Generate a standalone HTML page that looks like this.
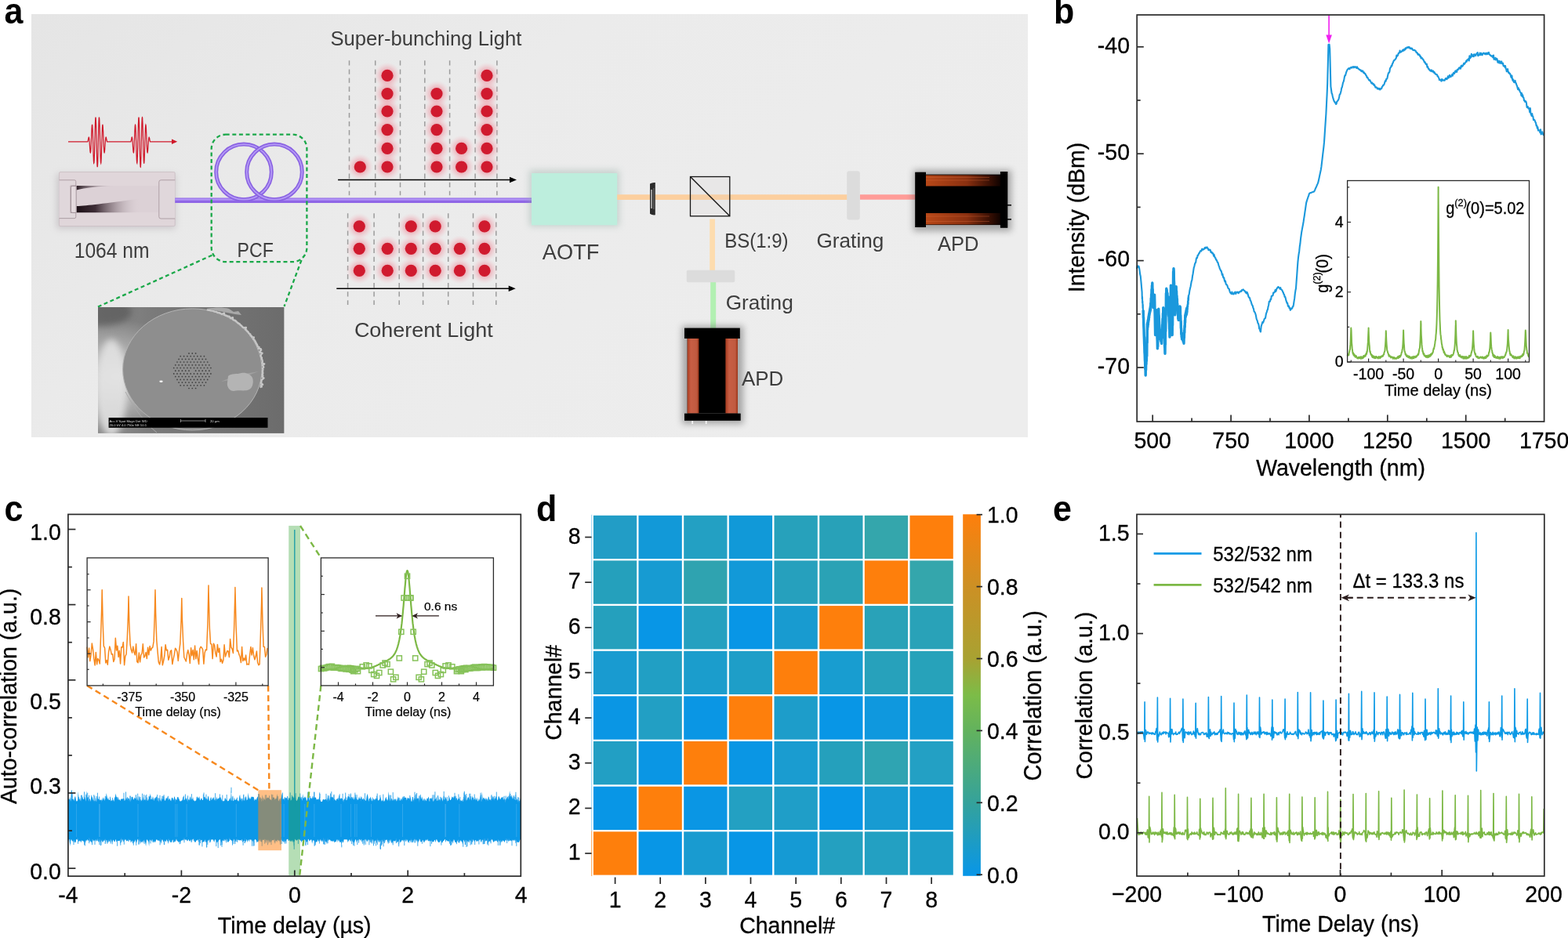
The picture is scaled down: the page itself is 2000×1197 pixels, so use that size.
<!DOCTYPE html>
<html><head><meta charset="utf-8"><title>Figure</title>
<style>
html,body{margin:0;padding:0;background:#fff;}
body{width:2000px;height:1197px;overflow:hidden;}
svg{display:block;font-family:'Liberation Sans', Arial, sans-serif;}
</style></head><body>
<svg width="2000" height="1197" viewBox="0 0 2000 1197">
<rect width="2000" height="1197" fill="#fff"/>
<defs>
<linearGradient id="abg" x1="0" y1="0" x2="1" y2="0.5"><stop offset="0" stop-color="#e5e5e5"/><stop offset="0.45" stop-color="#ebebeb"/><stop offset="1" stop-color="#ededed"/></linearGradient>
<radialGradient id="glow"><stop offset="0.4" stop-color="#ec7a8a" stop-opacity="0.55"/><stop offset="0.7" stop-color="#f0a0ac" stop-opacity="0.3"/><stop offset="1" stop-color="#f4c0c8" stop-opacity="0"/></radialGradient>
<filter id="sh" x="-30%" y="-30%" width="160%" height="160%"><feGaussianBlur stdDeviation="4"/></filter>
<filter id="sh2" x="-30%" y="-30%" width="160%" height="160%"><feGaussianBlur stdDeviation="1.2"/></filter>
<linearGradient id="cav" x1="0" y1="0" x2="1" y2="0"><stop offset="0" stop-color="#1c0f16"/><stop offset="0.3" stop-color="#3e2d36"/><stop offset="0.6" stop-color="#8c7c84" stop-opacity="0.7"/><stop offset="1" stop-color="#d6cbd0" stop-opacity="0"/></linearGradient><linearGradient id="cav2" x1="0" y1="0" x2="1" y2="0"><stop offset="0" stop-color="#2c1e26"/><stop offset="0.4" stop-color="#6a5a62" stop-opacity="0.6"/><stop offset="1" stop-color="#d6cbd0" stop-opacity="0"/></linearGradient>
<linearGradient id="cuH" x1="0" y1="0" x2="1" y2="0"><stop offset="0" stop-color="#b84818"/><stop offset="0.55" stop-color="#8a3010"/><stop offset="0.85" stop-color="#3a1004"/><stop offset="1" stop-color="#100300"/></linearGradient>
<linearGradient id="cuV" x1="0" y1="0" x2="1" y2="0"><stop offset="0" stop-color="#a83c20"/><stop offset="0.3" stop-color="#c85e44"/><stop offset="0.8" stop-color="#c05a40"/><stop offset="1" stop-color="#9a3418"/></linearGradient>
<radialGradient id="semglow" cx="0.1" cy="0.55" r="0.45"><stop offset="0" stop-color="#d8d8d8"/><stop offset="1" stop-color="#d8d8d8" stop-opacity="0"/></radialGradient>
<linearGradient id="sembg" x1="0" y1="0" x2="1" y2="0"><stop offset="0" stop-color="#8a8a8a"/><stop offset="0.3" stop-color="#7a7a7a"/><stop offset="1" stop-color="#6c6c6c"/></linearGradient>
</defs>
<rect x="40" y="18" width="1271" height="540" fill="url(#abg)" />
<text x="421.4" y="57.7" font-size="25.7" fill="#3d3d3d" textLength="244" lengthAdjust="spacingAndGlyphs">Super-bunching Light</text>
<text x="451.9" y="430" font-size="25.2" fill="#3d3d3d" textLength="176.8" lengthAdjust="spacingAndGlyphs">Coherent Light</text>
<text x="94.7" y="328.9" font-size="27" fill="#3d3d3d" textLength="95.9" lengthAdjust="spacingAndGlyphs">1064 nm</text>
<text x="302.6" y="327.8" font-size="26.4" fill="#3d3d3d" textLength="46.2" lengthAdjust="spacingAndGlyphs">PCF</text>
<text x="691.8" y="331.2" font-size="27.2" fill="#3d3d3d" textLength="72.5" lengthAdjust="spacingAndGlyphs">AOTF</text>
<text x="924.2" y="315.5" font-size="26.2" fill="#3d3d3d" textLength="81.4" lengthAdjust="spacingAndGlyphs">BS(1:9)</text>
<text x="1041.5" y="316.1" font-size="25.8" fill="#3d3d3d" textLength="85.8" lengthAdjust="spacingAndGlyphs">Grating</text>
<text x="1195.9" y="319.8" font-size="26.4" fill="#3d3d3d" textLength="52.5" lengthAdjust="spacingAndGlyphs">APD</text>
<text x="925.7" y="394.7" font-size="25.8" fill="#3d3d3d" textLength="86.1" lengthAdjust="spacingAndGlyphs">Grating</text>
<text x="946" y="491.8" font-size="26.4" fill="#3d3d3d" textLength="53.3" lengthAdjust="spacingAndGlyphs">APD</text>
<rect x="72" y="222" width="152" height="70" fill="#9a9098" opacity="0.35" filter="url(#sh)"/>
<rect x="75.5" y="219.5" width="147.7" height="69.1" rx="1.5" fill="#e0d6da" stroke="#c9bcc2" stroke-width="0.8"/>
<path d="M75.5,229.8 H95 Q96.8,229.8 96.8,231.6 V237 H90 V271.5 H96.8 V276.8 Q96.8,278.6 95,278.6 H75.5" fill="#e0d7db" stroke="#a8989f" stroke-width="0.9"/>
<rect x="97.6" y="237" width="105" height="34" fill="#dcd1d6"/>
<path d="M97.6,271.2 V263 C112,262.5 135,259.5 178,253.5 V271.2 Z" fill="url(#cav)"/>
<path d="M97.6,237 H150 C125,237.8 108,239.5 97.6,242.5 Z" fill="url(#cav2)"/>
<path d="M97.2,237.4 H92.5 Q90.5,237.4 90.5,239.4 V269.4 Q90.5,271.4 92.5,271.4 H97.2 Z" fill="#e4dade" stroke="#9c8c94" stroke-width="0.9"/>
<path d="M223.2,229.8 H205.2 Q202.8,229.8 202.8,232.2 V276.6 Q202.8,279 205.2,279 H223.2" fill="#e0d7db" stroke="#a8989f" stroke-width="0.9"/>
<polyline points="87,180.8 87.2,180.8 87.3,180.8 87.5,180.8 87.6,180.8 87.8,180.8 87.9,180.8 88.1,180.8 88.2,180.8 88.4,180.8 88.5,180.8 88.7,180.8 88.8,180.8 89,180.8 89.1,180.8 89.3,180.8 89.4,180.8 89.6,180.8 89.7,180.8 89.9,180.8 90,180.8 90.2,180.8 90.3,180.8 90.5,180.8 90.6,180.8 90.8,180.8 90.9,180.8 91.1,180.8 91.2,180.8 91.4,180.8 91.5,180.8 91.7,180.8 91.8,180.8 92,180.8 92.1,180.8 92.3,180.8 92.4,180.8 92.6,180.8 92.7,180.8 92.9,180.8 93,180.8 93.2,180.8 93.3,180.8 93.5,180.8 93.6,180.8 93.8,180.8 93.9,180.8 94.1,180.8 94.2,180.8 94.4,180.8 94.5,180.8 94.7,180.8 94.8,180.8 95,180.8 95.1,180.8 95.3,180.8 95.4,180.8 95.6,180.8 95.7,180.8 95.9,180.8 96,180.8 96.2,180.8 96.3,180.8 96.5,180.8 96.6,180.8 96.8,180.8 96.9,180.8 97.1,180.8 97.2,180.8 97.4,180.8 97.5,180.8 97.7,180.8 97.8,180.8 98,180.8 98.1,180.8 98.3,180.8 98.4,180.8 98.6,180.8 98.7,180.8 98.9,180.8 99,180.8 99.2,180.8 99.3,180.8 99.5,180.8 99.6,180.8 99.8,180.8 99.9,180.8 100.1,180.8 100.2,180.8 100.4,180.8 100.5,180.8 100.7,180.8 100.8,180.8 101,180.8 101.1,180.8 101.3,180.8 101.4,180.8 101.6,180.8 101.7,180.8 101.9,180.8 102,180.8 102.2,180.8 102.3,180.8 102.5,180.8 102.6,180.8 102.8,180.8 102.9,180.8 103.1,180.8 103.2,180.8 103.4,180.8 103.5,180.8 103.7,180.8 103.8,180.8 104,180.8 104.1,180.8 104.3,180.8 104.4,180.8 104.6,180.8 104.7,180.8 104.9,180.8 105,180.8 105.2,180.8 105.3,180.8 105.5,180.8 105.6,180.8 105.8,180.8 105.9,180.8 106.1,180.8 106.2,180.8 106.4,180.8 106.5,180.8 106.7,180.8 106.8,180.8 107,180.8 107.1,180.8 107.3,180.8 107.4,180.8 107.6,180.8 107.7,180.8 107.9,180.8 108,180.8 108.2,180.8 108.3,180.8 108.5,180.8 108.6,180.8 108.8,180.8 108.9,180.8 109.1,180.8 109.2,180.8 109.4,180.8 109.5,180.8 109.7,180.8 109.8,180.8 110,180.8 110.1,180.8 110.3,180.8 110.4,180.8 110.6,180.8 110.7,180.8 110.9,180.8 111,180.8 111.2,180.8 111.3,180.8 111.5,180.8 111.6,180.8 111.8,180.8 111.9,180.7 112.1,180.4 112.2,179.8 112.4,179 112.5,178.2 112.7,177.3 112.8,176.4 113,175.7 113.1,175.3 113.3,175.1 113.4,175.2 113.6,175.8 113.7,176.8 113.9,178.1 114,179.8 114.2,181.8 114.3,184 114.5,186.3 114.6,188.5 114.8,190.6 114.9,192.4 115.1,193.8 115.2,194.6 115.4,194.8 115.5,194.4 115.7,193.3 115.8,191.5 116,189 116.1,186.1 116.3,182.6 116.4,178.9 116.6,175.1 116.7,171.3 116.9,167.7 117,164.6 117.2,162.1 117.3,160.3 117.5,159.4 117.6,159.4 117.8,160.4 117.9,162.4 118.1,165.3 118.2,169 118.4,173.4 118.5,178.2 118.7,183.4 118.8,188.6 119,193.6 119.1,198.2 119.3,202.1 119.4,205.2 119.6,207.2 119.7,208.2 119.9,207.9 120,206.4 120.2,203.7 120.3,199.9 120.5,195.2 120.6,189.8 120.8,183.9 120.9,177.7 121.1,171.6 121.2,165.7 121.4,160.5 121.5,156.1 121.7,152.7 121.8,150.5 122,149.7 122.1,150.2 122.3,152.1 122.4,155.3 122.6,159.6 122.7,164.9 122.9,170.9 123,177.5 123.2,184.2 123.3,190.7 123.5,196.9 123.6,202.4 123.8,207 123.9,210.4 124.1,212.5 124.2,213.2 124.4,212.5 124.5,210.4 124.7,207 124.8,202.4 125,196.9 125.1,190.7 125.3,184.2 125.4,177.5 125.6,170.9 125.7,164.9 125.9,159.6 126,155.3 126.2,152.1 126.3,150.2 126.5,149.7 126.6,150.5 126.8,152.7 126.9,156.1 127.1,160.5 127.2,165.7 127.4,171.6 127.5,177.7 127.7,183.9 127.8,189.8 128,195.2 128.1,199.9 128.3,203.7 128.4,206.4 128.6,207.9 128.7,208.2 128.9,207.2 129,205.2 129.2,202.1 129.3,198.2 129.5,193.6 129.6,188.6 129.8,183.4 129.9,178.2 130.1,173.4 130.2,169 130.4,165.3 130.5,162.4 130.7,160.4 130.8,159.4 131,159.4 131.1,160.3 131.3,162.1 131.4,164.6 131.6,167.7 131.7,171.3 131.9,175.1 132,178.9 132.2,182.6 132.3,186.1 132.5,189 132.6,191.5 132.8,193.3 132.9,194.4 133.1,194.8 133.2,194.6 133.4,193.8 133.5,192.4 133.7,190.6 133.8,188.5 134,186.3 134.1,184 134.3,181.8 134.4,179.8 134.6,178.1 134.7,176.8 134.9,175.8 135,175.2 135.2,175.1 135.3,175.3 135.5,175.7 135.6,176.4 135.8,177.3 135.9,178.2 136.1,179 136.2,179.8 136.4,180.4 136.5,180.7 136.7,180.8 136.8,180.8 137,180.8 137.1,180.8 137.3,180.8 137.4,180.8 137.6,180.8 137.7,180.8 137.9,180.8 138,180.8 138.2,180.8 138.3,180.8 138.5,180.8 138.6,180.8 138.8,180.8 138.9,180.8 139.1,180.8 139.2,180.8 139.4,180.8 139.5,180.8 139.7,180.8 139.8,180.8 140,180.8 140.1,180.8 140.3,180.8 140.4,180.8 140.6,180.8 140.7,180.8 140.9,180.8 141,180.8 141.2,180.8 141.3,180.8 141.5,180.8 141.6,180.8 141.8,180.8 141.9,180.8 142.1,180.8 142.2,180.8 142.4,180.8 142.5,180.8 142.7,180.8 142.8,180.8 143,180.8 143.1,180.8 143.3,180.8 143.4,180.8 143.6,180.8 143.7,180.8 143.9,180.8 144,180.8 144.2,180.8 144.3,180.8 144.5,180.8 144.6,180.8 144.8,180.8 144.9,180.8 145.1,180.8 145.2,180.8 145.4,180.8 145.5,180.8 145.7,180.8 145.8,180.8 146,180.8 146.1,180.8 146.3,180.8 146.4,180.8 146.6,180.8 146.7,180.8 146.9,180.8 147,180.8 147.2,180.8 147.3,180.8 147.5,180.8 147.6,180.8 147.8,180.8 147.9,180.8 148.1,180.8 148.2,180.8 148.4,180.8 148.5,180.8 148.7,180.8 148.8,180.8 149,180.8 149.1,180.8 149.3,180.8 149.4,180.8 149.6,180.8 149.7,180.8 149.9,180.8 150,180.8 150.2,180.8 150.3,180.8 150.5,180.8 150.6,180.8 150.8,180.8 150.9,180.8 151.1,180.8 151.2,180.8 151.4,180.8 151.5,180.8 151.7,180.8 151.8,180.8 152,180.8 152.1,180.8 152.3,180.8 152.4,180.8 152.6,180.8 152.7,180.8 152.9,180.8 153,180.8 153.2,180.8 153.3,180.8 153.5,180.8 153.6,180.8 153.8,180.8 153.9,180.8 154.1,180.8 154.2,180.8 154.4,180.8 154.5,180.8 154.7,180.8 154.8,180.8 155,180.8 155.1,180.8 155.3,180.8 155.4,180.8 155.6,180.8 155.7,180.8 155.9,180.8 156,180.8 156.2,180.8 156.3,180.8 156.5,180.8 156.6,180.8 156.8,180.8 156.9,180.8 157.1,180.8 157.2,180.8 157.4,180.8 157.5,180.8 157.7,180.8 157.8,180.8 158,180.8 158.1,180.8 158.3,180.8 158.4,180.8 158.6,180.8 158.7,180.8 158.9,180.8 159,180.8 159.2,180.8 159.3,180.8 159.5,180.8 159.6,180.8 159.8,180.8 159.9,180.8 160.1,180.8 160.2,180.8 160.4,180.8 160.5,180.8 160.7,180.8 160.8,180.8 161,180.8 161.1,180.8 161.3,180.8 161.4,180.8 161.6,180.8 161.7,180.8 161.9,180.8 162,180.8 162.2,180.8 162.3,180.8 162.5,180.8 162.6,180.8 162.8,180.8 162.9,180.8 163.1,180.8 163.2,180.8 163.4,180.8 163.5,180.8 163.7,180.8 163.8,180.8 164,180.8 164.1,180.8 164.3,180.8 164.4,180.8 164.6,180.8 164.7,180.8 164.9,180.8 165,180.8 165.2,180.8 165.3,180.8 165.5,180.8 165.6,180.8 165.8,180.8 165.9,180.8 166.1,180.8 166.2,180.8 166.4,180.8 166.5,180.8 166.7,180.8 166.8,180.8 167,180.6 167.1,180.2 167.3,179.5 167.4,178.8 167.6,177.9 167.7,177 167.9,176.2 168,175.5 168.2,175.2 168.3,175.1 168.5,175.4 168.6,176.1 168.8,177.2 168.9,178.7 169.1,180.5 169.2,182.5 169.4,184.8 169.5,187 169.7,189.2 169.8,191.2 170,192.9 170.1,194.1 170.3,194.7 170.4,194.8 170.6,194.1 170.7,192.8 170.9,190.7 171,188.1 171.2,185 171.3,181.4 171.5,177.6 171.6,173.8 171.8,170.1 171.9,166.6 172.1,163.7 172.2,161.4 172.4,159.9 172.5,159.3 172.7,159.6 172.8,161 173,163.2 173.1,166.4 173.3,170.4 173.4,175 173.6,179.9 173.7,185.1 173.9,190.3 174,195.2 174.2,199.6 174.3,203.2 174.5,206 174.6,207.7 174.8,208.2 174.9,207.5 175.1,205.6 175.2,202.5 175.4,198.5 175.5,193.5 175.7,187.9 175.8,181.8 176,175.6 176.1,169.6 176.3,163.9 176.4,158.9 176.6,154.8 176.7,151.8 176.9,150.1 177,149.7 177.2,150.7 177.3,153 177.5,156.6 177.6,161.3 177.8,166.8 177.9,173.1 178.1,179.7 178.2,186.4 178.4,192.9 178.5,198.8 178.7,204.1 178.8,208.2 179,211.2 179.1,212.9 179.3,213.1 179.4,211.9 179.6,209.4 179.7,205.6 179.9,200.7 180,194.9 180.2,188.6 180.3,181.9 180.5,175.2 180.6,168.9 180.8,163 180.9,158 181.1,154.1 181.2,151.3 181.4,149.9 181.5,149.8 181.7,151.1 181.8,153.7 182,157.4 182.1,162.2 182.3,167.6 182.4,173.6 182.6,179.8 182.7,185.9 182.9,191.7 183,196.9 183.2,201.3 183.3,204.7 183.5,207 183.6,208.1 183.8,208 183.9,206.7 184.1,204.3 184.2,200.9 184.4,196.7 184.5,192 184.7,186.9 184.8,181.7 185,176.6 185.1,171.8 185.3,167.7 185.4,164.2 185.6,161.6 185.7,160 185.9,159.3 186,159.6 186.2,160.8 186.3,162.8 186.5,165.6 186.6,168.9 186.8,172.5 186.9,176.4 187.1,180.2 187.2,183.8 187.4,187.1 187.5,189.9 187.7,192.2 187.8,193.7 188,194.6 188.1,194.8 188.3,194.4 188.4,193.3 188.6,191.8 188.7,189.9 188.9,187.8 189,185.5 189.2,183.3 189.3,181.1 189.5,179.2 189.6,177.6 189.8,176.4 189.9,175.6 190.1,175.1 190.2,175.1 190.4,175.4 190.5,175.9 190.7,176.7 190.8,177.6 191,178.5 191.1,179.3 191.3,180 191.4,180.5 191.6,180.8 191.7,180.8 191.9,180.8 192,180.8 192.2,180.8 192.3,180.8 192.5,180.8 192.6,180.8 192.8,180.8 192.9,180.8 193.1,180.8 193.2,180.8 193.4,180.8 193.5,180.8 193.7,180.8 193.8,180.8 194,180.8 194.1,180.8 194.3,180.8 194.4,180.8 194.6,180.8 194.7,180.8 194.9,180.8 195,180.8 195.2,180.8 195.3,180.8 195.5,180.8 195.6,180.8 195.8,180.8 195.9,180.8 196.1,180.8 196.2,180.8 196.4,180.8 196.5,180.8 196.7,180.8 196.8,180.8 197,180.8 197.1,180.8 197.3,180.8 197.4,180.8 197.6,180.8 197.7,180.8 197.9,180.8 198,180.8 198.2,180.8 198.3,180.8 198.5,180.8 198.6,180.8 198.8,180.8 198.9,180.8 199.1,180.8 199.2,180.8 199.4,180.8 199.5,180.8 199.7,180.8 199.8,180.8 200,180.8 200.1,180.8 200.3,180.8 200.4,180.8 200.6,180.8 200.7,180.8 200.9,180.8 201,180.8 201.2,180.8 201.3,180.8 201.5,180.8 201.6,180.8 201.8,180.8 201.9,180.8 202.1,180.8 202.2,180.8 202.4,180.8 202.5,180.8 202.7,180.8 202.8,180.8 203,180.8 203.1,180.8 203.3,180.8 203.4,180.8 203.6,180.8 203.7,180.8 203.9,180.8 204,180.8 204.2,180.8 204.3,180.8 204.5,180.8 204.6,180.8 204.8,180.8 204.9,180.8 205.1,180.8 205.2,180.8 205.4,180.8 205.5,180.8 205.7,180.8 205.8,180.8 206,180.8 206.1,180.8 206.3,180.8 206.4,180.8 206.6,180.8 206.7,180.8 206.9,180.8 207,180.8 207.2,180.8 207.3,180.8 207.5,180.8 207.6,180.8 207.8,180.8 207.9,180.8 208.1,180.8 208.2,180.8 208.4,180.8 208.5,180.8 208.7,180.8 208.8,180.8 209,180.8 209.1,180.8 209.3,180.8 209.4,180.8 209.6,180.8 209.7,180.8 209.9,180.8 210,180.8 210.2,180.8 210.3,180.8 210.5,180.8 210.6,180.8 210.8,180.8 210.9,180.8 211.1,180.8 211.2,180.8 211.4,180.8 211.5,180.8 211.7,180.8 211.8,180.8 212,180.8 212.1,180.8 212.3,180.8 212.4,180.8 212.6,180.8 212.7,180.8 212.9,180.8 213,180.8 213.2,180.8 213.3,180.8 213.5,180.8 213.6,180.8 213.8,180.8 213.9,180.8 214.1,180.8 214.2,180.8 214.4,180.8 214.5,180.8 214.7,180.8 214.8,180.8 215,180.8 215.1,180.8 215.3,180.8 215.4,180.8 215.6,180.8 215.7,180.8 215.9,180.8 216,180.8 216.2,180.8 216.3,180.8 216.5,180.8 216.6,180.8 216.8,180.8 216.9,180.8 217.1,180.8 217.2,180.8 217.4,180.8 217.5,180.8 217.7,180.8 217.8,180.8 218,180.8 218.1,180.8 218.3,180.8 218.4,180.8 218.6,180.8 218.7,180.8 218.9,180.8 219,180.8 219.2,180.8 219.3,180.8 219.5,180.8 219.6,180.8 219.8,180.8 219.9,180.8" fill="none" stroke="#d0182a" stroke-width="1.25"/>
<polygon points="226.2,180.8 219,177.6 219,184" fill="#d0182a"/>
<line x1="223.2" y1="255.7" x2="678" y2="255.7" stroke="#8f66e6" stroke-width="6.6" />
<line x1="223.2" y1="254.6" x2="678" y2="254.6" stroke="#b295f6" stroke-width="2.2" />
<circle cx="311" cy="219.4" r="35.3" fill="none" stroke="#8a62e2" stroke-width="5"/>
<circle cx="311" cy="219.4" r="35.3" fill="none" stroke="#b49af6" stroke-width="1.8"/>
<circle cx="350" cy="219.4" r="35.3" fill="none" stroke="#8a62e2" stroke-width="5"/>
<circle cx="350" cy="219.4" r="35.3" fill="none" stroke="#b49af6" stroke-width="1.8"/>
<rect x="269.7" y="171.7" width="121.7" height="162.4" rx="18" fill="none" stroke="#1aa849" stroke-width="2.3" stroke-dasharray="5,3.6"/>
<line x1="270.4" y1="325.7" x2="125" y2="391.5" stroke="#1aa849" stroke-width="2.3" stroke-dasharray="5,3.6"/>
<line x1="384.5" y1="332" x2="362.5" y2="391" stroke="#1aa849" stroke-width="2.3" stroke-dasharray="5,3.6"/>
<clipPath id="semclip"><rect x="125" y="392" width="237.6" height="160.9"/></clipPath>
<g clip-path="url(#semclip)">
<rect x="125" y="392" width="237.6" height="160.9" fill="url(#sembg)" />
<rect x="125" y="392" width="237.6" height="160.9" fill="url(#semglow)" />
<ellipse cx="142" cy="495" rx="20" ry="62" fill="#e4e4e4" opacity="0.85" filter="url(#sh)"/>
<ellipse cx="128" cy="398" rx="40" ry="18" fill="#505050" opacity="0.6" filter="url(#sh)"/>
<ellipse cx="245.3" cy="471.4" rx="88.7" ry="77.5" fill="#8e8e8e" stroke="#b4b4b4" stroke-width="1"/>
<path d="M160,500 C170,520 185,540 200,552" fill="none" stroke="#a8a8a8" stroke-width="1"/>
<polyline points="264,395.1 265.5,395.7 267.1,395.5 268.5,396.4 270.1,396.4 271.7,396.6 273.1,397.4 274.6,397.7 276.2,397.8 277.4,399 279.1,399 280.6,399.5 281.9,400.2 283.2,401.1 285.9,399.4 286.2,401.8 287.6,402.5 289.2,402.9 290.5,403.6 292.2,403.7 293.4,404.8 294.2,406.2 296.9,405.2 296.9,407.6 298.2,408.4 299.8,408.8 300.9,409.7 302,410.8 303.1,411.8 304.2,412.7 305.7,413.4 306.5,414.6 307.7,415.4 308.7,416.5 309.7,417.6 311,418.3 313.9,417.9 313,420.5 314.3,421.3 315.1,422.5 316.3,423.3 317.1,424.6 317.9,425.7 319.3,426.5 319.5,428.1 321,428.9 321.5,430.2 323.9,430.5 323,432.5 324.2,433.5 325,434.7 325.7,435.9 326.4,437.1 326.9,438.5 327.8,439.6 328.3,440.9 328.6,442.3 330.6,443.1 329.6,444.8 332.7,445.3 333.2,446.7 331.4,448.6 331.9,449.9 334.6,450.7 332.9,452.5 332.6,453.9 332.9,455.3 333.9,456.5 333.8,457.9 334.4,459.2 334.7,460.5 334.8,461.9 334.3,463.3 337.2,464.4 334.9,466 335.7,467.3 336.3,468.6 335,470 335.4,471.4 335.1,472.8 334.9,474.1 335.2,475.5 335.2,476.8 334.5,478.2 335.4,479.6 334.4,480.9 336.5,482.5 335.1,483.7 333.7,484.9 333.4,486.2 333.3,487.6 332.8,488.9 335.1,490.8 332.6,491.7 333.8,493.4 331.6,494.2" fill="none" stroke="#c6c6c6" stroke-width="2.4" stroke-linejoin="round"/>
<path d="M263,394 C275,392 285,392 292,394 L298,398 L304,397 L308,402 L300,401 L290,399 Z" fill="#a8a8a8"/>
<path d="M282,487 C295,481 315,476 330,474 C318,479 300,484 282,487 Z" fill="#a0a0a0"/>
<g fill="#3c3c3c"><circle cx="241" cy="450.9" r="0.85"/><circle cx="245.3" cy="450.9" r="0.85"/><circle cx="249.6" cy="450.9" r="0.85"/><circle cx="230.2" cy="454.6" r="0.85"/><circle cx="234.6" cy="454.6" r="0.85"/><circle cx="238.9" cy="454.6" r="0.85"/><circle cx="243.2" cy="454.6" r="0.85"/><circle cx="247.5" cy="454.6" r="0.85"/><circle cx="251.8" cy="454.6" r="0.85"/><circle cx="256.1" cy="454.6" r="0.85"/><circle cx="260.4" cy="454.6" r="0.85"/><circle cx="228.1" cy="458.3" r="0.85"/><circle cx="232.4" cy="458.3" r="0.85"/><circle cx="236.7" cy="458.3" r="0.85"/><circle cx="241" cy="458.3" r="0.85"/><circle cx="245.3" cy="458.3" r="0.85"/><circle cx="249.6" cy="458.3" r="0.85"/><circle cx="253.9" cy="458.3" r="0.85"/><circle cx="258.2" cy="458.3" r="0.85"/><circle cx="262.5" cy="458.3" r="0.85"/><circle cx="226" cy="462" r="0.85"/><circle cx="230.2" cy="462" r="0.85"/><circle cx="234.6" cy="462" r="0.85"/><circle cx="238.9" cy="462" r="0.85"/><circle cx="243.2" cy="462" r="0.85"/><circle cx="247.5" cy="462" r="0.85"/><circle cx="251.8" cy="462" r="0.85"/><circle cx="256.1" cy="462" r="0.85"/><circle cx="260.4" cy="462" r="0.85"/><circle cx="264.7" cy="462" r="0.85"/><circle cx="223.8" cy="465.8" r="0.85"/><circle cx="228.1" cy="465.8" r="0.85"/><circle cx="232.4" cy="465.8" r="0.85"/><circle cx="236.7" cy="465.8" r="0.85"/><circle cx="241" cy="465.8" r="0.85"/><circle cx="245.3" cy="465.8" r="0.85"/><circle cx="249.6" cy="465.8" r="0.85"/><circle cx="253.9" cy="465.8" r="0.85"/><circle cx="258.2" cy="465.8" r="0.85"/><circle cx="262.5" cy="465.8" r="0.85"/><circle cx="266.8" cy="465.8" r="0.85"/><circle cx="221.7" cy="469.5" r="0.85"/><circle cx="226" cy="469.5" r="0.85"/><circle cx="230.2" cy="469.5" r="0.85"/><circle cx="234.6" cy="469.5" r="0.85"/><circle cx="238.9" cy="469.5" r="0.85"/><circle cx="243.2" cy="469.5" r="0.85"/><circle cx="247.5" cy="469.5" r="0.85"/><circle cx="251.8" cy="469.5" r="0.85"/><circle cx="256.1" cy="469.5" r="0.85"/><circle cx="260.4" cy="469.5" r="0.85"/><circle cx="264.7" cy="469.5" r="0.85"/><circle cx="268.9" cy="469.5" r="0.85"/><circle cx="223.8" cy="473.2" r="0.85"/><circle cx="228.1" cy="473.2" r="0.85"/><circle cx="232.4" cy="473.2" r="0.85"/><circle cx="236.7" cy="473.2" r="0.85"/><circle cx="241" cy="473.2" r="0.85"/><circle cx="249.6" cy="473.2" r="0.85"/><circle cx="253.9" cy="473.2" r="0.85"/><circle cx="258.2" cy="473.2" r="0.85"/><circle cx="262.5" cy="473.2" r="0.85"/><circle cx="266.8" cy="473.2" r="0.85"/><circle cx="221.7" cy="476.9" r="0.85"/><circle cx="226" cy="476.9" r="0.85"/><circle cx="230.2" cy="476.9" r="0.85"/><circle cx="234.6" cy="476.9" r="0.85"/><circle cx="238.9" cy="476.9" r="0.85"/><circle cx="243.2" cy="476.9" r="0.85"/><circle cx="247.5" cy="476.9" r="0.85"/><circle cx="251.8" cy="476.9" r="0.85"/><circle cx="256.1" cy="476.9" r="0.85"/><circle cx="260.4" cy="476.9" r="0.85"/><circle cx="264.7" cy="476.9" r="0.85"/><circle cx="268.9" cy="476.9" r="0.85"/><circle cx="223.8" cy="480.6" r="0.85"/><circle cx="228.1" cy="480.6" r="0.85"/><circle cx="232.4" cy="480.6" r="0.85"/><circle cx="236.7" cy="480.6" r="0.85"/><circle cx="241" cy="480.6" r="0.85"/><circle cx="245.3" cy="480.6" r="0.85"/><circle cx="249.6" cy="480.6" r="0.85"/><circle cx="253.9" cy="480.6" r="0.85"/><circle cx="258.2" cy="480.6" r="0.85"/><circle cx="262.5" cy="480.6" r="0.85"/><circle cx="266.8" cy="480.6" r="0.85"/><circle cx="226" cy="484.4" r="0.85"/><circle cx="230.2" cy="484.4" r="0.85"/><circle cx="234.6" cy="484.4" r="0.85"/><circle cx="238.9" cy="484.4" r="0.85"/><circle cx="243.2" cy="484.4" r="0.85"/><circle cx="247.5" cy="484.4" r="0.85"/><circle cx="251.8" cy="484.4" r="0.85"/><circle cx="256.1" cy="484.4" r="0.85"/><circle cx="260.4" cy="484.4" r="0.85"/><circle cx="264.7" cy="484.4" r="0.85"/><circle cx="228.1" cy="488.1" r="0.85"/><circle cx="232.4" cy="488.1" r="0.85"/><circle cx="236.7" cy="488.1" r="0.85"/><circle cx="241" cy="488.1" r="0.85"/><circle cx="245.3" cy="488.1" r="0.85"/><circle cx="249.6" cy="488.1" r="0.85"/><circle cx="253.9" cy="488.1" r="0.85"/><circle cx="258.2" cy="488.1" r="0.85"/><circle cx="262.5" cy="488.1" r="0.85"/><circle cx="230.2" cy="491.8" r="0.85"/><circle cx="234.6" cy="491.8" r="0.85"/><circle cx="238.9" cy="491.8" r="0.85"/><circle cx="243.2" cy="491.8" r="0.85"/><circle cx="247.5" cy="491.8" r="0.85"/><circle cx="251.8" cy="491.8" r="0.85"/><circle cx="256.1" cy="491.8" r="0.85"/><circle cx="260.4" cy="491.8" r="0.85"/><circle cx="241" cy="495.5" r="0.85"/><circle cx="245.3" cy="495.5" r="0.85"/><circle cx="249.6" cy="495.5" r="0.85"/></g>
<path d="M291,480 C295,476 302,478 308,476 C314,475 320,478 322,482 C324,488 322,495 318,497 C312,500 304,497 298,499 C293,499 289,494 290,488 Z" fill="#b4b4b4"/>
<ellipse cx="205.5" cy="486.7" rx="2.2" ry="1.3" fill="#f4f4f4"/>
<rect x="138.6" y="533" width="202.9" height="12.8" fill="#000" />
<g fill="#ddd" font-size="4.2">
<text x="139.5" y="538.5">Acc.V  Spot Magn   Det  WD</text><text x="139.5" y="544.2">20.0 kV 4.0  750x   SE  10.1</text>
<text x="268" y="538.5">20 µm</text></g>
<line x1="230.5" y1="537" x2="262" y2="537" stroke="#ddd" stroke-width="0.6" />
<line x1="230.5" y1="535" x2="230.5" y2="539" stroke="#ddd" stroke-width="0.6" />
<line x1="262" y1="535" x2="262" y2="539" stroke="#ddd" stroke-width="0.6" />
</g>
<line x1="445.5" y1="76" x2="445.5" y2="249.3" stroke="#9c9c9c" stroke-width="1.5" stroke-dasharray="6.3,4.8" stroke-dashoffset="9.8"/>
<line x1="478.7" y1="76" x2="478.7" y2="249.3" stroke="#9c9c9c" stroke-width="1.5" stroke-dasharray="6.3,4.8" stroke-dashoffset="9.8"/>
<line x1="510.5" y1="76" x2="510.5" y2="249.3" stroke="#9c9c9c" stroke-width="1.5" stroke-dasharray="6.3,4.8" stroke-dashoffset="9.8"/>
<line x1="541.8" y1="76" x2="541.8" y2="249.3" stroke="#9c9c9c" stroke-width="1.5" stroke-dasharray="6.3,4.8" stroke-dashoffset="9.8"/>
<line x1="573.6" y1="76" x2="573.6" y2="249.3" stroke="#9c9c9c" stroke-width="1.5" stroke-dasharray="6.3,4.8" stroke-dashoffset="9.8"/>
<line x1="606.1" y1="76" x2="606.1" y2="249.3" stroke="#9c9c9c" stroke-width="1.5" stroke-dasharray="6.3,4.8" stroke-dashoffset="9.8"/>
<line x1="633.9" y1="76" x2="633.9" y2="249.3" stroke="#9c9c9c" stroke-width="1.5" stroke-dasharray="6.3,4.8" stroke-dashoffset="9.8"/>
<line x1="443.6" y1="272.3" x2="443.6" y2="389" stroke="#9c9c9c" stroke-width="1.5" stroke-dasharray="6.3,4.8"/>
<line x1="477.1" y1="272.3" x2="477.1" y2="389" stroke="#9c9c9c" stroke-width="1.5" stroke-dasharray="6.3,4.8"/>
<line x1="509.2" y1="272.3" x2="509.2" y2="389" stroke="#9c9c9c" stroke-width="1.5" stroke-dasharray="6.3,4.8"/>
<line x1="539.6" y1="272.3" x2="539.6" y2="389" stroke="#9c9c9c" stroke-width="1.5" stroke-dasharray="6.3,4.8"/>
<line x1="571.7" y1="272.3" x2="571.7" y2="389" stroke="#9c9c9c" stroke-width="1.5" stroke-dasharray="6.3,4.8"/>
<line x1="603.5" y1="272.3" x2="603.5" y2="389" stroke="#9c9c9c" stroke-width="1.5" stroke-dasharray="6.3,4.8"/>
<line x1="632.8" y1="272.3" x2="632.8" y2="389" stroke="#9c9c9c" stroke-width="1.5" stroke-dasharray="6.3,4.8"/>
<circle cx="459.3" cy="213" r="17" fill="url(#glow)"/>
<circle cx="494" cy="213" r="17" fill="url(#glow)"/>
<circle cx="494" cy="189.4" r="17" fill="url(#glow)"/>
<circle cx="494" cy="165.6" r="17" fill="url(#glow)"/>
<circle cx="494" cy="142" r="17" fill="url(#glow)"/>
<circle cx="494" cy="119.6" r="17" fill="url(#glow)"/>
<circle cx="494" cy="96.4" r="17" fill="url(#glow)"/>
<circle cx="557" cy="213" r="17" fill="url(#glow)"/>
<circle cx="557" cy="189.4" r="17" fill="url(#glow)"/>
<circle cx="557" cy="165.6" r="17" fill="url(#glow)"/>
<circle cx="557" cy="142" r="17" fill="url(#glow)"/>
<circle cx="557" cy="119.6" r="17" fill="url(#glow)"/>
<circle cx="588.6" cy="213" r="17" fill="url(#glow)"/>
<circle cx="588.6" cy="189.4" r="17" fill="url(#glow)"/>
<circle cx="621" cy="213" r="17" fill="url(#glow)"/>
<circle cx="621" cy="189.4" r="17" fill="url(#glow)"/>
<circle cx="621" cy="165.6" r="17" fill="url(#glow)"/>
<circle cx="621" cy="142" r="17" fill="url(#glow)"/>
<circle cx="621" cy="119.6" r="17" fill="url(#glow)"/>
<circle cx="621" cy="96.4" r="17" fill="url(#glow)"/>
<circle cx="458.3" cy="345.4" r="17" fill="url(#glow)"/>
<circle cx="458.3" cy="317.3" r="17" fill="url(#glow)"/>
<circle cx="458.3" cy="288.8" r="17" fill="url(#glow)"/>
<circle cx="494.2" cy="345.4" r="17" fill="url(#glow)"/>
<circle cx="494.2" cy="317.3" r="17" fill="url(#glow)"/>
<circle cx="524.3" cy="345.4" r="17" fill="url(#glow)"/>
<circle cx="524.3" cy="317.3" r="17" fill="url(#glow)"/>
<circle cx="524.3" cy="288.8" r="17" fill="url(#glow)"/>
<circle cx="555.2" cy="345.4" r="17" fill="url(#glow)"/>
<circle cx="555.2" cy="317.3" r="17" fill="url(#glow)"/>
<circle cx="555.2" cy="288.8" r="17" fill="url(#glow)"/>
<circle cx="586.4" cy="345.4" r="17" fill="url(#glow)"/>
<circle cx="586.4" cy="317.3" r="17" fill="url(#glow)"/>
<circle cx="618" cy="345.4" r="17" fill="url(#glow)"/>
<circle cx="618" cy="317.3" r="17" fill="url(#glow)"/>
<circle cx="618" cy="288.8" r="17" fill="url(#glow)"/>
<circle cx="459.3" cy="213" r="7.6" fill="#d01a2e"/>
<circle cx="494" cy="213" r="7.6" fill="#d01a2e"/>
<circle cx="494" cy="189.4" r="7.6" fill="#d01a2e"/>
<circle cx="494" cy="165.6" r="7.6" fill="#d01a2e"/>
<circle cx="494" cy="142" r="7.6" fill="#d01a2e"/>
<circle cx="494" cy="119.6" r="7.6" fill="#d01a2e"/>
<circle cx="494" cy="96.4" r="7.6" fill="#d01a2e"/>
<circle cx="557" cy="213" r="7.6" fill="#d01a2e"/>
<circle cx="557" cy="189.4" r="7.6" fill="#d01a2e"/>
<circle cx="557" cy="165.6" r="7.6" fill="#d01a2e"/>
<circle cx="557" cy="142" r="7.6" fill="#d01a2e"/>
<circle cx="557" cy="119.6" r="7.6" fill="#d01a2e"/>
<circle cx="588.6" cy="213" r="7.6" fill="#d01a2e"/>
<circle cx="588.6" cy="189.4" r="7.6" fill="#d01a2e"/>
<circle cx="621" cy="213" r="7.6" fill="#d01a2e"/>
<circle cx="621" cy="189.4" r="7.6" fill="#d01a2e"/>
<circle cx="621" cy="165.6" r="7.6" fill="#d01a2e"/>
<circle cx="621" cy="142" r="7.6" fill="#d01a2e"/>
<circle cx="621" cy="119.6" r="7.6" fill="#d01a2e"/>
<circle cx="621" cy="96.4" r="7.6" fill="#d01a2e"/>
<circle cx="458.3" cy="345.4" r="7.6" fill="#d01a2e"/>
<circle cx="458.3" cy="317.3" r="7.6" fill="#d01a2e"/>
<circle cx="458.3" cy="288.8" r="7.6" fill="#d01a2e"/>
<circle cx="494.2" cy="345.4" r="7.6" fill="#d01a2e"/>
<circle cx="494.2" cy="317.3" r="7.6" fill="#d01a2e"/>
<circle cx="524.3" cy="345.4" r="7.6" fill="#d01a2e"/>
<circle cx="524.3" cy="317.3" r="7.6" fill="#d01a2e"/>
<circle cx="524.3" cy="288.8" r="7.6" fill="#d01a2e"/>
<circle cx="555.2" cy="345.4" r="7.6" fill="#d01a2e"/>
<circle cx="555.2" cy="317.3" r="7.6" fill="#d01a2e"/>
<circle cx="555.2" cy="288.8" r="7.6" fill="#d01a2e"/>
<circle cx="586.4" cy="345.4" r="7.6" fill="#d01a2e"/>
<circle cx="586.4" cy="317.3" r="7.6" fill="#d01a2e"/>
<circle cx="618" cy="345.4" r="7.6" fill="#d01a2e"/>
<circle cx="618" cy="317.3" r="7.6" fill="#d01a2e"/>
<circle cx="618" cy="288.8" r="7.6" fill="#d01a2e"/>
<line x1="431.1" y1="229.5" x2="653" y2="229.5" stroke="#000" stroke-width="1.5" /><polygon points="659,229.5 650,225.7 650,233.3" fill="#000"/>
<line x1="429.3" y1="368.2" x2="651.7" y2="368.2" stroke="#000" stroke-width="1.5" /><polygon points="657.7,368.2 648.7,364.4 648.7,372" fill="#000"/>
<rect x="675" y="217" width="115" height="72" fill="#8fa8a0" opacity="0.4" filter="url(#sh)"/>
<rect x="678" y="221" width="109.2" height="66.3" fill="#bdeedd" />
<line x1="787.2" y1="251.6" x2="1081.6" y2="251.6" stroke="#fccf9e" stroke-width="6.6" />
<line x1="908.6" y1="279.5" x2="908.6" y2="345" stroke="#fddcae" stroke-width="6.7" />
<line x1="909.7" y1="360" x2="909.7" y2="419" stroke="#b2f0b2" stroke-width="7" />
<line x1="1096.8" y1="251.4" x2="1167.5" y2="251.4" stroke="#ff9c98" stroke-width="6.5" />
<path d="M829,234.5 Q832,232.5 835.8,233 V274.3 Q832,274.8 829,272.8 Z" fill="#2c2c2c"/>
<rect x="830.2" y="242" width="1.6" height="24" fill="#b8b8b8"/>
<rect x="833.2" y="240" width="1.2" height="27" fill="#6a6a6a"/>
<rect x="880.5" y="225.5" width="50.3" height="50.3" fill="#d8d2d2" fill-opacity="0.15" stroke="#151515" stroke-width="1.3"/>
<line x1="880.5" y1="225.5" x2="930.8" y2="275.8" stroke="#151515" stroke-width="1.4" />
<rect x="1080.2" y="218.3" width="16.6" height="62.3" rx="3" fill="#dcdcdc"/>
<rect x="875.7" y="344.7" width="61.6" height="15.6" rx="2" fill="#dcdcdc"/>
<rect x="1165" y="217" width="125" height="78" fill="#505050" opacity="0.45" filter="url(#sh)"/>
<rect x="1181" y="222.6" width="95" height="64.5" fill="#000" />
<rect x="1181" y="223.5" width="95" height="14" fill="url(#cuH)" />
<rect x="1181" y="272" width="95" height="14.5" fill="url(#cuH)" />
<line x1="1181" y1="226.5" x2="1262" y2="226.5" stroke="#e07040" stroke-width="0.7" opacity="0.5"/>
<line x1="1181" y1="230" x2="1262" y2="230" stroke="#e07040" stroke-width="0.7" opacity="0.5"/>
<line x1="1181" y1="276" x2="1262" y2="276" stroke="#e07040" stroke-width="0.7" opacity="0.5"/>
<line x1="1181" y1="282.5" x2="1262" y2="282.5" stroke="#e07040" stroke-width="0.7" opacity="0.5"/>
<rect x="1167.2" y="219.7" width="13.8" height="70.3" fill="#000" />
<rect x="1275.9" y="219" width="9.4" height="71.8" fill="#000" />
<line x1="1285" y1="261.8" x2="1290" y2="261.8" stroke="#000" stroke-width="1.5" />
<line x1="1285" y1="279.9" x2="1290" y2="279.9" stroke="#000" stroke-width="1.5" />
<rect x="870" y="416" width="78" height="125" fill="#505050" opacity="0.45" filter="url(#sh)"/>
<rect x="876.7" y="432" width="64.3" height="95.6" fill="#000" />
<rect x="876.7" y="432" width="14.7" height="95.6" fill="url(#cuV)" />
<rect x="925.4" y="432" width="15.6" height="95.6" fill="url(#cuV)" />
<rect x="873" y="418.6" width="70.8" height="13.4" fill="#000" />
<rect x="873" y="527.6" width="71.7" height="9.2" fill="#000" />
<rect x="882.3" y="537" width="1.8" height="4" fill="#f4f4f4" />
<rect x="899.8" y="537" width="1.8" height="4" fill="#f4f4f4" />
<polyline points="1450,342.9 1450.6,339.2 1451.2,341.2 1451.8,339.5 1452.4,339.7 1453,341.3 1453.6,345.3 1454.2,350.1 1454.8,352.5 1455.4,358.8 1456,365.9 1456.6,372.6 1456.8,381.4 1457,378.9 1457.2,387 1457.4,384.5 1457.6,393.2 1457.8,388.7 1458,400.8 1458.2,395.7 1458.4,405.6 1458.6,405.2 1458.8,415.3 1459,419.7 1459.2,427.6 1459.4,432.3 1459.6,438.8 1459.8,441.8 1460,450.1 1460.2,452.9 1460.4,459.9 1460.6,462.2 1460.8,471.3 1461,467.4 1461.2,479 1461.4,462.8 1461.6,472.2 1461.8,458.6 1462,465 1462.2,451.4 1462.4,460.8 1462.6,446.2 1462.8,454.6 1463,429.9 1463.2,437.5 1463.4,413.2 1463.6,420.8 1463.8,411.2 1464,417.5 1464.2,408.8 1464.4,414.5 1464.6,407 1464.8,411 1465,404.1 1465.2,408.5 1465.4,401.9 1465.6,405.4 1465.8,399.8 1466,402.1 1466.2,397.7 1466.4,399.9 1466.6,395.3 1466.8,398.3 1467,393.1 1467.2,396.6 1467.4,390.8 1467.6,395 1467.8,386.8 1468,391.5 1468.2,380.5 1468.4,387.1 1468.6,375.4 1468.8,381.3 1469,369.1 1469.2,376.8 1469.4,364.4 1469.6,370.7 1469.8,361 1470,370.2 1470.2,369 1470.4,378.9 1470.6,378.3 1470.8,386.4 1471,383.6 1471.2,392.6 1471.4,380.4 1471.6,391.8 1471.8,378.9 1472,389.4 1472.2,377.5 1472.4,386.8 1472.6,376.3 1472.8,384.1 1473,396.9 1473.2,405.3 1473.4,416.5 1473.6,427.5 1473.8,413.1 1474,420.6 1474.2,405.6 1474.4,417.9 1474.6,402.7 1474.8,410.7 1475,395.6 1475.2,407.5 1475.4,407.1 1475.6,415.1 1475.8,419.7 1476,431.2 1476.2,435 1476.4,444.7 1476.6,434 1476.8,442.2 1477,416.4 1477.2,424.2 1477.4,398.5 1477.6,406.5 1477.8,394.1 1478,401.3 1478.2,403.2 1478.4,408.8 1478.6,411.8 1478.8,416.7 1479,419.9 1479.2,425.1 1479.4,426.3 1479.6,431.9 1479.8,428.6 1480,432.8 1480.2,430.8 1480.4,433.7 1480.6,432.4 1480.8,435.3 1481,434.4 1481.2,436.5 1481.4,435.6 1481.6,438.4 1481.8,428.6 1482,431.5 1482.2,420.9 1482.4,425.2 1482.6,414.3 1482.8,417.9 1483,406.4 1483.2,411.9 1483.4,399.7 1483.6,404.6 1483.8,392.6 1484,397.8 1484.2,401.6 1484.4,409.9 1484.6,413.5 1484.8,419 1485,422.8 1485.2,430.6 1485.4,432.3 1485.6,442.2 1485.8,444.2 1486,451.3 1486.2,432.7 1486.4,439.8 1486.6,411.7 1486.8,423.1 1487,394.1 1487.2,402.9 1487.4,374.2 1487.6,385.1 1487.8,368.3 1488,374.8 1488.2,369.8 1488.4,378.6 1488.6,373.1 1488.8,380.6 1489,374.2 1489.2,384.9 1489.4,378.8 1489.6,385.7 1489.8,378.7 1490,391.1 1490.2,386 1490.4,392.3 1490.6,393 1490.8,403.4 1491,404.3 1491.2,410.2 1491.4,412.8 1491.6,419.8 1491.8,420.5 1492,430.1 1492.2,407.8 1492.4,413.7 1492.6,393.4 1492.8,399.1 1493,378 1493.2,385.3 1493.4,364.3 1493.6,369.9 1493.8,374 1494,378.1 1494.2,389.7 1494.4,395.7 1494.6,407.6 1494.8,411.2 1495,424.6 1495.2,427.6 1495.4,412.4 1495.6,415.2 1495.8,390.6 1496,393 1496.2,368.6 1496.4,371 1496.6,346.5 1496.8,349.1 1497,342.6 1497.2,346 1497.4,357.5 1497.6,360.9 1497.8,371.8 1498,376.5 1498.2,386 1498.4,392.2 1498.6,395.1 1498.8,401.9 1499,387.4 1499.2,395.5 1499.4,380.3 1499.6,388.4 1499.8,372.7 1500,381.9 1500.2,365.7 1500.4,374.7 1500.6,371.4 1500.8,379.6 1501,377.3 1501.2,384.4 1501.4,381.3 1501.6,391.2 1501.8,387.5 1502,395.6 1502.2,393.5 1502.4,400.4 1502.6,397.6 1502.8,406.9 1503,396.3 1503.2,408.5 1503.4,397.2 1503.6,404.4 1503.8,394.1 1504,404.3 1504.2,393.1 1504.4,402.1 1504.6,391.2 1504.8,400.8 1505,390.9 1505.2,397.9 1505.4,391.8 1505.6,403.7 1505.8,402.4 1506,409.8 1506.2,409.9 1506.4,419 1506.6,419 1506.8,426.7 1507,424.9 1507.2,430.3 1507.4,425.1 1507.6,432.6 1507.8,427.4 1508,432.7 1508.2,429 1508.4,433.6 1508.6,430.4 1508.8,434.6 1509,431.7 1509.2,435.8 1509.4,433.2 1509.6,436.8 1509.8,434.2 1510,438.2 1510.2,428.1 1510.4,431.3 1510.6,421.8 1510.8,424.6 1511,415.6 1511.2,417.7 1511.4,408.6 1511.6,411.6 1511.8,402.1 1512,405.1 1512.2,400.1 1512.4,404 1512.6,398.5 1512.8,402.5 1513,396.3 1513.2,401.7 1513.4,394.4 1513.6,400.5 1513.8,392.2 1514,399.6 1514.2,390.5 1514.4,398.2 1514.6,388.6 1514.8,394.8 1515,384.2 1515.2,391.6 1515.4,380 1515.6,388.3 1515.8,377.5 1516,383.3 1516.2,377.1 1516.8,375.1 1517.4,370.7 1518,368 1518.6,365.8 1519.2,362.3 1519.8,358.8 1520.4,357.4 1521,352.5 1521.6,349.5 1522.2,345.4 1522.8,341.5 1523.4,339.8 1524,337 1524.6,335.5 1525.2,334.8 1525.8,330.3 1526.4,328.8 1527,329.2 1527.6,325.9 1528.2,326 1528.8,324.4 1529.4,323 1530,322.8 1530.6,321 1531.2,320.3 1531.8,319.9 1532.4,320.3 1533,318.1 1533.6,317.6 1534.2,318.7 1534.8,318.4 1535.4,318.3 1536,317.6 1536.6,316.1 1537.2,316.9 1537.8,315.7 1538.4,316.4 1539,316.6 1539.6,315.4 1540.2,316.6 1540.8,317 1541.4,319 1542,319.3 1542.6,318.6 1543.2,318.6 1543.8,319 1544.4,321.9 1545,321.8 1545.6,321.5 1546.2,323.4 1546.8,323.5 1547.4,323.4 1548,326.6 1548.6,325 1549.2,327.5 1549.8,328.8 1550.4,329.2 1551,331.4 1551.6,331.6 1552.2,332.7 1552.8,334.8 1553.4,334.8 1554,337 1554.6,339.1 1555.2,340.4 1555.8,342.7 1556.4,343.7 1557,345.4 1557.6,345.5 1558.2,347.6 1558.8,350.8 1559.4,349.7 1560,353.3 1560.6,354.6 1561.2,354.3 1561.8,357.7 1562.4,359.5 1563,358.7 1563.6,362 1564.2,363.3 1564.8,363.2 1565.4,364.4 1566,366.4 1566.6,368 1567.2,368.2 1567.8,369 1568.4,371.3 1569,373 1569.6,373.8 1570.2,374.5 1570.8,375.1 1571.4,372.6 1572,373.9 1572.6,375.4 1573.2,375 1573.8,375.3 1574.4,373.2 1575,373.9 1575.6,372.5 1576.2,375 1576.8,373.7 1577.4,373.2 1578,372.6 1578.6,372.8 1579.2,373.8 1579.8,374.2 1580.4,372.6 1581,372.4 1581.6,372.6 1582.2,371.8 1582.8,371.3 1583.4,371.8 1584,370.2 1584.6,370.4 1585.2,369.7 1585.8,369.4 1586.4,370.5 1587,370.7 1587.6,371.4 1588.2,371.9 1588.8,373.5 1589.4,372.7 1590,374.4 1590.6,372.8 1591.2,374.2 1591.8,375.9 1592.4,378.3 1593,379.6 1593.6,379.6 1594.2,380.7 1594.8,383.5 1595.4,384 1596,386 1596.6,388.2 1597.2,389.6 1597.8,390.2 1598.4,393 1599,394.1 1599.6,397.5 1600.2,397.9 1600.8,399 1601.4,400.7 1602,402.8 1602.6,406.7 1603.2,408.2 1603.8,409.5 1604.4,412.2 1605,412.9 1605.6,415 1606.2,419.6 1606.8,419.8 1607.4,422.6 1608,423.5 1608.6,416.8 1609.2,414.8 1609.8,412.9 1610.4,410.9 1611,411.9 1611.6,410.5 1612.2,408.6 1612.8,406.8 1613.4,406.4 1614,406 1614.6,402.3 1615.2,399.6 1615.8,398.2 1616.4,395.8 1617,394.9 1617.6,391.2 1618.2,389.2 1618.8,384.7 1619.4,384.5 1620,384.6 1620.6,381.5 1621.2,382.1 1621.8,377.7 1622.4,377.6 1623,377.5 1623.6,377 1624.2,373.4 1624.8,373.2 1625.4,373.4 1626,372.5 1626.6,370.1 1627.2,371.9 1627.8,370.8 1628.4,368.5 1629,367.8 1629.6,367 1630.2,366.1 1630.8,366.3 1631.4,367.1 1632,367.4 1632.6,368.7 1633.2,367.1 1633.8,369.3 1634.4,369.3 1635,370.1 1635.6,370.7 1636.2,372.6 1636.8,373.1 1637.4,375.6 1638,375.8 1638.6,378.8 1639.2,378.6 1639.8,380.7 1640.4,383.4 1641,385.1 1641.6,386.9 1642.2,386.6 1642.8,390.3 1643.4,391.2 1644,390.5 1644.6,393.3 1645.2,392.8 1645.8,395.8 1646.4,395.1 1647,393.5 1647.6,393.9 1648.2,393.6 1648.8,391.3 1649.4,391.3 1650,388.5 1650.6,384.4 1651.2,380.7 1651.8,374.8 1652.4,370.8 1653,368 1653.6,359.5 1654.2,351.6 1654.8,342.6 1655.4,334.7 1656,328.7 1656.6,324.2 1657.2,320.7 1657.8,314.5 1658.4,311 1659,304.9 1659.6,300.5 1660.2,296.2 1660.8,292.9 1661.4,289.6 1662,286.5 1662.6,283 1663.2,278.9 1663.8,275.1 1664.4,270.8 1665,266.8 1665.6,262.7 1666.2,258.6 1666.8,256.6 1667.4,254.7 1668,253 1668.6,251.2 1669.2,249.6 1669.8,247.5 1670.4,246.7 1671,246.3 1671.6,246.1 1672.2,246 1672.8,245.7 1673.4,245.3 1674,245.3 1674.6,245.1 1675.2,244.8 1675.8,244.5 1676.4,244.2 1677,242.8 1677.6,241.3 1678.2,239.9 1678.8,238.8 1679.4,237.4 1680,235.8 1680.6,234.6 1681.2,233.3 1681.8,230.7 1682.4,228 1683,225.1 1683.6,222.3 1684.2,219.5 1684.8,216.7 1685.4,212.9 1686,207.6 1686.6,202.6 1687.2,197.4 1687.8,192.3 1688.4,187.3 1689,181.4 1689.6,172.4 1690.2,163.3 1690.8,154.2 1691.4,145.2 1692,132.9 1692.6,120.6 1693.2,106.1 1693.8,82.2 1694.4,57 1695,56.8 1695.6,56.9 1696.2,62.5 1696.8,86.3 1697.4,110.3 1698,114.5 1698.6,119 1699.2,120.1 1699.8,123 1700.4,125.4 1701,127.3 1701.6,129.2 1702.2,129.5 1702.8,131 1703.4,131 1704,133 1704.6,132.4 1705.2,129.8 1705.8,129.2 1706.4,128.4 1707,127.6 1707.6,126.1 1708.2,123.5 1708.8,120.4 1709.4,120.2 1710,118.2 1710.6,115.9 1711.2,112.4 1711.8,111.4 1712.4,108.6 1713,105.6 1713.6,104.4 1714.2,102.4 1714.8,98.8 1715.4,96.2 1716,96.4 1716.6,94.2 1717.2,92.1 1717.8,90.6 1718.4,89.4 1719,88.4 1719.6,88 1720.2,87.1 1720.8,87.8 1721.4,88.3 1722,86.9 1722.6,86.4 1723.2,86.5 1723.8,85.8 1724.4,86.6 1725,85.5 1725.6,85.4 1726.2,85 1726.8,86.3 1727.4,85.9 1728,85.1 1728.6,85.7 1729.2,85.4 1729.8,86.6 1730.4,86.9 1731,85.3 1731.6,87.2 1732.2,87 1732.8,87.8 1733.4,88.2 1734,89 1734.6,89 1735.2,89.2 1735.8,90.5 1736.4,89.8 1737,91.3 1737.6,91.2 1738.2,90.4 1738.8,92 1739.4,93.1 1740,92.3 1740.6,93.9 1741.2,93.9 1741.8,94.8 1742.4,96.3 1743,96.7 1743.6,98.9 1744.2,98.5 1744.8,99.7 1745.4,100.8 1746,102.2 1746.6,102.6 1747.2,102.1 1747.8,103.2 1748.4,104.3 1749,105.7 1749.6,106.5 1750.2,105.5 1750.8,106.8 1751.4,107.5 1752,107.1 1752.6,108.8 1753.2,108.4 1753.8,110 1754.4,111.6 1755,111.5 1755.6,111.2 1756.2,111.7 1756.8,113.5 1757.4,113.4 1758,112.6 1758.6,113.4 1759.2,114.2 1759.8,112.9 1760.4,114.4 1761,113.3 1761.6,113.2 1762.2,112.9 1762.8,110.9 1763.4,110.5 1764,108.8 1764.6,108.9 1765.2,108.1 1765.8,106.9 1766.4,104.6 1767,103 1767.6,103.7 1768.2,100.9 1768.8,100.8 1769.4,100.1 1770,97 1770.6,94.4 1771.2,92.9 1771.8,92.8 1772.4,91.4 1773,87.2 1773.6,86.2 1774.2,85.6 1774.8,83.5 1775.4,84.1 1776,81.2 1776.6,80.6 1777.2,78.7 1777.8,77.6 1778.4,76.6 1779,76.6 1779.6,75.9 1780.2,75 1780.8,74.2 1781.4,70.5 1782,71.8 1782.6,71.1 1783.2,70.1 1783.8,67.8 1784.4,67.9 1785,67.2 1785.6,64.6 1786.2,66.8 1786.8,66.5 1787.4,66.1 1788,65.6 1788.6,64.4 1789.2,65 1789.8,63.3 1790.4,64.6 1791,64.1 1791.6,62.6 1792.2,63.5 1792.8,61.4 1793.4,62.1 1794,61 1794.6,60.4 1795.2,60.8 1795.8,60.9 1796.4,59.9 1797,60.7 1797.6,60 1798.2,61.4 1798.8,62.2 1799.4,61.5 1800,61.4 1800.6,62.5 1801.2,61.8 1801.8,63.5 1802.4,63.8 1803,64.2 1803.6,63.7 1804.2,63.8 1804.8,64.6 1805.4,64.5 1806,65.5 1806.6,67 1807.2,67.3 1807.8,67.2 1808.4,69.5 1809,69.9 1809.6,69.1 1810.2,70.1 1810.8,70.1 1811.4,72.3 1812,71.9 1812.6,74.5 1813.2,73.5 1813.8,74.1 1814.4,74.7 1815,76 1815.6,76.3 1816.2,77.7 1816.8,79.3 1817.4,79 1818,80.3 1818.6,81.8 1819.2,82.3 1819.8,81.6 1820.4,85.6 1821,84.8 1821.6,86.7 1822.2,88 1822.8,88.1 1823.4,89.7 1824,89.3 1824.6,90.6 1825.2,90.9 1825.8,89.4 1826.4,89.9 1827,91.5 1827.6,90.7 1828.2,90.6 1828.8,92.8 1829.4,91.8 1830,93 1830.6,94.4 1831.2,94.2 1831.8,94.9 1832.4,95.1 1833,95.2 1833.6,97.4 1834.2,97.2 1834.8,98.6 1835.4,99.9 1836,102.1 1836.6,101.5 1837.2,101.7 1837.8,102.3 1838.4,103.6 1839,101 1839.6,101.2 1840.2,102.6 1840.8,102.5 1841.4,102.3 1842,102.6 1842.6,102.6 1843.2,101.6 1843.8,100 1844.4,101 1845,100.1 1845.6,101.2 1846.2,99.7 1846.8,97.4 1847.4,99.4 1848,99.2 1848.6,96.3 1849.2,95.9 1849.8,97.8 1850.4,98.2 1851,97 1851.6,96.6 1852.2,94.8 1852.8,96.7 1853.4,95 1854,92.8 1854.6,92.9 1855.2,93.8 1855.8,91.6 1856.4,90.4 1857,91.9 1857.6,90.3 1858.2,91.8 1858.8,88.7 1859.4,88.6 1860,88.8 1860.6,87.4 1861.2,86.4 1861.8,87.5 1862.4,86 1863,87.7 1863.6,84.1 1864.2,83.7 1864.8,85.1 1865.4,83.5 1866,83.8 1866.6,82.4 1867.2,80.7 1867.8,81.9 1868.4,81.1 1869,79.9 1869.6,79.3 1870.2,77.6 1870.8,78.6 1871.4,76.4 1872,76.1 1872.6,76.3 1873.2,74.8 1873.8,77.5 1874.4,71.4 1875,74.4 1875.6,73.6 1876.2,73.2 1876.8,68.8 1877.4,71.5 1878,71.6 1878.6,71.9 1879.2,69.8 1879.8,72.2 1880.4,69.2 1881,70.5 1881.6,69.5 1882.2,71.2 1882.8,69.4 1883.4,68.5 1884,68.2 1884.6,67 1885.2,71.2 1885.8,69.9 1886.4,70.4 1887,70.2 1887.6,67.6 1888.2,68.1 1888.8,70.1 1889.4,67.7 1890,69.8 1890.6,70.3 1891.2,69 1891.8,68.1 1892.4,67.5 1893,68.1 1893.6,68.8 1894.2,69.3 1894.8,67.9 1895.4,68.6 1896,69.3 1896.6,67.6 1897.2,69.1 1897.8,68.9 1898.4,67.4 1899,66.9 1899.6,69.2 1900.2,69.7 1900.8,70.6 1901.4,70.6 1902,71.5 1902.6,71.8 1903.2,71.2 1903.8,72.9 1904.4,73.3 1905,70.6 1905.6,75.8 1906.2,75.7 1906.8,75.1 1907.4,73.8 1908,76.5 1908.6,74.8 1909.2,74.7 1909.8,76.2 1910.4,79.6 1911,77.7 1911.6,78.1 1912.2,80.5 1912.8,77.9 1913.4,79.7 1914,80.8 1914.6,79.4 1915.2,78.4 1915.8,80.9 1916.4,81.4 1917,80.5 1917.6,84.1 1918.2,84.1 1918.8,83.9 1919.4,85.7 1920,84 1920.6,87.2 1921.2,88.6 1921.8,91.3 1922.4,89.7 1923,88 1923.6,91 1924.2,93 1924.8,92.6 1925.4,94.1 1926,93.9 1926.6,95.2 1927.2,97.8 1927.8,99.2 1928.4,96.6 1929,101.1 1929.6,102.8 1930.2,101.5 1930.8,104.6 1931.4,105.1 1932,103.8 1932.6,102.9 1933.2,105.8 1933.8,106.2 1934.4,108.5 1935,109.5 1935.6,112.1 1936.2,114.3 1936.8,112.3 1937.4,114.7 1938,114.4 1938.6,116.6 1939.2,117.8 1939.8,118.1 1940.4,121.9 1941,119 1941.6,123.2 1942.2,121.3 1942.8,124.2 1943.4,124.6 1944,128.3 1944.6,128 1945.2,129.9 1945.8,129.1 1946.4,129.4 1947,131.8 1947.6,137 1948.2,136 1948.8,136 1949.4,138.5 1950,137.8 1950.6,139 1951.2,143 1951.8,138.1 1952.4,145 1953,146.1 1953.6,147.9 1954.2,145.1 1954.8,148.1 1955.4,148.8 1956,153.1 1956.6,152.9 1957.2,152.9 1957.8,154.1 1958.4,155.9 1959,156.8 1959.6,160.2 1960.2,160 1960.8,163.6 1961.4,162.3 1962,166.5 1962.6,165.7 1963.2,166.7 1963.8,166.9 1964.4,169.1 1965,165.2 1965.6,171.4 1966.2,171 1966.8,168.6 1967.4,168.4 1968,170.8 1968.6,172.2 1969.2,170.2" fill="none" stroke="#1a98dc" stroke-width="2.1" stroke-linejoin="round"/>
<polyline points="1458.2,395.7 1458.4,405.6 1458.6,405.2 1458.8,415.3 1459,419.7 1459.2,427.6 1459.4,432.3 1459.6,438.8 1459.8,441.8 1460,450.1 1460.2,452.9 1460.4,459.9 1460.6,462.2 1460.8,471.3 1461,467.4 1461.2,479 1461.4,462.8 1461.6,472.2 1461.8,458.6 1462,465 1462.2,451.4 1462.4,460.8 1462.6,446.2 1462.8,454.6 1463,429.9 1463.2,437.5 1463.4,413.2 1463.6,420.8 1463.8,411.2 1464,417.5 1464.2,408.8 1464.4,414.5 1464.6,407 1464.8,411 1465,404.1 1465.2,408.5 1465.4,401.9 1465.6,405.4 1465.8,399.8 1466,402.1 1466.2,397.7 1466.4,399.9 1466.6,395.3 1466.8,398.3 1467,393.1 1467.2,396.6 1467.4,390.8 1467.6,395 1467.8,386.8 1468,391.5 1468.2,380.5 1468.4,387.1 1468.6,375.4 1468.8,381.3 1469,369.1 1469.2,376.8 1469.4,364.4 1469.6,370.7 1469.8,361 1470,370.2 1470.2,369 1470.4,378.9 1470.6,378.3 1470.8,386.4 1471,383.6 1471.2,392.6 1471.4,380.4 1471.6,391.8 1471.8,378.9 1472,389.4 1472.2,377.5 1472.4,386.8 1472.6,376.3 1472.8,384.1 1473,396.9 1473.2,405.3 1473.4,416.5 1473.6,427.5 1473.8,413.1 1474,420.6 1474.2,405.6 1474.4,417.9 1474.6,402.7 1474.8,410.7 1475,395.6 1475.2,407.5 1475.4,407.1 1475.6,415.1 1475.8,419.7 1476,431.2 1476.2,435 1476.4,444.7 1476.6,434 1476.8,442.2 1477,416.4 1477.2,424.2 1477.4,398.5 1477.6,406.5 1477.8,394.1 1478,401.3 1478.2,403.2 1478.4,408.8 1478.6,411.8 1478.8,416.7 1479,419.9 1479.2,425.1 1479.4,426.3 1479.6,431.9 1479.8,428.6 1480,432.8 1480.2,430.8 1480.4,433.7 1480.6,432.4 1480.8,435.3 1481,434.4 1481.2,436.5 1481.4,435.6 1481.6,438.4 1481.8,428.6 1482,431.5 1482.2,420.9 1482.4,425.2 1482.6,414.3 1482.8,417.9 1483,406.4 1483.2,411.9 1483.4,399.7 1483.6,404.6 1483.8,392.6 1484,397.8 1484.2,401.6 1484.4,409.9 1484.6,413.5 1484.8,419 1485,422.8 1485.2,430.6 1485.4,432.3 1485.6,442.2 1485.8,444.2 1486,451.3 1486.2,432.7 1486.4,439.8 1486.6,411.7 1486.8,423.1 1487,394.1 1487.2,402.9 1487.4,374.2 1487.6,385.1 1487.8,368.3 1488,374.8 1488.2,369.8 1488.4,378.6 1488.6,373.1 1488.8,380.6 1489,374.2 1489.2,384.9 1489.4,378.8 1489.6,385.7 1489.8,378.7 1490,391.1 1490.2,386 1490.4,392.3 1490.6,393 1490.8,403.4 1491,404.3 1491.2,410.2 1491.4,412.8 1491.6,419.8 1491.8,420.5 1492,430.1 1492.2,407.8 1492.4,413.7 1492.6,393.4 1492.8,399.1 1493,378 1493.2,385.3 1493.4,364.3 1493.6,369.9 1493.8,374 1494,378.1 1494.2,389.7 1494.4,395.7 1494.6,407.6 1494.8,411.2 1495,424.6 1495.2,427.6 1495.4,412.4 1495.6,415.2 1495.8,390.6 1496,393 1496.2,368.6 1496.4,371 1496.6,346.5 1496.8,349.1 1497,342.6 1497.2,346 1497.4,357.5 1497.6,360.9 1497.8,371.8 1498,376.5 1498.2,386 1498.4,392.2 1498.6,395.1 1498.8,401.9 1499,387.4 1499.2,395.5 1499.4,380.3 1499.6,388.4 1499.8,372.7 1500,381.9 1500.2,365.7 1500.4,374.7 1500.6,371.4 1500.8,379.6 1501,377.3 1501.2,384.4 1501.4,381.3 1501.6,391.2 1501.8,387.5 1502,395.6 1502.2,393.5 1502.4,400.4 1502.6,397.6 1502.8,406.9 1503,396.3 1503.2,408.5 1503.4,397.2 1503.6,404.4 1503.8,394.1 1504,404.3 1504.2,393.1 1504.4,402.1 1504.6,391.2 1504.8,400.8 1505,390.9 1505.2,397.9 1505.4,391.8 1505.6,403.7 1505.8,402.4 1506,409.8 1506.2,409.9 1506.4,419 1506.6,419 1506.8,426.7 1507,424.9 1507.2,430.3 1507.4,425.1 1507.6,432.6 1507.8,427.4 1508,432.7 1508.2,429 1508.4,433.6 1508.6,430.4 1508.8,434.6 1509,431.7 1509.2,435.8 1509.4,433.2 1509.6,436.8 1509.8,434.2 1510,438.2 1510.2,428.1 1510.4,431.3 1510.6,421.8 1510.8,424.6 1511,415.6 1511.2,417.7 1511.4,408.6 1511.6,411.6 1511.8,402.1 1512,405.1 1512.2,400.1 1512.4,404 1512.6,398.5 1512.8,402.5 1513,396.3 1513.2,401.7 1513.4,394.4 1513.6,400.5 1513.8,392.2" fill="none" stroke="#1a98dc" stroke-width="3.4" stroke-linejoin="round"/>
<line x1="1695.1" y1="19.5" x2="1695.1" y2="46" stroke="#f020f0" stroke-width="1.6" />
<polygon points="1691.3,44.5 1698.9,44.5 1695.1,55.5" fill="#f020f0"/>
<rect x="1450.2" y="19" width="519.4" height="519" fill="none" stroke="#2a2a2a" stroke-width="1.7"/>
<line x1="1470.2" y1="538" x2="1470.2" y2="529.4" stroke="#2a2a2a" stroke-width="1.7" />
<text transform="translate(1470.2,571.5) scale(0.9434,1)" font-size="30.2" text-anchor="middle" fill="#000" stroke="#000" stroke-width="0.3" >500</text>
<line x1="1520.1" y1="538" x2="1520.1" y2="533.5" stroke="#2a2a2a" stroke-width="1.7" />
<line x1="1570.1" y1="538" x2="1570.1" y2="529.4" stroke="#2a2a2a" stroke-width="1.7" />
<text transform="translate(1570.1,571.5) scale(0.9434,1)" font-size="30.2" text-anchor="middle" fill="#000" stroke="#000" stroke-width="0.3" >750</text>
<line x1="1620" y1="538" x2="1620" y2="533.5" stroke="#2a2a2a" stroke-width="1.7" />
<line x1="1669.9" y1="538" x2="1669.9" y2="529.4" stroke="#2a2a2a" stroke-width="1.7" />
<text transform="translate(1669.9,571.5) scale(0.9434,1)" font-size="30.2" text-anchor="middle" fill="#000" stroke="#000" stroke-width="0.3" >1000</text>
<line x1="1719.9" y1="538" x2="1719.9" y2="533.5" stroke="#2a2a2a" stroke-width="1.7" />
<line x1="1769.8" y1="538" x2="1769.8" y2="529.4" stroke="#2a2a2a" stroke-width="1.7" />
<text transform="translate(1769.8,571.5) scale(0.9434,1)" font-size="30.2" text-anchor="middle" fill="#000" stroke="#000" stroke-width="0.3" >1250</text>
<line x1="1819.8" y1="538" x2="1819.8" y2="533.5" stroke="#2a2a2a" stroke-width="1.7" />
<line x1="1869.7" y1="538" x2="1869.7" y2="529.4" stroke="#2a2a2a" stroke-width="1.7" />
<text transform="translate(1869.7,571.5) scale(0.9434,1)" font-size="30.2" text-anchor="middle" fill="#000" stroke="#000" stroke-width="0.3" >1500</text>
<line x1="1919.7" y1="538" x2="1919.7" y2="533.5" stroke="#2a2a2a" stroke-width="1.7" />
<text transform="translate(1969.6,571.5) scale(0.9434,1)" font-size="30.2" text-anchor="middle" fill="#000" stroke="#000" stroke-width="0.3" >1750</text>
<line x1="1450.2" y1="59.8" x2="1458.8" y2="59.8" stroke="#2a2a2a" stroke-width="1.7" />
<text transform="translate(1441,67.6) scale(0.9434,1)" font-size="30.2" text-anchor="end" fill="#000" stroke="#000" stroke-width="0.3" >-40</text>
<line x1="1450.2" y1="128" x2="1454.7" y2="128" stroke="#2a2a2a" stroke-width="1.7" />
<line x1="1450.2" y1="196.2" x2="1458.8" y2="196.2" stroke="#2a2a2a" stroke-width="1.7" />
<text transform="translate(1441,204) scale(0.9434,1)" font-size="30.2" text-anchor="end" fill="#000" stroke="#000" stroke-width="0.3" >-50</text>
<line x1="1450.2" y1="264.4" x2="1454.7" y2="264.4" stroke="#2a2a2a" stroke-width="1.7" />
<line x1="1450.2" y1="332.6" x2="1458.8" y2="332.6" stroke="#2a2a2a" stroke-width="1.7" />
<text transform="translate(1441,340.4) scale(0.9434,1)" font-size="30.2" text-anchor="end" fill="#000" stroke="#000" stroke-width="0.3" >-60</text>
<line x1="1450.2" y1="400.8" x2="1454.7" y2="400.8" stroke="#2a2a2a" stroke-width="1.7" />
<line x1="1450.2" y1="469" x2="1458.8" y2="469" stroke="#2a2a2a" stroke-width="1.7" />
<text transform="translate(1441,476.8) scale(0.9434,1)" font-size="30.2" text-anchor="end" fill="#000" stroke="#000" stroke-width="0.3" >-70</text>
<text transform="translate(1710,606.6) scale(0.9434,1)" font-size="30.2" text-anchor="middle" fill="#000" stroke="#000" stroke-width="0.3" >Wavelength (nm)</text>
<text transform="translate(1382.5,277.5) rotate(-90) scale(0.9434,1)" font-size="30.2" text-anchor="middle" fill="#000" stroke="#000" stroke-width="0.3">Intensity (dBm)</text>
<rect x="1718.6" y="230.5" width="231.9" height="231.5" fill="#fff" />
<polyline points="1718.5,454.2 1718.8,453.6 1719.1,453.2 1719.4,452.4 1719.7,452.5 1720,451.5 1720.3,453.3 1720.6,451.4 1720.9,449.2 1721.3,448.8 1721.6,446.5 1721.9,446.5 1722.2,442.7 1722.5,439.4 1722.8,433.1 1723.1,425.1 1723.2,422.9 1723.3,418.5 1723.4,421.6 1723.5,420.5 1723.8,429.4 1724.1,437.5 1724.4,440.3 1724.7,445.3 1725,446.4 1725.3,449.5 1725.6,451.2 1725.9,449.9 1726.2,452.5 1726.6,453.1 1726.9,451.6 1727.2,452.3 1727.5,454.3 1727.8,452.8 1728.1,454.3 1728.4,454.2 1728.7,455.7 1729,453.9 1729.4,454.7 1729.7,454.2 1730,454.5 1730.3,456.2 1730.6,456.2 1730.9,456.8 1731.2,457 1731.5,457.3 1731.8,456.7 1732.2,456 1732.5,457.6 1732.8,455.9 1733.1,456.8 1733.4,456.9 1733.7,455.6 1734,456.5 1734.3,457 1734.7,456.5 1735,455.9 1735.3,457.6 1735.6,455.2 1735.9,457.7 1736.2,455.7 1736.5,455.4 1736.8,457.5 1737.1,455.4 1737.5,456.5 1737.8,455.8 1738.1,457.2 1738.4,457 1738.7,456.6 1739,454.3 1739.3,456.2 1739.6,454.6 1739.9,453.9 1740.3,453.7 1740.6,455 1740.9,454.7 1741.2,454 1741.5,453 1741.8,454.4 1742.1,452.2 1742.4,451.5 1742.8,450.7 1743.1,452 1743.4,448.6 1743.7,449.5 1744,447 1744.3,443.8 1744.6,439.6 1744.9,436.4 1745.2,428.2 1745.5,421.9 1745.6,420.3 1745.6,418.6 1745.7,422.9 1745.9,428.1 1746.2,435.3 1746.5,439 1746.8,441.9 1747.1,446.8 1747.4,449.1 1747.7,448.1 1748,450.4 1748.4,451.7 1748.7,452.8 1749,452.5 1749.3,452.3 1749.6,453.7 1749.9,454.2 1750.2,455.5 1750.5,453.4 1750.9,456 1751.2,455 1751.5,454.3 1751.8,456.4 1752.1,454.9 1752.4,454.5 1752.7,455.5 1753,455.1 1753.3,457.1 1753.7,456.3 1754,457.1 1754.3,455.3 1754.6,456.9 1754.9,456.5 1755.2,455.1 1755.5,455.5 1755.8,455.2 1756.1,456.6 1756.5,456.6 1756.8,455.9 1757.1,456.6 1757.4,457.1 1757.7,456.8 1758,457.4 1758.3,456.8 1758.6,455.1 1758.9,455.1 1759.3,456 1759.6,456.3 1759.9,456.6 1760.2,457.2 1760.5,456.6 1760.8,455.2 1761.1,454.8 1761.4,456.1 1761.8,454.8 1762.1,454.7 1762.4,454.7 1762.7,454.6 1763,454.1 1763.3,454.9 1763.6,453.7 1763.9,454.5 1764.2,453.6 1764.6,452.4 1764.9,452.1 1765.2,452.4 1765.5,449.9 1765.8,449.6 1766.1,448.3 1766.4,447.9 1766.7,443.9 1767,441.1 1767.4,434.9 1767.7,428.2 1767.7,425.2 1767.8,422.2 1768,425.2 1768,427.2 1768.3,434 1768.6,439.1 1768.9,442.7 1769.2,446.7 1769.5,447.4 1769.9,448.8 1770.2,450.4 1770.5,450.5 1770.8,451.3 1771.1,453 1771.4,453.4 1771.7,454.8 1772,453.3 1772.3,453.3 1772.7,454.8 1773,454.5 1773.3,454.6 1773.6,454.8 1773.9,456.4 1774.2,454.9 1774.5,455.6 1774.8,455.5 1775.1,456.2 1775.5,455.8 1775.8,455.5 1776.1,455.9 1776.4,455.8 1776.7,457.7 1777,457.4 1777.3,456.6 1777.6,456.1 1778,457.3 1778.3,456.1 1778.6,456.2 1778.9,457.8 1779.2,456.7 1779.5,457.3 1779.8,457.8 1780.1,457.5 1780.4,457 1780.8,457.3 1781.1,457.2 1781.4,457.6 1781.7,456.4 1782,456.6 1782.3,455.9 1782.6,455.8 1782.9,456.7 1783.2,454.8 1783.6,457.1 1783.9,455.9 1784.2,456.1 1784.5,455.5 1784.8,456.1 1785.1,454 1785.4,455 1785.7,455.6 1786.1,453.8 1786.4,454.8 1786.7,453.2 1787,453.2 1787.3,452 1787.6,450.2 1787.9,449.6 1788.2,449.4 1788.5,446.7 1788.9,444.9 1789.2,442.5 1789.5,438.7 1789.8,431.2 1790,425.9 1790.1,421.4 1790.2,424.8 1790.4,431.2 1790.7,438.1 1791,441 1791.3,446.6 1791.7,448.6 1792,449 1792.3,450.1 1792.6,452.4 1792.9,451.8 1793.2,451.8 1793.5,453.6 1793.8,453.9 1794.1,454.8 1794.5,454.9 1794.8,453.4 1795.1,455.2 1795.4,453.9 1795.7,454.2 1796,455.2 1796.3,456.2 1796.6,454.4 1797,455.8 1797.3,456.2 1797.6,456.5 1797.9,454.8 1798.2,456.2 1798.5,456.8 1798.8,456.4 1799.1,457.4 1799.4,456.1 1799.8,456.6 1800.1,457 1800.4,455.7 1800.7,455.6 1801,457.7 1801.3,456.3 1801.6,457 1801.9,455.2 1802.2,455.6 1802.6,457 1802.9,456.9 1803.2,457.1 1803.5,454.8 1803.8,456.6 1804.1,455.6 1804.4,455.9 1804.7,455.3 1805.1,455.3 1805.4,454.8 1805.7,456.3 1806,454.4 1806.3,455.4 1806.6,454.6 1806.9,454.8 1807.2,454.7 1807.5,453.7 1807.9,453.6 1808.2,453.4 1808.5,452 1808.8,451.8 1809.1,452.7 1809.4,451.3 1809.7,449.8 1810,447.4 1810.3,446 1810.7,444.9 1811,443.6 1811.3,437.8 1811.6,433.6 1811.9,425.9 1812.2,415.2 1812.2,414.3 1812.3,410.1 1812.5,413.6 1812.5,417.8 1812.8,427.6 1813.2,433.2 1813.5,439.9 1813.8,443.2 1814.1,444.3 1814.4,448.3 1814.7,447.7 1815,449.2 1815.3,450.8 1815.6,451.9 1816,451.2 1816.3,451.3 1816.6,453.8 1816.9,453.3 1817.2,453.4 1817.5,453.8 1817.8,454.5 1818.1,455.1 1818.4,454.1 1818.8,453.7 1819.1,455.8 1819.4,455.5 1819.7,454 1820,454.1 1820.3,454.5 1820.6,456.2 1820.9,454.3 1821.2,453.6 1821.6,453.5 1821.9,454.3 1822.2,455.9 1822.5,453.7 1822.8,455.3 1823.1,454 1823.4,453 1823.7,453.4 1824.1,454.8 1824.4,454.1 1824.7,452.1 1825,453.9 1825.3,452.3 1825.6,452.4 1825.9,452.7 1826.2,451 1826.5,452 1826.9,451.3 1827.2,450 1827.5,450.1 1827.8,449.4 1828.1,447.2 1828.4,445.8 1828.7,444.4 1829,445.3 1829.3,443.3 1829.7,442.2 1830,439.9 1830.3,438.5 1830.6,435.3 1830.9,434.4 1831.2,432.6 1831.5,427.6 1831.8,425.1 1832.2,418.8 1832.5,412.8 1832.8,403.5 1833.1,393.4 1833.4,378.3 1833.7,358.6 1834,328.8 1834.3,288.5 1834.5,259.6 1834.6,238.8 1834.6,249.1 1834.7,261 1835,301.5 1835.3,337.6 1835.6,365.4 1835.9,382.8 1836.2,396.7 1836.5,408.3 1836.8,414.4 1837.1,421.8 1837.4,426.4 1837.8,428.9 1838.1,432.9 1838.4,433.8 1838.7,437.1 1839,439.4 1839.3,439.8 1839.6,443.4 1839.9,442.9 1840.3,445.9 1840.6,446.7 1840.9,445.5 1841.2,447.1 1841.5,449.2 1841.8,450.2 1842.1,448.5 1842.4,450 1842.7,450.1 1843.1,452.4 1843.4,451.6 1843.7,452.7 1844,453.4 1844.3,453.5 1844.6,453 1844.9,454 1845.2,454.2 1845.5,455 1845.9,453.4 1846.2,454 1846.5,453.7 1846.8,454.8 1847.1,453.8 1847.4,454.8 1847.7,454.6 1848,454.7 1848.4,454.3 1848.7,455.2 1849,456 1849.3,456.1 1849.6,455.6 1849.9,456 1850.2,453.6 1850.5,454.6 1850.8,453.7 1851.2,455.5 1851.5,454 1851.8,452.7 1852.1,453.1 1852.4,453.3 1852.7,452.9 1853,453.4 1853.3,452.7 1853.6,452.1 1854,450.8 1854.3,449.8 1854.6,447.3 1854.9,447.7 1855.2,445.3 1855.5,442.5 1855.8,438.9 1856.1,433.3 1856.4,425.8 1856.7,415.1 1856.8,415.6 1856.8,409.3 1857,415.4 1857.1,418.3 1857.4,428.2 1857.7,434.8 1858,440 1858.3,442.1 1858.6,446.8 1858.9,447.1 1859.3,449.5 1859.6,449.6 1859.9,450.4 1860.2,452.6 1860.5,453.1 1860.8,454.1 1861.1,454 1861.4,454.7 1861.7,454.2 1862.1,453 1862.4,454.9 1862.7,455.3 1863,455 1863.3,455.7 1863.6,454.7 1863.9,454.9 1864.2,456.5 1864.5,456.4 1864.9,455.4 1865.2,454.8 1865.5,455.7 1865.8,456.3 1866.1,454.9 1866.4,457.6 1866.7,457.5 1867,455.6 1867.4,456.6 1867.7,457.6 1868,456.3 1868.3,455.1 1868.6,456.4 1868.9,456.8 1869.2,457.5 1869.5,457.5 1869.8,455.3 1870.2,456.4 1870.5,455.1 1870.8,457.4 1871.1,456.9 1871.4,457.3 1871.7,456.3 1872,457.1 1872.3,456.5 1872.6,455.9 1873,456.1 1873.3,456.6 1873.6,456.5 1873.9,453.8 1874.2,455.7 1874.5,454.5 1874.8,454.6 1875.1,453.9 1875.5,454.7 1875.8,453.7 1876.1,453.7 1876.4,451.9 1876.7,450 1877,449.9 1877.3,447.8 1877.6,447.7 1877.9,445.7 1878.3,440.9 1878.6,436.2 1878.9,429.1 1879,426.4 1879.1,422.3 1879.2,424.9 1879.2,424.9 1879.5,434 1879.8,439.3 1880.1,442.2 1880.4,446.7 1880.7,449.1 1881.1,450.1 1881.4,451.9 1881.7,450.9 1882,451.5 1882.3,453.5 1882.6,454.4 1882.9,455 1883.2,454.9 1883.5,455.6 1883.9,454.9 1884.2,454.8 1884.5,455.9 1884.8,456.5 1885.1,455 1885.4,456.9 1885.7,456.6 1886,456.5 1886.4,456.4 1886.7,457.2 1887,456.4 1887.3,456.8 1887.6,455.7 1887.9,456.3 1888.2,455.4 1888.5,456.1 1888.8,455.8 1889.2,456.4 1889.5,456.7 1889.8,455.7 1890.1,456.2 1890.4,455.4 1890.7,456 1891,456 1891.3,457.2 1891.6,455.7 1892,456.8 1892.3,457.5 1892.6,457.6 1892.9,457.2 1893.2,456.9 1893.5,455.8 1893.8,456.7 1894.1,457.2 1894.5,455.2 1894.8,455.7 1895.1,457 1895.4,456.8 1895.7,456.4 1896,455.6 1896.3,454.1 1896.6,453.6 1896.9,454.3 1897.3,455 1897.6,454.1 1897.9,453.9 1898.2,453.5 1898.5,453.8 1898.8,451.6 1899.1,450 1899.4,449.1 1899.7,449.2 1900.1,446 1900.4,444.1 1900.7,438.6 1901,433.6 1901.2,426.1 1901.3,424.6 1901.3,425 1901.5,427.7 1901.6,430.3 1901.9,437.8 1902.2,442.4 1902.6,445.5 1902.9,446.9 1903.2,448.1 1903.5,450.5 1903.8,450.3 1904.1,452 1904.4,454 1904.7,452.6 1905,454 1905.4,455.4 1905.7,453.2 1906,456 1906.3,454.8 1906.6,455.2 1906.9,454.3 1907.2,455.8 1907.5,456.4 1907.8,456.4 1908.2,456.7 1908.5,455.9 1908.8,456.5 1909.1,455.5 1909.4,457 1909.7,456.7 1910,457.1 1910.3,455.1 1910.7,455.6 1911,455.6 1911.3,456.2 1911.6,456.8 1911.9,457.5 1912.2,455.7 1912.5,456.6 1912.8,457.8 1913.1,457.4 1913.5,457.6 1913.8,455.9 1914.1,455.4 1914.4,457.2 1914.7,455.6 1915,456.8 1915.3,455.7 1915.6,455.2 1915.9,455.7 1916.3,455.2 1916.6,456.2 1916.9,457.1 1917.2,455.6 1917.5,455.2 1917.8,456.1 1918.1,455.4 1918.4,455.4 1918.7,455.9 1919.1,454.9 1919.4,454.4 1919.7,453.8 1920,452.8 1920.3,453.1 1920.6,451 1920.9,450.7 1921.2,449.5 1921.6,449 1921.9,447.5 1922.2,445.8 1922.5,442.4 1922.8,439.7 1923.1,433.7 1923.4,425.7 1923.5,424 1923.6,421 1923.7,425.1 1923.7,426 1924,433.3 1924.4,438.4 1924.7,442 1925,445 1925.3,448.2 1925.6,448.2 1925.9,451.1 1926.2,450.8 1926.5,453.3 1926.8,452.1 1927.2,452.8 1927.5,452.4 1927.8,453 1928.1,453.8 1928.4,453.7 1928.7,454.2 1929,454.8 1929.3,456 1929.7,455.4 1930,454.5 1930.3,456.4 1930.6,454.6 1930.9,455.8 1931.2,456.3 1931.5,457.5 1931.8,456.5 1932.1,457.1 1932.5,455.9 1932.8,455.3 1933.1,455.3 1933.4,456.2 1933.7,456.8 1934,457.6 1934.3,456 1934.6,456.4 1934.9,456 1935.3,456.9 1935.6,455.5 1935.9,457.2 1936.2,457 1936.5,457 1936.8,456 1937.1,455.2 1937.4,457.1 1937.8,455.8 1938.1,455.4 1938.4,456.7 1938.7,457.1 1939,455.6 1939.3,454.8 1939.6,454.5 1939.9,454.7 1940.2,455.4 1940.6,455.2 1940.9,454.7 1941.2,453.4 1941.5,454.7 1941.8,454.5 1942.1,453.2 1942.4,451.8 1942.7,453.4 1943,453.1 1943.4,452.1 1943.7,449.9 1944,448.4 1944.3,447.7 1944.6,445.3 1944.9,440.9 1945.2,436.1 1945.5,429.3 1945.7,423.4 1945.8,421.6 1946,424.1 1946.2,429 1946.5,435.3 1946.8,441.6 1947.1,443.6 1947.4,446.5 1947.7,447.6 1948,450.8 1948.3,450.6 1948.7,451 1949,452.6 1949.3,454.2 1949.6,454.4 1949.9,454.9 1950.2,455.4 1950.5,455.5" fill="none" stroke="#7cb845" stroke-width="2" stroke-linejoin="round"/>
<rect x="1718.6" y="230.5" width="231.9" height="231.5" fill="none" stroke="#2a2a2a" stroke-width="1.3"/>
<line x1="1723.3" y1="462" x2="1723.3" y2="459.4" stroke="#2a2a2a" stroke-width="1.2" />
<line x1="1745.6" y1="462" x2="1745.6" y2="457.5" stroke="#2a2a2a" stroke-width="1.2" />
<text transform="translate(1745.6,484.2) scale(0.9615,1)" font-size="20.3" text-anchor="middle" fill="#000" stroke="#000" stroke-width="0.3" >-100</text>
<line x1="1767.8" y1="462" x2="1767.8" y2="459.4" stroke="#2a2a2a" stroke-width="1.2" />
<line x1="1790.1" y1="462" x2="1790.1" y2="457.5" stroke="#2a2a2a" stroke-width="1.2" />
<text transform="translate(1790.1,484.2) scale(0.9615,1)" font-size="20.3" text-anchor="middle" fill="#000" stroke="#000" stroke-width="0.3" >-50</text>
<line x1="1812.3" y1="462" x2="1812.3" y2="459.4" stroke="#2a2a2a" stroke-width="1.2" />
<line x1="1834.6" y1="462" x2="1834.6" y2="457.5" stroke="#2a2a2a" stroke-width="1.2" />
<text transform="translate(1834.6,484.2) scale(0.9615,1)" font-size="20.3" text-anchor="middle" fill="#000" stroke="#000" stroke-width="0.3" >0</text>
<line x1="1856.8" y1="462" x2="1856.8" y2="459.4" stroke="#2a2a2a" stroke-width="1.2" />
<line x1="1879.1" y1="462" x2="1879.1" y2="457.5" stroke="#2a2a2a" stroke-width="1.2" />
<text transform="translate(1879.1,484.2) scale(0.9615,1)" font-size="20.3" text-anchor="middle" fill="#000" stroke="#000" stroke-width="0.3" >50</text>
<line x1="1901.3" y1="462" x2="1901.3" y2="459.4" stroke="#2a2a2a" stroke-width="1.2" />
<line x1="1923.6" y1="462" x2="1923.6" y2="457.5" stroke="#2a2a2a" stroke-width="1.2" />
<text transform="translate(1923.6,484.2) scale(0.9615,1)" font-size="20.3" text-anchor="middle" fill="#000" stroke="#000" stroke-width="0.3" >100</text>
<line x1="1945.8" y1="462" x2="1945.8" y2="459.4" stroke="#2a2a2a" stroke-width="1.2" />
<line x1="1718.6" y1="461.9" x2="1723.1" y2="461.9" stroke="#2a2a2a" stroke-width="1.2" />
<text transform="translate(1713.5,467.9) scale(0.9615,1)" font-size="20.3" text-anchor="end" fill="#000" stroke="#000" stroke-width="0.3" >0</text>
<line x1="1718.6" y1="417.3" x2="1721.2" y2="417.3" stroke="#2a2a2a" stroke-width="1.2" />
<line x1="1718.6" y1="372.7" x2="1723.1" y2="372.7" stroke="#2a2a2a" stroke-width="1.2" />
<text transform="translate(1713.5,378.7) scale(0.9615,1)" font-size="20.3" text-anchor="end" fill="#000" stroke="#000" stroke-width="0.3" >2</text>
<line x1="1718.6" y1="328.1" x2="1721.2" y2="328.1" stroke="#2a2a2a" stroke-width="1.2" />
<line x1="1718.6" y1="283.5" x2="1723.1" y2="283.5" stroke="#2a2a2a" stroke-width="1.2" />
<text transform="translate(1713.5,289.5) scale(0.9615,1)" font-size="20.3" text-anchor="end" fill="#000" stroke="#000" stroke-width="0.3" >4</text>
<line x1="1718.6" y1="238.9" x2="1721.2" y2="238.9" stroke="#2a2a2a" stroke-width="1.2" />
<text transform="translate(1834.4,504.6) scale(0.9615,1)" font-size="20.8" text-anchor="middle" fill="#000" stroke="#000" stroke-width="0.3" >Time delay (ns)</text>
<text transform="translate(1844.2,272.8) scale(0.943,1)" font-size="21.2" stroke="#000" stroke-width="0.3">g<tspan font-size="13.5" dy="-10">(2)</tspan><tspan dy="10" dx="-1.5">(0)=5.02</tspan></text>
<text transform="translate(1693.5,349) rotate(-90) scale(0.943,1)" font-size="21.2" text-anchor="middle" stroke="#000" stroke-width="0.3">g<tspan font-size="13.5" dy="-10">(2)</tspan><tspan dy="10" dx="-1.5">(0)</tspan></text>
<polygon points="86.9,1019.2 87.7,1019.6 88.5,1020.4 89.3,1016.6 90.1,1022.8 90.9,1016.1 91.7,1012.4 92.5,1019.6 93.3,1019.2 94.1,1021.9 94.9,1018 95.7,1021.9 96.5,1016 97.3,1022.9 98.1,1021.4 98.9,1022.7 99.7,1009.7 100.5,1019.1 101.3,1020.5 102.1,1017.9 102.9,1022.2 103.7,1020.5 104.5,1017.8 105.3,1016.5 106.1,1020.2 106.9,1019.4 107.7,1017.1 108.5,1017.3 109.3,1022.7 110.1,1008.9 110.9,1017.8 111.7,1017.2 112.5,1019.9 113.3,1022.4 114.1,1019.1 114.9,1020 115.7,1022.9 116.5,1013.9 117.3,1016.6 118.1,1018.2 118.9,1021.2 119.7,1021.6 120.5,1022.3 121.3,1022 122.1,1020.1 122.9,1023 123.7,1021.1 124.5,1016.6 125.3,1019.4 126.1,1020.3 126.9,1020.7 127.7,1020.6 128.5,1020.7 129.3,1022.4 130.1,1018.2 130.9,1021.9 131.7,1017.2 132.5,1018.9 133.3,1021.9 134.1,1016.2 134.9,1020 135.7,1012 136.5,1016.3 137.3,1020.6 138.1,1017.4 138.9,1021 139.7,1020.9 140.5,1018.8 141.3,1022.5 142.1,1020.4 142.9,1022.2 143.7,1020.6 144.5,1020.5 145.3,1022.9 146.1,1018.2 146.9,1016.6 147.7,1012.4 148.5,1017.2 149.3,1017 150.1,1020.8 150.9,1016.6 151.7,1021.1 152.5,1019.9 153.3,1022.3 154.1,1019.7 154.9,1019.5 155.7,1019.6 156.5,1019.4 157.3,1018.9 158.1,1019.3 158.9,1022.3 159.7,1020.3 160.5,1016.2 161.3,1018.3 162.1,1021.1 162.9,1017.4 163.7,1018.9 164.5,1020.4 165.3,1020.3 166.1,1021.7 166.9,1022.5 167.7,1016.9 168.5,1016.7 169.3,1016.9 170.1,1020.8 170.9,1019.5 171.7,1017.3 172.5,1019.6 173.3,1017.4 174.1,1016.7 174.9,1021.4 175.7,1019 176.5,1021.9 177.3,1018.8 178.1,1016.1 178.9,1022 179.7,1019.5 180.5,1022.4 181.3,1018.8 182.1,1021.4 182.9,1016.5 183.7,1020.5 184.5,1020.7 185.3,1019.7 186.1,1020.9 186.9,1021.2 187.7,1017.4 188.5,1022.3 189.3,1020 190.1,1016.5 190.9,1017.1 191.7,1012.6 192.5,1020.2 193.3,1019.9 194.1,1016.1 194.9,1021.3 195.7,1016.4 196.5,1022.3 197.3,1017.7 198.1,1019.3 198.9,1016.8 199.7,1016.4 200.5,1020.7 201.3,1018.9 202.1,1022.7 202.9,1022.2 203.7,1017.9 204.5,1020.4 205.3,1022.9 206.1,1017.9 206.9,1019.8 207.7,1019.9 208.5,1017.5 209.3,1016.5 210.1,1021.4 210.9,1021.7 211.7,1018.3 212.5,1019 213.3,1016.5 214.1,1020.8 214.9,1017.5 215.7,1021.1 216.5,1018.5 217.3,1021 218.1,1022.4 218.9,1018.2 219.7,1017.7 220.5,1018.8 221.3,1021.6 222.1,1017.2 222.9,1016.2 223.7,1022.8 224.5,1019.8 225.3,1021.2 226.1,1017 226.9,1017.5 227.7,1018.8 228.5,1019.5 229.3,1022.4 230.1,1022 230.9,1022.7 231.7,1021.6 232.5,1021.2 233.3,1017.4 234.1,1016.4 234.9,1021.4 235.7,1020.1 236.5,1017.3 237.3,1020.2 238.1,1017.2 238.9,1021.7 239.7,1022.4 240.5,1019.4 241.3,1021.6 242.1,1017.9 242.9,1016.1 243.7,1021 244.5,1018.3 245.3,1020.5 246.1,1017.1 246.9,1021.9 247.7,1021 248.5,1022.7 249.3,1021.5 250.1,1021.8 250.9,1017.1 251.7,1016.5 252.5,1018.5 253.3,1019.2 254.1,1016.1 254.9,1019.9 255.7,1021.6 256.5,1018.6 257.3,1018.7 258.1,1021.1 258.9,1021.1 259.7,1017 260.5,1017.3 261.3,1016.6 262.1,1018.8 262.9,1019.6 263.7,1018.7 264.5,1020.9 265.3,1015.6 266.1,1016.7 266.9,1021.8 267.7,1022.3 268.5,1017 269.3,1021 270.1,1020.4 270.9,1020 271.7,1018.5 272.5,1016.9 273.3,1019.9 274.1,1021.7 274.9,1018 275.7,1021.8 276.5,1016.2 277.3,1020.6 278.1,1018.7 278.9,1019.3 279.7,1017.2 280.5,1018.3 281.3,1017 282.1,1018.9 282.9,1021.3 283.7,1022 284.5,1022.3 285.3,1022.3 286.1,1022.3 286.9,1018.1 287.7,1019.1 288.5,1020.9 289.3,1018.8 290.1,1022.8 290.9,1021.6 291.7,1022.3 292.5,1019.8 293.3,1018.1 294.1,1021.7 294.9,1008.8 295.7,1022.5 296.5,1018.1 297.3,1021.9 298.1,1022.2 298.9,1017.3 299.7,1021.1 300.5,1021 301.3,1019.1 302.1,1021 302.9,1020.7 303.7,1022.2 304.5,1022.5 305.3,1016.6 306.1,1013.7 306.9,1021.6 307.7,1017.7 308.5,1022.3 309.3,1021.3 310.1,1017.3 310.9,1020.6 311.7,1021.9 312.5,1017.2 313.3,1017.6 314.1,1021.5 314.9,1020.1 315.7,1021 316.5,1011.6 317.3,1017.8 318.1,1020 318.9,1017 319.7,1020.3 320.5,1016.6 321.3,1017.1 322.1,1016.4 322.9,1017.3 323.7,1017 324.5,1022.2 325.3,1019 326.1,1021.3 326.9,1019.9 327.7,1018.5 328.5,1016.3 329.3,1018.4 330.1,1022.2 330.9,1018.7 331.7,1017.3 332.5,1017.5 333.3,1023 334.1,1018.7 334.9,1014 335.7,1022.5 336.5,1017.1 337.3,1021.1 338.1,1018.7 338.9,1021.4 339.7,1013.9 340.5,1019 341.3,1017.8 342.1,1017.4 342.9,1018.7 343.7,1018.4 344.5,1020 345.3,1020.7 346.1,1020.7 346.9,1020.4 347.7,1016.4 348.5,1018 349.3,1017.2 350.1,1018.4 350.9,1020.9 351.7,1018.6 352.5,1019.5 353.3,1013 354.1,1017.8 354.9,1020.3 355.7,1022.6 356.5,1018.9 357.3,1022.2 358.1,1019.5 358.9,1017 359.7,1011.9 360.5,1019.5 361.3,1019.9 362.1,1018.4 362.9,1020.9 363.7,1017.1 364.5,1018.6 365.3,1017.7 366.1,1019.6 366.9,1016.7 367.7,1021.4 368.5,1017.8 369.3,1018.7 370.1,1018.3 370.9,1021.8 371.7,1020.4 372.5,1018.6 373.3,1016.1 374.1,1016.9 374.9,1018.8 375.7,1012.4 376.5,1016.8 377.3,1019.4 378.1,1021.9 378.9,1021.4 379.7,1019.8 380.5,1016.7 381.3,1016.8 382.1,1017 382.9,1019.4 383.7,1016.5 384.5,1017.3 385.3,1022.1 386.1,1013 386.9,1017.9 387.7,1019.1 388.5,1016.2 389.3,1018.5 390.1,1016.1 390.9,1021.7 391.7,1021.6 392.5,1016.7 393.3,1017.8 394.1,1017.6 394.9,1021.7 395.7,1018 396.5,1018.3 397.3,1019.8 398.1,1017 398.9,1018.8 399.7,1017.4 400.5,1016.8 401.3,1017.5 402.1,1017.9 402.9,1017.3 403.7,1020.4 404.5,1020.3 405.3,1019.5 406.1,1020.8 406.9,1018.7 407.7,1013.5 408.5,1020.2 409.3,1023 410.1,1022.9 410.9,1022.9 411.7,1020.5 412.5,1019.6 413.3,1021 414.1,1019.8 414.9,1020.5 415.7,1019.4 416.5,1021.4 417.3,1017.1 418.1,1022.1 418.9,1018.7 419.7,1016.5 420.5,1022.1 421.3,1014.3 422.1,1017.9 422.9,1016.9 423.7,1016.8 424.5,1017.4 425.3,1018.5 426.1,1020.4 426.9,1019.2 427.7,1020.9 428.5,1022.1 429.3,1019.2 430.1,1020.2 430.9,1018 431.7,1020.9 432.5,1016.9 433.3,1018.4 434.1,1019.8 434.9,1018.5 435.7,1018.4 436.5,1019.3 437.3,1020.7 438.1,1022.9 438.9,1020.9 439.7,1018.8 440.5,1017.5 441.3,1021.2 442.1,1020.4 442.9,1021.1 443.7,1016.1 444.5,1016.2 445.3,1016.8 446.1,1016.9 446.9,1019.6 447.7,1014.8 448.5,1019.2 449.3,1017.1 450.1,1020.3 450.9,1016.1 451.7,1021 452.5,1018.1 453.3,1016.3 454.1,1016.8 454.9,1020.6 455.7,1019.5 456.5,1021.2 457.3,1019.3 458.1,1016.3 458.9,1019.8 459.7,1018.6 460.5,1021.2 461.3,1016.8 462.1,1020.2 462.9,1020.1 463.7,1017.8 464.5,1021.6 465.3,1018 466.1,1021.8 466.9,1021.5 467.7,1016.3 468.5,1012.8 469.3,1016 470.1,1022.9 470.9,1019.1 471.7,1019.1 472.5,1016.5 473.3,1019.8 474.1,1022.7 474.9,1018.9 475.7,1022.1 476.5,1018.6 477.3,1020.8 478.1,1021.2 478.9,1018.4 479.7,1019.6 480.5,1018.5 481.3,1018.3 482.1,1021.1 482.9,1021.8 483.7,1020.3 484.5,1019.2 485.3,1016.7 486.1,1020 486.9,1022.7 487.7,1021.5 488.5,1020.3 489.3,1022.3 490.1,1022.7 490.9,1021.1 491.7,1017.8 492.5,1019.4 493.3,1019.6 494.1,1022 494.9,1019.7 495.7,1010.1 496.5,1017.6 497.3,1022.6 498.1,1017.6 498.9,1020.6 499.7,1020 500.5,1022.1 501.3,1016.2 502.1,1022 502.9,1019.7 503.7,1019.5 504.5,1019.4 505.3,1022.8 506.1,1018.3 506.9,1022.6 507.7,1016.1 508.5,1020.3 509.3,1019.6 510.1,1022.1 510.9,1020.8 511.7,1018.3 512.5,1021.8 513.3,1016.1 514.1,1019.7 514.9,1017.6 515.7,1017.8 516.5,1017.7 517.3,1017.8 518.1,1018.1 518.9,1021.5 519.7,1017.7 520.5,1018.6 521.3,1018.7 522.1,1018.4 522.9,1020.2 523.7,1016.1 524.5,1022.4 525.3,1022.7 526.1,1017 526.9,1016.9 527.7,1022.6 528.5,1017.9 529.3,1013.9 530.1,1019.7 530.9,1019.7 531.7,1016.5 532.5,1019.5 533.3,1018.1 534.1,1020.2 534.9,1022.6 535.7,1015 536.5,1013.4 537.3,1020.6 538.1,1016.3 538.9,1019.3 539.7,1022.2 540.5,1019.2 541.3,1022.6 542.1,1019.6 542.9,1021.1 543.7,1022.6 544.5,1018.4 545.3,1019.6 546.1,1017.9 546.9,1016.6 547.7,1022.8 548.5,1021.6 549.3,1017.8 550.1,1019.9 550.9,1018 551.7,1017.4 552.5,1022.9 553.3,1021 554.1,1021.7 554.9,1016.2 555.7,1020.3 556.5,1016.5 557.3,1022.1 558.1,1021.3 558.9,1013.7 559.7,1022.1 560.5,1019.4 561.3,1021.6 562.1,1020.9 562.9,1017.3 563.7,1018.3 564.5,1022.7 565.3,1018.3 566.1,1016.2 566.9,1021.2 567.7,1017.7 568.5,1018.5 569.3,1018.9 570.1,1022.7 570.9,1021.3 571.7,1022.3 572.5,1019.7 573.3,1017.1 574.1,1021.1 574.9,1020.9 575.7,1019.3 576.5,1016.5 577.3,1016.9 578.1,1018.8 578.9,1016.3 579.7,1016 580.5,1016.7 581.3,1020.1 582.1,1018.1 582.9,1018.9 583.7,1021.5 584.5,1019.1 585.3,1018.9 586.1,1019.3 586.9,1022.3 587.7,1020.7 588.5,1022.6 589.3,1020.6 590.1,1022.9 590.9,1021.4 591.7,1018.8 592.5,1016.4 593.3,1018.7 594.1,1021.2 594.9,1019.9 595.7,1021.5 596.5,1017.9 597.3,1017.2 598.1,1018 598.9,1020.2 599.7,1020 600.5,1016.5 601.3,1021.8 602.1,1014.9 602.9,1018.2 603.7,1017.2 604.5,1021.2 605.3,1016.2 606.1,1020.9 606.9,1017.5 607.7,1021.7 608.5,1017.6 609.3,1022.7 610.1,1021.8 610.9,1018.5 611.7,1022.1 612.5,1014.6 613.3,1019.8 614.1,1022.9 614.9,1010.2 615.7,1020.7 616.5,1018 617.3,1017.7 618.1,1020.1 618.9,1019.3 619.7,1021.3 620.5,1019.5 621.3,1019.3 622.1,1022.2 622.9,1016.2 623.7,1017.3 624.5,1020.8 625.3,1019.9 626.1,1021.8 626.9,1019.8 627.7,1019.6 628.5,1016.1 629.3,1016.8 630.1,1021.3 630.9,1019.2 631.7,1019.1 632.5,1016.3 633.3,1016.5 634.1,1019.9 634.9,1021.7 635.7,1016.2 636.5,1016.2 637.3,1018.2 638.1,1020.4 638.9,1018.7 639.7,1017.3 640.5,1018 641.3,1017.3 642.1,1020.9 642.9,1018.7 643.7,1019.4 644.5,1022.9 645.3,1020.1 646.1,1019.5 646.9,1017.3 647.7,1016.2 648.5,1020.3 649.3,1016.4 650.1,1008.9 650.9,1016.3 651.7,1016.3 652.5,1016.8 653.3,1017.2 654.1,1020 654.9,1016.3 655.7,1016.1 656.5,1019.8 657.3,1021 658.1,1016.3 658.9,1021.5 659.7,1018.8 660.5,1022.9 661.3,1020.2 662.1,1022.2 662.9,1022.7 664.3,1016.9 664.3,1070.8 662.9,1072.5 662.1,1074.7 661.3,1075 660.5,1074.8 659.7,1074.3 658.9,1075.1 658.1,1072 657.3,1074 656.5,1071.2 655.7,1073.4 654.9,1071.5 654.1,1072.4 653.3,1072.4 652.5,1073.7 651.7,1071.9 650.9,1073.5 650.1,1072.4 649.3,1071.2 648.5,1074.3 647.7,1072.8 646.9,1070.9 646.1,1073.3 645.3,1071.4 644.5,1072.2 643.7,1075.3 642.9,1073 642.1,1073.8 641.3,1071.9 640.5,1073.9 639.7,1075.3 638.9,1071.8 638.1,1079.4 637.3,1074.6 636.5,1072.9 635.7,1071.2 634.9,1074.3 634.1,1073.7 633.3,1072.2 632.5,1073.8 631.7,1072.2 630.9,1073.9 630.1,1073.4 629.3,1075.2 628.5,1072.4 627.7,1070.9 626.9,1072 626.1,1071.7 625.3,1075.5 624.5,1072.8 623.7,1074.7 622.9,1073.6 622.1,1070.6 621.3,1073.2 620.5,1072.5 619.7,1073.8 618.9,1072.1 618.1,1071.1 617.3,1075 616.5,1072.3 615.7,1072.1 614.9,1071.4 614.1,1074.8 613.3,1074.4 612.5,1070.8 611.7,1072.3 610.9,1071.6 610.1,1073.9 609.3,1072.7 608.5,1073.6 607.7,1073.5 606.9,1072.1 606.1,1072.2 605.3,1074.8 604.5,1072.9 603.7,1070.9 602.9,1075.2 602.1,1073.8 601.3,1071.9 600.5,1074 599.7,1072.3 598.9,1073.1 598.1,1072.6 597.3,1075 596.5,1073.1 595.7,1074.1 594.9,1075.4 594.1,1071.8 593.3,1074.1 592.5,1074.6 591.7,1071.5 590.9,1073.6 590.1,1077.7 589.3,1074.4 588.5,1073.8 587.7,1072 586.9,1074.4 586.1,1072.8 585.3,1074.4 584.5,1072.1 583.7,1072.7 582.9,1074.9 582.1,1074.8 581.3,1075.4 580.5,1074.8 579.7,1072.5 578.9,1071.1 578.1,1073.9 577.3,1073.4 576.5,1074 575.7,1074.9 574.9,1072.7 574.1,1074.3 573.3,1071.9 572.5,1074.3 571.7,1073.2 570.9,1073.7 570.1,1072.7 569.3,1071.7 568.5,1075.2 567.7,1070.8 566.9,1071.5 566.1,1073.2 565.3,1073.1 564.5,1075.3 563.7,1075.1 562.9,1073.9 562.1,1072.1 561.3,1073.8 560.5,1074.9 559.7,1075.2 558.9,1074.3 558.1,1073.6 557.3,1071.4 556.5,1071 555.7,1075.2 554.9,1072.2 554.1,1071.7 553.3,1074.5 552.5,1073.9 551.7,1074.7 550.9,1073 550.1,1072.9 549.3,1073 548.5,1074.6 547.7,1072.7 546.9,1072.9 546.1,1073.7 545.3,1070.5 544.5,1073 543.7,1071 542.9,1073.4 542.1,1071.9 541.3,1074.9 540.5,1075.1 539.7,1072.6 538.9,1072.1 538.1,1073.6 537.3,1074.6 536.5,1074.5 535.7,1071.4 534.9,1070.6 534.1,1072.8 533.3,1075.4 532.5,1072.2 531.7,1074.3 530.9,1070.9 530.1,1073.3 529.3,1071.4 528.5,1070.9 527.7,1072.4 526.9,1074.9 526.1,1075.2 525.3,1072.2 524.5,1071.5 523.7,1072.4 522.9,1072.9 522.1,1072.4 521.3,1074.4 520.5,1075.1 519.7,1072.6 518.9,1070.9 518.1,1074.1 517.3,1071.4 516.5,1071.8 515.7,1074.4 514.9,1071.4 514.1,1073.9 513.3,1071.8 512.5,1072.2 511.7,1074.5 510.9,1073.4 510.1,1075.9 509.3,1070.7 508.5,1075.2 507.7,1073.5 506.9,1074.8 506.1,1075.2 505.3,1071.2 504.5,1072.9 503.7,1074 502.9,1073.1 502.1,1073.1 501.3,1075.4 500.5,1073.8 499.7,1075.4 498.9,1075 498.1,1071.1 497.3,1073.3 496.5,1072.4 495.7,1072.3 494.9,1075.1 494.1,1073.2 493.3,1071.3 492.5,1071.9 491.7,1071.8 490.9,1075.9 490.1,1072 489.3,1073.9 488.5,1074.3 487.7,1071.5 486.9,1074.5 486.1,1072.2 485.3,1079.5 484.5,1071.7 483.7,1075.4 482.9,1074.1 482.1,1071.8 481.3,1071.7 480.5,1072.9 479.7,1073.4 478.9,1072.2 478.1,1073.4 477.3,1074.4 476.5,1075.1 475.7,1070.7 474.9,1074.7 474.1,1075.1 473.3,1071.1 472.5,1074.7 471.7,1072.1 470.9,1072.4 470.1,1070.9 469.3,1072.6 468.5,1074.3 467.7,1073.3 466.9,1070.8 466.1,1072.1 465.3,1070.9 464.5,1074.8 463.7,1071.8 462.9,1073 462.1,1072 461.3,1075.3 460.5,1070.5 459.7,1072.9 458.9,1071.6 458.1,1070.8 457.3,1072.7 456.5,1072.3 455.7,1072.5 454.9,1075.2 454.1,1072.1 453.3,1070.9 452.5,1073.7 451.7,1075.6 450.9,1074.6 450.1,1075.3 449.3,1073.1 448.5,1071 447.7,1072.8 446.9,1074.4 446.1,1071.1 445.3,1072 444.5,1073.2 443.7,1075.2 442.9,1071.1 442.1,1071.8 441.3,1071.3 440.5,1071.2 439.7,1071.6 438.9,1070.8 438.1,1074.6 437.3,1075.4 436.5,1072.8 435.7,1079.8 434.9,1074.1 434.1,1075 433.3,1074.8 432.5,1071.8 431.7,1071.7 430.9,1075.3 430.1,1070.8 429.3,1072.4 428.5,1074.8 427.7,1073.4 426.9,1075.2 426.1,1074.6 425.3,1072.5 424.5,1074 423.7,1073.6 422.9,1072.8 422.1,1074 421.3,1072.1 420.5,1071.5 419.7,1071.5 418.9,1073.6 418.1,1071.1 417.3,1074.4 416.5,1075 415.7,1074.5 414.9,1073.3 414.1,1071.5 413.3,1074.5 412.5,1070.8 411.7,1074.6 410.9,1071.7 410.1,1074.8 409.3,1072.1 408.5,1071.3 407.7,1072.7 406.9,1073.5 406.1,1073.8 405.3,1071.1 404.5,1074.8 403.7,1073.7 402.9,1075.4 402.1,1075.2 401.3,1074 400.5,1072.7 399.7,1072.1 398.9,1073.2 398.1,1076.7 397.3,1071.4 396.5,1071.6 395.7,1072.1 394.9,1073.7 394.1,1072.3 393.3,1070.6 392.5,1072.5 391.7,1074.3 390.9,1074.2 390.1,1079.4 389.3,1072.1 388.5,1071.1 387.7,1074.1 386.9,1074.8 386.1,1073.8 385.3,1072.6 384.5,1075.5 383.7,1072 382.9,1071.8 382.1,1071.9 381.3,1070.6 380.5,1071.8 379.7,1071.2 378.9,1072.4 378.1,1072.5 377.3,1072 376.5,1070.6 375.7,1074.2 374.9,1080.3 374.1,1072.6 373.3,1075.2 372.5,1071.7 371.7,1074.5 370.9,1072.6 370.1,1074.3 369.3,1071.8 368.5,1073 367.7,1071.3 366.9,1071.1 366.1,1070.8 365.3,1072.1 364.5,1074.2 363.7,1073 362.9,1075.3 362.1,1072.1 361.3,1075.3 360.5,1073.2 359.7,1072.5 358.9,1071.6 358.1,1072.3 357.3,1077.6 356.5,1071.9 355.7,1073.6 354.9,1072.3 354.1,1071.4 353.3,1075 352.5,1072.8 351.7,1072.5 350.9,1077.6 350.1,1071.3 349.3,1071.7 348.5,1072.5 347.7,1072.1 346.9,1072.6 346.1,1074.8 345.3,1071.6 344.5,1075.4 343.7,1075.2 342.9,1071.6 342.1,1074.1 341.3,1073.8 340.5,1071.2 339.7,1076.7 338.9,1070.8 338.1,1074.9 337.3,1070.6 336.5,1072.3 335.7,1071.8 334.9,1071.8 334.1,1074 333.3,1074.8 332.5,1072 331.7,1071.3 330.9,1071.6 330.1,1072.5 329.3,1074.8 328.5,1073.7 327.7,1075.4 326.9,1072.8 326.1,1071.6 325.3,1070.7 324.5,1072.5 323.7,1077.2 322.9,1074.3 322.1,1072.3 321.3,1074.7 320.5,1071.4 319.7,1071.8 318.9,1070.7 318.1,1074.5 317.3,1070.9 316.5,1072.7 315.7,1074.9 314.9,1070.7 314.1,1072.9 313.3,1074.4 312.5,1071.3 311.7,1073.1 310.9,1073.1 310.1,1073.7 309.3,1075.1 308.5,1070.7 307.7,1073.2 306.9,1071.9 306.1,1071.9 305.3,1072.7 304.5,1071.9 303.7,1071.6 302.9,1072.4 302.1,1071.4 301.3,1071.6 300.5,1074 299.7,1075 298.9,1070.8 298.1,1071.5 297.3,1072.9 296.5,1075 295.7,1072.9 294.9,1072 294.1,1072.3 293.3,1070.8 292.5,1070.5 291.7,1074.5 290.9,1074.2 290.1,1074.8 289.3,1070.8 288.5,1071.7 287.7,1072.5 286.9,1070.8 286.1,1073.5 285.3,1070.8 284.5,1073.1 283.7,1072.7 282.9,1075.5 282.1,1073.9 281.3,1073.5 280.5,1070.7 279.7,1071.8 278.9,1072.4 278.1,1077.3 277.3,1073.9 276.5,1075.4 275.7,1073.2 274.9,1071.7 274.1,1071.1 273.3,1075 272.5,1073.2 271.7,1071.1 270.9,1072.1 270.1,1070.9 269.3,1071.5 268.5,1075.4 267.7,1072.3 266.9,1071.3 266.1,1073 265.3,1072.2 264.5,1074.4 263.7,1076.2 262.9,1074.3 262.1,1075.1 261.3,1071.3 260.5,1074.7 259.7,1073.9 258.9,1074.6 258.1,1075.2 257.3,1071.8 256.5,1072 255.7,1073.6 254.9,1070.6 254.1,1074.1 253.3,1074.6 252.5,1071 251.7,1072.8 250.9,1072.1 250.1,1073.2 249.3,1075.1 248.5,1074.8 247.7,1072.9 246.9,1070.9 246.1,1070.5 245.3,1071.8 244.5,1074.8 243.7,1071.3 242.9,1072.4 242.1,1073.8 241.3,1073.1 240.5,1070.7 239.7,1073.2 238.9,1071.8 238.1,1072.1 237.3,1071.4 236.5,1071.7 235.7,1070.7 234.9,1070.8 234.1,1071.1 233.3,1072 232.5,1072.4 231.7,1072.6 230.9,1073.1 230.1,1074.7 229.3,1074.6 228.5,1074.1 227.7,1075.3 226.9,1073.1 226.1,1073.7 225.3,1070.9 224.5,1070.9 223.7,1074.5 222.9,1073.2 222.1,1074.9 221.3,1074.7 220.5,1071.5 219.7,1072.3 218.9,1075.2 218.1,1074.5 217.3,1075.1 216.5,1072.3 215.7,1071.9 214.9,1070.9 214.1,1074.4 213.3,1073.3 212.5,1071 211.7,1074.2 210.9,1073.8 210.1,1072.6 209.3,1074.5 208.5,1074.2 207.7,1072.4 206.9,1070.9 206.1,1073.6 205.3,1077.1 204.5,1071.4 203.7,1073.3 202.9,1073.6 202.1,1071.7 201.3,1073.2 200.5,1071.8 199.7,1071.1 198.9,1072.8 198.1,1074.6 197.3,1075.2 196.5,1072.9 195.7,1075.2 194.9,1075 194.1,1070.7 193.3,1074.1 192.5,1071.9 191.7,1072.6 190.9,1071.3 190.1,1080 189.3,1073.7 188.5,1073 187.7,1071 186.9,1072.5 186.1,1079.9 185.3,1075.5 184.5,1073.8 183.7,1071.7 182.9,1076.3 182.1,1072.5 181.3,1074.9 180.5,1074.4 179.7,1074.5 178.9,1072.5 178.1,1074.5 177.3,1071.3 176.5,1072.8 175.7,1070.6 174.9,1072.8 174.1,1075.3 173.3,1075.5 172.5,1071.2 171.7,1075.2 170.9,1073 170.1,1075.3 169.3,1076.7 168.5,1072.6 167.7,1074.1 166.9,1075.5 166.1,1072.1 165.3,1071.7 164.5,1073.1 163.7,1071.3 162.9,1072.7 162.1,1073.1 161.3,1073.6 160.5,1071.6 159.7,1071.1 158.9,1072.1 158.1,1072.7 157.3,1075.1 156.5,1070.8 155.7,1074.5 154.9,1070.6 154.1,1071.5 153.3,1074.8 152.5,1072.4 151.7,1073.1 150.9,1073.1 150.1,1073 149.3,1074.1 148.5,1074.4 147.7,1070.8 146.9,1073.3 146.1,1074.8 145.3,1073.2 144.5,1071.6 143.7,1074.1 142.9,1075.2 142.1,1072.4 141.3,1071.1 140.5,1075 139.7,1073.6 138.9,1071.9 138.1,1075.3 137.3,1075.3 136.5,1072.7 135.7,1071.7 134.9,1077 134.1,1070.7 133.3,1072.8 132.5,1073 131.7,1071.9 130.9,1075.3 130.1,1073 129.3,1072.4 128.5,1072.7 127.7,1075 126.9,1071.3 126.1,1075 125.3,1074 124.5,1070.6 123.7,1072.7 122.9,1074.1 122.1,1070.9 121.3,1073.6 120.5,1072.6 119.7,1072.3 118.9,1074.2 118.1,1070.9 117.3,1072.9 116.5,1075.1 115.7,1074 114.9,1072.3 114.1,1071.4 113.3,1070.6 112.5,1073.6 111.7,1070.8 110.9,1073.5 110.1,1071.7 109.3,1073.5 108.5,1075.2 107.7,1074.6 106.9,1074.8 106.1,1072.8 105.3,1073.4 104.5,1072.1 103.7,1075.4 102.9,1072.5 102.1,1074.5 101.3,1072.6 100.5,1074.2 99.7,1071.4 98.9,1071.1 98.1,1070.9 97.3,1070.9 96.5,1075.1 95.7,1075.3 94.9,1074.3 94.1,1072.1 93.3,1075.5 92.5,1073 91.7,1072.7 90.9,1070.8 90.1,1073.6 89.3,1079.9 88.5,1071 87.7,1071.4 86.9,1075.1" fill="#0a98e8"/>
<path d="M223.7,1024.2V1019.4M177.1,1021.2V1016.4M616.1,1070.7V1077.3M215.6,1070.3V1073.9M187.3,1021V1017.5M621.6,1070.8V1077.6M548.5,1023.1V1019M448.7,1069.9V1077.1M594.3,1022.4V1016.2M474.4,1073.5V1076.5M360.4,1020V1011.5M585.9,1071.7V1075.5M610.9,1070.2V1077.5M575.9,1073.2V1077.7M432.5,1018.5V1015.3M263.5,1074.1V1076.4M114.6,1070.4V1074.1M395.5,1020.3V1015.9M661.7,1022.8V1017.9M204.5,1070.1V1073.7M292.6,1069.1V1073M409.3,1070.5V1073.1M123.4,1023.4V1016.1M442,1021.9V1017.6M190.1,1018.2V1015.9M489.1,1072.5V1080.3M510.7,1072.4V1074.5M254.2,1072.2V1078.8M324.1,1073.6V1079.3M558.5,1018.7V1015.4M343.5,1020V1015.3M641.3,1018.9V1016.9M113.7,1022.4V1014.9M296.6,1020.1V1017.4M652.8,1018.4V1015M122,1021.7V1018.5M477.3,1022.3V1020.1M370.2,1020.4V1011.4M158.3,1071.1V1077.7M323.4,1074.7V1079.6M227.1,1019.3V1017M330.3,1023V1014.7M566.1,1017.8V1015.6M234.3,1019V1015.6M221.1,1072.3V1075.2M117.4,1071.1V1076.5M657.9,1019.1V1010.8M464.2,1072.1V1078.6M372.3,1020.5V1017.1M590.7,1073.2V1080.7M281.6,1072.2V1079M457.6,1070.5V1075.6M464.6,1072.7V1076.3M618.9,1070.5V1073M646.7,1070.1V1076.1M113.5,1069.3V1072.1M645.2,1070V1072.4M184.1,1071.3V1076.8M517.4,1070.4V1073.7M89.8,1074.6V1076.7M592.2,1018.8V1011.2M538.4,1071.5V1076.8M593.5,1020.9V1014.2M278.2,1075.5V1082.1M359.2,1070.5V1072.6M107.6,1073.1V1078.1M585.5,1072.5V1075.4M296.5,1073.4V1078.6M94,1071.1V1078.1M136.9,1072.5V1076.8M541,1022.6V1019M367.9,1070.3V1072.9M153.8,1071.4V1078.7M382.8,1020.5V1012.5M534.7,1023.7V1015.5M200.6,1022V1014.1M331,1070V1073.1M591,1022.7V1019.6M372.3,1020.6V1014.8M608.1,1072.1V1074.1M267.3,1070.3V1075.2M499.6,1021.5V1019M229.1,1073V1077.2M529,1069.7V1075.5M477.3,1072.9V1076.8M613.1,1020.1V1011.7M263.8,1074.5V1081.2M440.6,1019.5V1016.5M531.6,1018.6V1012M164.6,1021.9V1018.9M553.4,1022.6V1014.3M301.9,1069.9V1074M445.1,1018.1V1013.3M626.6,1022.1V1015.5M275.9,1022.1V1020M99.5,1069.8V1076.8M548.9,1072.4V1080.1M179.1,1071.5V1076.4M418.1,1069.6V1076.2M645.2,1022.1V1015.6M476.5,1073.6V1079.3M566.2,1018.4V1009.9M321.6,1072.3V1079.7M492.7,1020.9V1017.3M275.8,1072.1V1080.1M605.2,1018.4V1013.5M558.3,1021.1V1016.2M95.5,1022.4V1016.6M486.8,1072.8V1077M635.1,1071.9V1074.8M126.9,1070V1077.9M617.2,1073.4V1077.2M140.5,1020.4V1016.8M622,1069.4V1076.1M173.5,1018.8V1014.7M633.3,1018.2V1010.6M479.6,1071.7V1079.4M238.8,1070.3V1073.3M143.6,1022.3V1018.1M158,1020.7V1011.8M254.2,1072V1078.2M508.7,1072.5V1080.2M593.4,1072.3V1077.7M487.1,1072.3V1077.6M377.1,1020.1V1012.2M366.5,1019.6V1016.5M591.3,1021.7V1017M480.4,1071.5V1075.4M310.5,1020.3V1018.1M592.3,1018.4V1009.7M175.7,1020.6V1012.7M561.7,1022.7V1016.9M362.2,1071V1074.1M562.9,1072.4V1078.6M618,1070.2V1074.5M575.6,1073V1078.6M149.6,1072.2V1079.7M263.5,1074.2V1081.5M433.2,1019.7V1013.3M235,1069.3V1075.3M264.8,1072.2V1077.9M283,1073.5V1080.8M601.8,1071.7V1077.6M489.9,1070.8V1076M656.1,1019.3V1016.7M498.5,1020.4V1014.6M431.9,1021.3V1017.9M129,1071V1078.5M488.8,1022.5V1013.6M563.6,1073.4V1075.4M573.5,1070.8V1076.6M98.4,1069.5V1071.7M363,1022V1017.4M600.1,1071.6V1078.5M259.4,1019.8V1013.6M107.5,1019.2V1010.4M521.8,1071.7V1075.5M485.3,1077.6V1083.8M339.6,1016.5V1014.4M598.3,1071.2V1074.9M522.8,1021.4V1015M572.3,1021.7V1015.4M235.2,1069.3V1071.4M239.6,1023.8V1015.4M164.1,1070.7V1073.2M655.4,1017.6V1015M209.7,1072.2V1078.2M600.3,1018.8V1016M283.8,1023.5V1014.6M183.7,1021.9V1014M153.5,1072.4V1076.2M414.3,1070.4V1077.9M131.5,1071.4V1074.4M501.2,1018.4V1011.1M192.1,1017.8V1015.6M274.6,1021V1012.2M437.1,1021.8V1012.8M186.8,1022.6V1013.9M635.4,1071V1078.9M121,1071.7V1077.9M472.3,1072.6V1075.2M202.7,1023.8V1018.5M402.2,1073.8V1077.9M515.8,1072.5V1079M109.7,1017.3V1013.8M225,1069.4V1072.6M447.3,1018.5V1013.9M495.3,1072.1V1075.2M288.3,1070.4V1073.7M103.4,1022.6V1014.8M508.7,1072.6V1077.6M111.7,1018.7V1011.7M313.9,1022.2V1017.6M354.7,1021.3V1016.2M166.3,1023.4V1015.9M509.2,1021.2V1018.4M257.9,1073.1V1080.4M365,1071.3V1076.5M192.1,1070.8V1076.4M432.7,1071V1073.1M339.3,1072.4V1075.3M112.5,1021.3V1017.3M338.3,1020.8V1014.4M185.8,1021.9V1015.2M401.1,1072.2V1079.8M236.4,1019.3V1013.5M401,1018.7V1010.7M201.2,1020.6V1017.8M596,1072.2V1080.2M170.3,1073.2V1078.7M117.5,1070.9V1078.2M134.2,1070.3V1077M435.8,1077.8V1081.3M120.9,1023.7V1015.6M208.2,1019.8V1015.8M485.5,1076.4V1083.8M253.5,1019.8V1017.8M392.5,1071V1078.1M129.4,1023.6V1021M332.1,1070.2V1073.9M574.5,1071.9V1078.9M204.1,1070.9V1078.4M662.5,1024V1021.9M255.6,1071.7V1076.2M141.1,1070.6V1076.6M450.6,1073.4V1078.7M484.8,1019.7V1014.7M165.9,1022.8V1015.4M274.5,1021.3V1017.4M425.8,1021.2V1014.7M128.4,1071.4V1074.4M529.6,1070.7V1075.2M263,1021V1013.7M389.8,1075.5V1079M447.4,1017.9V1012.5M462.7,1071.3V1076.8M416,1021.6V1012.9M481.4,1070.2V1077.9M347.8,1018.1V1014M269.9,1022.1V1017.8M208.2,1019.9V1015.8M299.9,1073.2V1077.1M584.7,1071.1V1075.1M568,1019.5V1016.8M660.3,1023.5V1021.5M586.8,1023.5V1016.9M407.7,1015.1V1011.4M644.4,1024V1020.3M341.9,1072.5V1076.3M139.1,1070.9V1073.4M119.8,1023.1V1014.2M337.7,1071.4V1076.7M648.8,1020.2V1015.8M480.4,1020.1V1015.6M524.8,1070.3V1075.2M627,1021.3V1014.2M313.7,1021.1V1016.4M209.1,1018.2V1014.2M160.5,1017.7V1010.5M524,1070.5V1074.4M473.1,1070.3V1074.7M613.6,1022.6V1014.1M594.9,1073.9V1080.9M496.9,1021.6V1014.6M593.4,1072.2V1078M619.8,1022.6V1018.3M108.3,1073.6V1079.4M475,1020.8V1017.6M363.3,1072.5V1076.6M330.7,1021.1V1013.2M159.2,1070.2V1072.3M490.2,1070.8V1075.7M514.7,1019.5V1016.6M295,1011.8V1004.8M412.5,1069.4V1077.3M532.8,1071.9V1079.7M622.3,1069.9V1074M380.4,1070.2V1076.9M605.7,1072V1078M234.2,1069.5V1072.6M460.2,1021.7V1019.5M637.6,1075.1V1078.9M113.7,1069.5V1076.2M177,1070.4V1077.4M418.4,1022.4V1020M124.4,1018.7V1011.7M455.1,1021.8V1014.2M124.2,1069.9V1072.9M91,1017V1009.5M214.4,1021.2V1015.8M288.7,1070V1075.4M495.2,1072.6V1076.6M453.3,1017.9V1014.1M143.2,1073.3V1077.3M496.8,1071.2V1075.5M206.9,1021.3V1015.9M310.8,1021.6V1013.7M455.8,1071V1078M505.3,1069.9V1076.1M334.2,1072.2V1079.7M149.8,1020.8V1017.6M350.1,1070V1075.2M580,1017.7V1011.8M230,1073.2V1076.8M92.2,1018.2V1012.2M594.9,1021.5V1013M554.9,1017.7V1010.3M626.1,1070.3V1076.4M312.5,1069.9V1075.8M440.7,1019.8V1011.6M399,1020.1V1015.9M134.3,1018.6V1015.9M392.7,1018.5V1010.7M530.3,1021.2V1013.5M422.8,1018.5V1010.1M91.5,1014.6V1008.4M181.5,1020.9V1012.7M285.6,1070.3V1073.4M649.2,1070.1V1073.1M527.8,1023.3V1021.1M209.3,1073V1077.8M392.6,1018.3V1015.1M298,1070.1V1077M346.4,1022.1V1013.7M485.1,1076.2V1083.1M366.7,1018.8V1016M466.2,1070.4V1077.8M616.9,1072.1V1077M643.1,1020.4V1015.8M401.8,1073.2V1078.9M179,1071.3V1074.4M308.8,1023.4V1019.1M448.6,1020.4V1017.2M357.6,1073.8V1077.7M244.4,1020.1V1013.2M108.8,1073V1075.3M599.9,1020.5V1012.7M107.4,1019.3V1015.5M534.4,1070.5V1073.2M117.6,1070.8V1075.3M302.4,1022.4V1017.8M419.6,1018.2V1015.3M359.2,1070.4V1077M501.2,1073.8V1078.4M296.4,1073.1V1075.7M529,1017V1010.7M383.6,1070.5V1072.9M474.3,1073.5V1075.7M481.2,1019.8V1012.6M651,1017.8V1013M375.2,1076.3V1083.9M104.4,1019.5V1014.6M550.6,1071.5V1076.8M618.1,1069.8V1077M452.9,1018.7V1011.6M500.1,1073.1V1076.2M100.6,1020.9V1017.1M310.6,1020.9V1014.7M333.8,1021.8V1019.1M418.2,1023V1015M247.2,1070.2V1073M312.1,1070.8V1075.9M345.6,1071.1V1074.1M577.7,1072.1V1075.8M289.2,1020.4V1014M341.5,1072.4V1078.3M582.5,1073.4V1077.2M470.9,1070.9V1078.3M310.1,1072.2V1078.8M280.4,1019.7V1013.4M302.8,1070.8V1074.9M214.6,1070.6V1076.2M657.8,1071.4V1075.9M346,1073.1V1078.1M426,1021.7V1013.7M601.3,1070.5V1077M598.8,1021.4V1012.8M204,1020.3V1014.9M178.9,1023.2V1017M173.4,1018.8V1014.3M630.7,1021.4V1015.8M357.2,1023.4V1019M296.9,1021.7V1015.8M408.1,1018.3V1013.2M438.5,1023.5V1020.6M465.5,1020.3V1012.3M164,1070.4V1074.2M451.9,1073.7V1079.6M416.9,1073.2V1076.6M660.8,1023.4V1017M162.6,1020.3V1017.2M400.5,1018.3V1010.7M177,1070.3V1077.7M486.6,1072.2V1079.1M581.4,1021.2V1015.7M260,1018.6V1011.5M508.5,1021.8V1018.6M128.2,1072.2V1079.1M140.9,1022.1V1019.1M657.7,1020.2V1014.2M592.1,1019V1012.3M283.1,1073.2V1078M173.7,1073.8V1078.8M653,1071.4V1079.2M464.6,1022.7V1020.6M658.8,1073.1V1079.8M570.2,1024V1017.1M460.4,1022.4V1016.6M622.9,1072.2V1078.9M126.5,1022V1016.5M407.4,1071.6V1076.5M413.8,1071.3V1077.4M421.5,1016.5V1012.5M584.9,1020.5V1013.5M244.1,1071.7V1075M329.6,1021.1V1013M508.9,1021.4V1017.7M515.6,1019.3V1016M154.9,1069.2V1075.1M551.8,1019.7V1014.4" stroke="#2aa2ea" stroke-width="0.9" fill="none"/>
<line x1="225.9" y1="1026" x2="225.9" y2="1068" stroke="#5cb8f0" stroke-width="0.8" opacity="0.6"/>
<line x1="400.9" y1="1026" x2="400.9" y2="1068" stroke="#5cb8f0" stroke-width="0.8" opacity="0.6"/>
<line x1="301.3" y1="1026" x2="301.3" y2="1068" stroke="#5cb8f0" stroke-width="0.8" opacity="0.6"/>
<line x1="435" y1="1026" x2="435" y2="1068" stroke="#5cb8f0" stroke-width="0.8" opacity="0.6"/>
<line x1="447.4" y1="1026" x2="447.4" y2="1068" stroke="#5cb8f0" stroke-width="0.8" opacity="0.6"/>
<line x1="127.3" y1="1026" x2="127.3" y2="1068" stroke="#5cb8f0" stroke-width="0.8" opacity="0.6"/>
<line x1="97.4" y1="1026" x2="97.4" y2="1068" stroke="#5cb8f0" stroke-width="0.8" opacity="0.6"/>
<line x1="568.4" y1="1026" x2="568.4" y2="1068" stroke="#5cb8f0" stroke-width="0.8" opacity="0.6"/>
<line x1="238.1" y1="1026" x2="238.1" y2="1068" stroke="#5cb8f0" stroke-width="0.8" opacity="0.6"/>
<line x1="223.8" y1="1026" x2="223.8" y2="1068" stroke="#5cb8f0" stroke-width="0.8" opacity="0.6"/>
<line x1="658.8" y1="1026" x2="658.8" y2="1068" stroke="#5cb8f0" stroke-width="0.8" opacity="0.6"/>
<line x1="358.6" y1="1026" x2="358.6" y2="1068" stroke="#5cb8f0" stroke-width="0.8" opacity="0.6"/>
<line x1="567.9" y1="1026" x2="567.9" y2="1068" stroke="#5cb8f0" stroke-width="0.8" opacity="0.6"/>
<line x1="362.1" y1="1026" x2="362.1" y2="1068" stroke="#5cb8f0" stroke-width="0.8" opacity="0.6"/>
<line x1="455.1" y1="1026" x2="455.1" y2="1068" stroke="#5cb8f0" stroke-width="0.8" opacity="0.6"/>
<line x1="176" y1="1026" x2="176" y2="1068" stroke="#5cb8f0" stroke-width="0.8" opacity="0.6"/>
<line x1="452.7" y1="1026" x2="452.7" y2="1068" stroke="#5cb8f0" stroke-width="0.8" opacity="0.6"/>
<line x1="585.9" y1="1026" x2="585.9" y2="1068" stroke="#5cb8f0" stroke-width="0.8" opacity="0.6"/>
<line x1="388.8" y1="1026" x2="388.8" y2="1068" stroke="#5cb8f0" stroke-width="0.8" opacity="0.6"/>
<line x1="513.5" y1="1026" x2="513.5" y2="1068" stroke="#5cb8f0" stroke-width="0.8" opacity="0.6"/>
<line x1="473.5" y1="1026" x2="473.5" y2="1068" stroke="#5cb8f0" stroke-width="0.8" opacity="0.6"/>
<line x1="126.5" y1="1026" x2="126.5" y2="1068" stroke="#5cb8f0" stroke-width="0.8" opacity="0.6"/>
<line x1="375.8" y1="676" x2="375.8" y2="1030" stroke="#0a98e8" stroke-width="1.3" />
<rect x="329.3" y="1008.2" width="29.7" height="77" fill="#ff7f0e" opacity="0.5"/>
<rect x="368.2" y="670.9" width="14.8" height="446.4" fill="#2ca02c" opacity="0.35"/>
<line x1="111.1" y1="874.9" x2="329.3" y2="1008.2" stroke="#f7891e" stroke-width="2.4" stroke-dasharray="7.6,4.8"/>
<line x1="342.1" y1="874.9" x2="343.4" y2="1008.2" stroke="#f7891e" stroke-width="2.4" stroke-dasharray="7.6,4.8"/>
<line x1="383" y1="671" x2="409.4" y2="711.9" stroke="#7cb845" stroke-width="2.4" stroke-dasharray="7.6,4.8"/>
<line x1="409.4" y1="874.9" x2="382.2" y2="1117.3" stroke="#7cb845" stroke-width="2.4" stroke-dasharray="7.6,4.8"/>
<rect x="86.9" y="656.4" width="577.4" height="461.7" fill="none" stroke="#2a2a2a" stroke-width="1.7"/>
<text transform="translate(87,1151.8) scale(0.9434,1)" font-size="30.2" text-anchor="middle" fill="#000" stroke="#000" stroke-width="0.3" >-4</text>
<line x1="159.2" y1="1118.1" x2="159.2" y2="1114.1" stroke="#2a2a2a" stroke-width="1.7" />
<line x1="231.4" y1="1118.1" x2="231.4" y2="1110.5" stroke="#2a2a2a" stroke-width="1.7" />
<text transform="translate(231.4,1151.8) scale(0.9434,1)" font-size="30.2" text-anchor="middle" fill="#000" stroke="#000" stroke-width="0.3" >-2</text>
<line x1="303.6" y1="1118.1" x2="303.6" y2="1114.1" stroke="#2a2a2a" stroke-width="1.7" />
<line x1="375.8" y1="1118.1" x2="375.8" y2="1110.5" stroke="#2a2a2a" stroke-width="1.7" />
<text transform="translate(375.8,1151.8) scale(0.9434,1)" font-size="30.2" text-anchor="middle" fill="#000" stroke="#000" stroke-width="0.3" >0</text>
<line x1="448" y1="1118.1" x2="448" y2="1114.1" stroke="#2a2a2a" stroke-width="1.7" />
<line x1="520.2" y1="1118.1" x2="520.2" y2="1110.5" stroke="#2a2a2a" stroke-width="1.7" />
<text transform="translate(520.2,1151.8) scale(0.9434,1)" font-size="30.2" text-anchor="middle" fill="#000" stroke="#000" stroke-width="0.3" >2</text>
<line x1="592.4" y1="1118.1" x2="592.4" y2="1114.1" stroke="#2a2a2a" stroke-width="1.7" />
<text transform="translate(664.6,1151.8) scale(0.9434,1)" font-size="30.2" text-anchor="middle" fill="#000" stroke="#000" stroke-width="0.3" >4</text>
<line x1="86.9" y1="675.5" x2="96.4" y2="675.5" stroke="#2a2a2a" stroke-width="1.7" />
<line x1="86.9" y1="723.6" x2="91.9" y2="723.6" stroke="#2a2a2a" stroke-width="1.7" />
<line x1="86.9" y1="771.6" x2="96.4" y2="771.6" stroke="#2a2a2a" stroke-width="1.7" />
<line x1="86.9" y1="819.7" x2="91.9" y2="819.7" stroke="#2a2a2a" stroke-width="1.7" />
<line x1="86.9" y1="867.8" x2="96.4" y2="867.8" stroke="#2a2a2a" stroke-width="1.7" />
<line x1="86.9" y1="915.9" x2="91.9" y2="915.9" stroke="#2a2a2a" stroke-width="1.7" />
<line x1="86.9" y1="963.9" x2="91.9" y2="963.9" stroke="#2a2a2a" stroke-width="1.7" />
<line x1="86.9" y1="1012" x2="96.4" y2="1012" stroke="#2a2a2a" stroke-width="1.7" />
<line x1="86.9" y1="1060.1" x2="91.9" y2="1060.1" stroke="#2a2a2a" stroke-width="1.7" />
<line x1="86.9" y1="1108.1" x2="96.4" y2="1108.1" stroke="#2a2a2a" stroke-width="1.7" />
<text transform="translate(77.8,688.5) scale(0.9434,1)" font-size="30.2" text-anchor="end" fill="#000" stroke="#000" stroke-width="0.3" >1.0</text>
<text transform="translate(77.8,797) scale(0.9434,1)" font-size="30.2" text-anchor="end" fill="#000" stroke="#000" stroke-width="0.3" >0.8</text>
<text transform="translate(77.8,905.3) scale(0.9434,1)" font-size="30.2" text-anchor="end" fill="#000" stroke="#000" stroke-width="0.3" >0.5</text>
<text transform="translate(77.8,1013.3) scale(0.9434,1)" font-size="30.2" text-anchor="end" fill="#000" stroke="#000" stroke-width="0.3" >0.3</text>
<text transform="translate(77.8,1121.5) scale(0.9434,1)" font-size="30.2" text-anchor="end" fill="#000" stroke="#000" stroke-width="0.3" >0.0</text>
<text transform="translate(375.7,1190.8) scale(0.9434,1)" font-size="30.2" text-anchor="middle" fill="#000" stroke="#000" stroke-width="0.3" >Time delay (µs)</text>
<text transform="translate(21.3,888.4) rotate(-90) scale(0.9434,1)" font-size="30.2" text-anchor="middle" fill="#000" stroke="#000" stroke-width="0.3">Auto-correlation (a.u.)</text>
<rect x="111.1" y="711.9" width="231" height="163" fill="#fff" />
<polyline points="111.1,825.6 112.3,838.8 113.6,827 114.8,843.6 116.1,835.1 117.3,821.1 118.6,828.8 119.8,840.4 121.1,848.9 122.3,832.4 123.6,847.8 124.8,840.4 126.1,842.6 127.3,847 128.6,811 129.8,772.9 130.2,752.8 131.1,791.7 132.3,824.3 133.6,826.8 134.8,846 136.1,842.4 137.3,848.2 138.6,831.9 139.8,825.1 141.1,829.2 142.3,835 143.6,834.6 144.8,844.4 146.1,841 147.3,814.2 148.6,829.9 149.8,824.2 151.1,838.5 152.3,830.3 153.6,847 154.8,825.7 156.1,825.9 157.3,819.4 158.6,848.7 159.8,837.5 161.1,834.7 162.3,814.5 163.6,780.9 164,761.1 164.8,794.7 166.1,822.5 167.3,829.1 168.6,833 169.8,825.1 171.1,832.6 172.3,835.7 173.6,821.8 174.8,844.5 176.1,845.7 177.3,832.9 178.6,844.8 179.8,836 181.1,833.7 182.3,821.7 183.6,839 184.8,837.4 186.1,832.4 187.3,840.4 188.6,826.2 189.8,835.7 191.1,824.5 192.3,830.1 193.6,827.1 194.8,826.2 196.1,818.4 197.3,783.8 198,752.8 198.6,782.1 199.8,817.2 201.1,832.1 202.3,844.9 203.6,848 204.8,841.9 206.1,825.4 207.3,848.7 208.6,843.5 209.8,837 211.1,822.7 212.3,830.1 213.6,829.2 214.8,842.2 216.1,838.3 217.3,831.2 218.6,829.7 219.8,847.5 221.1,840.8 222.3,835.4 223.6,827.2 224.8,828.7 226.1,832.3 227.3,843.3 228.6,830.2 229.8,821.5 231.1,791.8 231.8,763.4 232.3,787.4 233.6,818.4 234.8,838.7 236.1,841.5 237.3,844 238.6,834.5 239.8,829.6 241.1,835.7 242.3,846.5 243.6,826.7 244.8,836.7 246.1,829.5 247.3,841.8 248.6,824 249.8,840.7 251.1,830.4 252.3,840.1 253.6,847.6 254.8,828.1 256.1,825.3 257.4,826.6 258.6,828.8 259.9,847.3 261.1,833.2 262.4,828.9 263.6,829.7 264.9,796.5 266,747.1 266.1,756 267.4,802.3 268.6,821.5 269.9,822.1 271.1,840.6 272.4,821.2 273.6,823.6 274.9,833.7 276.1,838 277.4,822.4 278.6,832.3 279.9,827.3 281.1,844.6 282.4,841.3 283.6,846.2 284.9,842.3 286.1,822.7 287.4,838 288.6,834.2 289.9,830.5 291.1,830.9 292.4,838.6 293.6,815.6 294.9,826.3 296.1,828 297.4,833.4 298.6,801.9 299.9,754.9 299.9,749.6 301.1,799 302.4,831 303.6,830.1 304.9,835.1 306.1,838 307.4,845.5 308.6,825.5 309.9,843.6 311.1,840 312.4,842.8 313.6,835.9 314.9,848.2 316.1,847.4 317.4,848.1 318.6,835.7 319.9,825.5 321.1,836 322.4,826.8 323.6,836.5 324.9,841.7 326.1,838.1 327.4,830.9 328.6,845.3 329.9,848.8 331.1,847.7 332.4,808.8 333.6,768.6 333.9,750 334.9,791.8 336.1,825.2 337.4,825.5 338.6,838.2 339.9,834.9 341.1,826.9" fill="none" stroke="#f7891e" stroke-width="1.5" stroke-linejoin="round"/>
<rect x="111.1" y="711.9" width="231" height="163" fill="none" stroke="#2a2a2a" stroke-width="1.3"/>
<line x1="131.4" y1="874.9" x2="131.4" y2="872.4" stroke="#2a2a2a" stroke-width="1.2" />
<line x1="165.3" y1="874.9" x2="165.3" y2="870.4" stroke="#2a2a2a" stroke-width="1.2" />
<text x="165.3" y="894.7" font-size="16" text-anchor="middle" fill="#000" stroke="#000" stroke-width="0.2" >-375</text>
<line x1="199.2" y1="874.9" x2="199.2" y2="872.4" stroke="#2a2a2a" stroke-width="1.2" />
<line x1="233.1" y1="874.9" x2="233.1" y2="870.4" stroke="#2a2a2a" stroke-width="1.2" />
<text x="233.1" y="894.7" font-size="16" text-anchor="middle" fill="#000" stroke="#000" stroke-width="0.2" >-350</text>
<line x1="267" y1="874.9" x2="267" y2="872.4" stroke="#2a2a2a" stroke-width="1.2" />
<line x1="300.9" y1="874.9" x2="300.9" y2="870.4" stroke="#2a2a2a" stroke-width="1.2" />
<text x="300.9" y="894.7" font-size="16" text-anchor="middle" fill="#000" stroke="#000" stroke-width="0.2" >-325</text>
<line x1="334.8" y1="874.9" x2="334.8" y2="872.4" stroke="#2a2a2a" stroke-width="1.2" />
<line x1="111.1" y1="732.7" x2="113.6" y2="732.7" stroke="#2a2a2a" stroke-width="1.2" />
<line x1="111.1" y1="752.8" x2="115.6" y2="752.8" stroke="#2a2a2a" stroke-width="1.2" />
<line x1="111.1" y1="773" x2="113.6" y2="773" stroke="#2a2a2a" stroke-width="1.2" />
<line x1="111.1" y1="793.6" x2="115.6" y2="793.6" stroke="#2a2a2a" stroke-width="1.2" />
<line x1="111.1" y1="814" x2="113.6" y2="814" stroke="#2a2a2a" stroke-width="1.2" />
<line x1="111.1" y1="834.1" x2="115.6" y2="834.1" stroke="#2a2a2a" stroke-width="1.2" />
<line x1="111.1" y1="854.3" x2="113.6" y2="854.3" stroke="#2a2a2a" stroke-width="1.2" />
<text x="227.1" y="913.7" font-size="16" text-anchor="middle" fill="#000" stroke="#000" stroke-width="0.2" >Time delay (ns)</text>
<rect x="409.4" y="711.9" width="220" height="163" fill="#fff" />
<polyline points="409.5,852.8 409.9,853 410.4,853.1 410.8,853.2 411.3,853.3 411.7,853.4 412.1,853.5 412.6,853.6 413,853.7 413.5,853.8 413.9,853.9 414.3,854 414.8,854 415.2,854.1 415.7,854.2 416.1,854.2 416.5,854.3 417,854.3 417.4,854.4 417.9,854.4 418.3,854.4 418.7,854.4 419.2,854.4 419.6,854.4 420.1,854.4 420.5,854.4 420.9,854.4 421.4,854.4 421.8,854.4 422.3,854.3 422.7,854.3 423.1,854.2 423.6,854.1 424,854.1 424.5,854 424.9,853.9 425.3,853.8 425.8,853.8 426.2,853.7 426.7,853.6 427.1,853.5 427.5,853.3 428,853.2 428.4,853.1 428.9,853 429.3,852.9 429.7,852.7 430.2,852.6 430.6,852.5 431.1,852.3 431.5,852.2 431.9,852.1 432.4,852 432.8,851.8 433.3,851.7 433.7,851.6 434.1,851.4 434.6,851.3 435,851.2 435.5,851.1 435.9,850.9 436.3,850.8 436.8,850.7 437.2,850.6 437.7,850.5 438.1,850.4 438.5,850.3 439,850.2 439.4,850.1 439.9,850.1 440.3,850 440.7,849.9 441.2,849.9 441.6,849.8 442.1,849.8 442.5,849.7 442.9,849.7 443.4,849.7 443.8,849.6 444.3,849.6 444.7,849.6 445.1,849.6 445.6,849.6 446,849.7 446.5,849.7 446.9,849.7 447.3,849.7 447.8,849.8 448.2,849.8 448.7,849.9 449.1,850 449.5,850 450,850.1 450.4,850.2 450.9,850.2 451.3,850.3 451.7,850.4 452.2,850.5 452.6,850.6 453.1,850.7 453.5,850.8 453.9,850.9 454.4,851 454.8,851.1 455.3,851.2 455.7,851.3 456.1,851.4 456.6,851.5 457,851.7 457.5,851.8 457.9,851.9 458.3,852 458.8,852.1 459.2,852.2 459.7,852.2 460.1,852.3 460.5,852.4 461,852.5 461.4,852.6 461.9,852.6 462.3,852.7 462.7,852.8 463.2,852.8 463.6,852.9 464.1,852.9 464.5,852.9 464.9,853 465.4,853 465.8,853 466.3,853 466.7,853 467.1,853 467.6,853 468,852.9 468.5,852.9 468.9,852.9 469.3,852.8 469.8,852.8 470.2,852.7 470.7,852.6 471.1,852.5 471.5,852.4 472,852.3 472.4,852.2 472.9,852.1 473.3,852 473.7,851.9 474.2,851.7 474.6,851.6 475.1,851.5 475.5,851.3 475.9,851.1 476.4,851 476.8,850.8 477.3,850.6 477.7,850.5 478.1,850.3 478.6,850.1 479,849.9 479.5,849.7 479.9,849.5 480.3,849.3 480.8,849.1 481.2,848.9 481.7,848.7 482.1,848.5 482.5,848.3 483,848.1 483.4,847.8 483.9,847.6 484.3,847.4 484.7,847.2 485.2,847 485.6,846.8 486.1,846.6 486.5,846.3 486.9,846.1 487.4,845.9 487.8,845.7 488.3,845.5 488.7,845.3 489.1,845.1 489.6,844.9 490,844.7 490.5,844.4 490.9,844.2 491.3,844 491.8,843.8 492.2,843.6 492.7,843.4 493.1,843.1 493.5,842.9 494,842.7 494.4,842.5 494.9,842.2 495.3,842 495.7,841.7 496.2,841.5 496.6,841.2 497.1,840.9 497.5,840.6 497.9,840.3 498.4,839.9 498.8,839.6 499.3,839.2 499.7,838.8 500.1,838.4 500.6,838 501,837.5 501.5,837 501.9,836.4 502.3,835.8 502.8,835.2 503.2,834.5 503.7,833.8 504.1,833 504.5,832.1 505,831.2 505.4,830.2 505.9,829.1 506.3,827.9 506.7,826.7 507.2,825.3 507.6,823.7 508.1,822.1 508.5,820.3 508.9,818.4 509.4,816.3 509.8,814 510.3,811.4 510.7,808.7 511.1,805.8 511.6,802.6 512,799.1 512.5,795.4 512.9,791.3 513.3,787 513.8,782.4 514.2,777.6 514.7,772.5 515.1,767.2 515.5,761.7 516,756.3 516.4,750.9 516.9,745.7 517.3,740.9 517.7,736.6 518.2,733 518.6,730.3 519.1,728.7 519.5,728.1 519.9,728.7 520.4,730.3 520.8,733 521.3,736.6 521.7,740.9 522.1,745.7 522.6,750.9 523,756.3 523.5,761.7 523.9,767.2 524.3,772.5 524.8,777.6 525.2,782.4 525.7,787 526.1,791.3 526.5,795.4 527,799.1 527.4,802.6 527.9,805.8 528.3,808.7 528.7,811.4 529.2,814 529.6,816.3 530.1,818.4 530.5,820.3 530.9,822.1 531.4,823.7 531.8,825.3 532.3,826.7 532.7,827.9 533.1,829.1 533.6,830.2 534,831.2 534.5,832.1 534.9,833 535.3,833.8 535.8,834.5 536.2,835.2 536.7,835.8 537.1,836.4 537.5,837 538,837.5 538.4,838 538.9,838.4 539.3,838.8 539.7,839.2 540.2,839.6 540.6,839.9 541.1,840.3 541.5,840.6 541.9,840.9 542.4,841.2 542.8,841.5 543.3,841.7 543.7,842 544.1,842.2 544.6,842.5 545,842.7 545.5,842.9 545.9,843.1 546.3,843.4 546.8,843.6 547.2,843.8 547.7,844 548.1,844.2 548.5,844.4 549,844.7 549.4,844.9 549.9,845.1 550.3,845.3 550.7,845.5 551.2,845.7 551.6,845.9 552.1,846.1 552.5,846.3 552.9,846.6 553.4,846.8 553.8,847 554.3,847.2 554.7,847.4 555.1,847.6 555.6,847.8 556,848.1 556.5,848.3 556.9,848.5 557.3,848.7 557.8,848.9 558.2,849.1 558.7,849.3 559.1,849.5 559.5,849.7 560,849.9 560.4,850.1 560.9,850.3 561.3,850.5 561.7,850.6 562.2,850.8 562.6,851 563.1,851.1 563.5,851.3 563.9,851.5 564.4,851.6 564.8,851.7 565.3,851.9 565.7,852 566.1,852.1 566.6,852.2 567,852.3 567.5,852.4 567.9,852.5 568.3,852.6 568.8,852.7 569.2,852.8 569.7,852.8 570.1,852.9 570.5,852.9 571,852.9 571.4,853 571.9,853 572.3,853 572.7,853 573.2,853 573.6,853 574.1,853 574.5,852.9 574.9,852.9 575.4,852.9 575.8,852.8 576.3,852.8 576.7,852.7 577.1,852.6 577.6,852.6 578,852.5 578.5,852.4 578.9,852.3 579.3,852.2 579.8,852.2 580.2,852.1 580.7,852 581.1,851.9 581.5,851.8 582,851.7 582.4,851.5 582.9,851.4 583.3,851.3 583.7,851.2 584.2,851.1 584.6,851 585.1,850.9 585.5,850.8 585.9,850.7 586.4,850.6 586.8,850.5 587.3,850.4 587.7,850.3 588.1,850.2 588.6,850.2 589,850.1 589.5,850 589.9,850 590.3,849.9 590.8,849.8 591.2,849.8 591.7,849.7 592.1,849.7 592.5,849.7 593,849.7 593.4,849.6 593.9,849.6 594.3,849.6 594.7,849.6 595.2,849.6 595.6,849.7 596.1,849.7 596.5,849.7 596.9,849.8 597.4,849.8 597.8,849.9 598.3,849.9 598.7,850 599.1,850.1 599.6,850.1 600,850.2 600.5,850.3 600.9,850.4 601.3,850.5 601.8,850.6 602.2,850.7 602.7,850.8 603.1,850.9 603.5,851.1 604,851.2 604.4,851.3 604.9,851.4 605.3,851.6 605.7,851.7 606.2,851.8 606.6,852 607.1,852.1 607.5,852.2 607.9,852.3 608.4,852.5 608.8,852.6 609.3,852.7 609.7,852.9 610.1,853 610.6,853.1 611,853.2 611.5,853.3 611.9,853.5 612.3,853.6 612.8,853.7 613.2,853.8 613.7,853.8 614.1,853.9 614.5,854 615,854.1 615.4,854.1 615.9,854.2 616.3,854.3 616.7,854.3 617.2,854.4 617.6,854.4 618.1,854.4 618.5,854.4 618.9,854.4 619.4,854.4 619.8,854.4 620.3,854.4 620.7,854.4 621.1,854.4 621.6,854.4 622,854.3 622.5,854.3 622.9,854.2 623.3,854.2 623.8,854.1 624.2,854 624.7,854 625.1,853.9 625.5,853.8 626,853.7 626.4,853.6 626.9,853.5 627.3,853.4 627.7,853.3 628.2,853.2 628.6,853.1 629.1,853 629.5,852.8" fill="none" stroke="#7cb845" stroke-width="2.2" stroke-linejoin="round"/>
<rect x="447.6" y="853.5" width="6.2" height="6.2" fill="none" stroke="#86c25a" stroke-width="1.5"/>
<rect x="453.4" y="853.5" width="6.2" height="6.2" fill="none" stroke="#86c25a" stroke-width="1.5"/>
<rect x="459.2" y="847.7" width="6.2" height="6.2" fill="none" stroke="#86c25a" stroke-width="1.5"/>
<rect x="464" y="845.8" width="6.2" height="6.2" fill="none" stroke="#86c25a" stroke-width="1.5"/>
<rect x="467.8" y="846.8" width="6.2" height="6.2" fill="none" stroke="#86c25a" stroke-width="1.5"/>
<rect x="470.7" y="852.2" width="6.2" height="6.2" fill="none" stroke="#86c25a" stroke-width="1.5"/>
<rect x="473.6" y="857.4" width="6.2" height="6.2" fill="none" stroke="#86c25a" stroke-width="1.5"/>
<rect x="477.4" y="859.3" width="6.2" height="6.2" fill="none" stroke="#86c25a" stroke-width="1.5"/>
<rect x="480.7" y="855.4" width="6.2" height="6.2" fill="none" stroke="#86c25a" stroke-width="1.5"/>
<rect x="485.1" y="845.8" width="6.2" height="6.2" fill="none" stroke="#86c25a" stroke-width="1.5"/>
<rect x="488" y="842.9" width="6.2" height="6.2" fill="none" stroke="#86c25a" stroke-width="1.5"/>
<rect x="490.9" y="844.5" width="6.2" height="6.2" fill="none" stroke="#86c25a" stroke-width="1.5"/>
<rect x="495.3" y="854.1" width="6.2" height="6.2" fill="none" stroke="#86c25a" stroke-width="1.5"/>
<rect x="498.5" y="863.7" width="6.2" height="6.2" fill="none" stroke="#86c25a" stroke-width="1.5"/>
<rect x="501.8" y="861.2" width="6.2" height="6.2" fill="none" stroke="#86c25a" stroke-width="1.5"/>
<rect x="506.2" y="836.8" width="6.2" height="6.2" fill="none" stroke="#86c25a" stroke-width="1.5"/>
<rect x="508.7" y="803.2" width="6.2" height="6.2" fill="none" stroke="#86c25a" stroke-width="1.5"/>
<rect x="512" y="759.9" width="6.2" height="6.2" fill="none" stroke="#86c25a" stroke-width="1.5"/>
<rect x="516.4" y="732.1" width="6.2" height="6.2" fill="none" stroke="#86c25a" stroke-width="1.5"/>
<rect x="516.4" y="759.9" width="6.2" height="6.2" fill="none" stroke="#86c25a" stroke-width="1.5"/>
<rect x="520.3" y="759.9" width="6.2" height="6.2" fill="none" stroke="#86c25a" stroke-width="1.5"/>
<rect x="585.2" y="853.5" width="6.2" height="6.2" fill="none" stroke="#86c25a" stroke-width="1.5"/>
<rect x="579.4" y="853.5" width="6.2" height="6.2" fill="none" stroke="#86c25a" stroke-width="1.5"/>
<rect x="573.7" y="847.7" width="6.2" height="6.2" fill="none" stroke="#86c25a" stroke-width="1.5"/>
<rect x="568.9" y="845.8" width="6.2" height="6.2" fill="none" stroke="#86c25a" stroke-width="1.5"/>
<rect x="565" y="846.8" width="6.2" height="6.2" fill="none" stroke="#86c25a" stroke-width="1.5"/>
<rect x="562.2" y="852.2" width="6.2" height="6.2" fill="none" stroke="#86c25a" stroke-width="1.5"/>
<rect x="559.3" y="857.4" width="6.2" height="6.2" fill="none" stroke="#86c25a" stroke-width="1.5"/>
<rect x="555.4" y="859.3" width="6.2" height="6.2" fill="none" stroke="#86c25a" stroke-width="1.5"/>
<rect x="552.2" y="855.4" width="6.2" height="6.2" fill="none" stroke="#86c25a" stroke-width="1.5"/>
<rect x="547.7" y="845.8" width="6.2" height="6.2" fill="none" stroke="#86c25a" stroke-width="1.5"/>
<rect x="544.9" y="842.9" width="6.2" height="6.2" fill="none" stroke="#86c25a" stroke-width="1.5"/>
<rect x="542" y="844.5" width="6.2" height="6.2" fill="none" stroke="#86c25a" stroke-width="1.5"/>
<rect x="537.6" y="854.1" width="6.2" height="6.2" fill="none" stroke="#86c25a" stroke-width="1.5"/>
<rect x="534.3" y="863.7" width="6.2" height="6.2" fill="none" stroke="#86c25a" stroke-width="1.5"/>
<rect x="531" y="861.2" width="6.2" height="6.2" fill="none" stroke="#86c25a" stroke-width="1.5"/>
<rect x="526.6" y="836.8" width="6.2" height="6.2" fill="none" stroke="#86c25a" stroke-width="1.5"/>
<rect x="524.1" y="803.2" width="6.2" height="6.2" fill="none" stroke="#86c25a" stroke-width="1.5"/>
<rect x="520.8" y="759.9" width="6.2" height="6.2" fill="none" stroke="#86c25a" stroke-width="1.5"/>
<rect x="406.4" y="850.4" width="6.2" height="6.2" fill="none" stroke="#86c25a" stroke-width="1.5"/>
<rect x="626.4" y="849.1" width="6.2" height="6.2" fill="none" stroke="#86c25a" stroke-width="1.5"/>
<rect x="408.4" y="849.3" width="6.2" height="6.2" fill="none" stroke="#86c25a" stroke-width="1.5"/>
<rect x="624.4" y="848.4" width="6.2" height="6.2" fill="none" stroke="#86c25a" stroke-width="1.5"/>
<rect x="410.4" y="849.8" width="6.2" height="6.2" fill="none" stroke="#86c25a" stroke-width="1.5"/>
<rect x="622.4" y="848.5" width="6.2" height="6.2" fill="none" stroke="#86c25a" stroke-width="1.5"/>
<rect x="412.3" y="849.3" width="6.2" height="6.2" fill="none" stroke="#86c25a" stroke-width="1.5"/>
<rect x="620.5" y="848.4" width="6.2" height="6.2" fill="none" stroke="#86c25a" stroke-width="1.5"/>
<rect x="414.3" y="848.4" width="6.2" height="6.2" fill="none" stroke="#86c25a" stroke-width="1.5"/>
<rect x="618.5" y="848.1" width="6.2" height="6.2" fill="none" stroke="#86c25a" stroke-width="1.5"/>
<rect x="416.3" y="847.6" width="6.2" height="6.2" fill="none" stroke="#86c25a" stroke-width="1.5"/>
<rect x="616.5" y="847.8" width="6.2" height="6.2" fill="none" stroke="#86c25a" stroke-width="1.5"/>
<rect x="418.3" y="847.6" width="6.2" height="6.2" fill="none" stroke="#86c25a" stroke-width="1.5"/>
<rect x="614.5" y="847.5" width="6.2" height="6.2" fill="none" stroke="#86c25a" stroke-width="1.5"/>
<rect x="420.3" y="847.3" width="6.2" height="6.2" fill="none" stroke="#86c25a" stroke-width="1.5"/>
<rect x="612.5" y="848.8" width="6.2" height="6.2" fill="none" stroke="#86c25a" stroke-width="1.5"/>
<rect x="422.2" y="849" width="6.2" height="6.2" fill="none" stroke="#86c25a" stroke-width="1.5"/>
<rect x="610.6" y="847.8" width="6.2" height="6.2" fill="none" stroke="#86c25a" stroke-width="1.5"/>
<rect x="424.2" y="849" width="6.2" height="6.2" fill="none" stroke="#86c25a" stroke-width="1.5"/>
<rect x="608.6" y="848.3" width="6.2" height="6.2" fill="none" stroke="#86c25a" stroke-width="1.5"/>
<rect x="426.2" y="848.5" width="6.2" height="6.2" fill="none" stroke="#86c25a" stroke-width="1.5"/>
<rect x="606.6" y="849.3" width="6.2" height="6.2" fill="none" stroke="#86c25a" stroke-width="1.5"/>
<rect x="428.2" y="848.9" width="6.2" height="6.2" fill="none" stroke="#86c25a" stroke-width="1.5"/>
<rect x="604.6" y="849.3" width="6.2" height="6.2" fill="none" stroke="#86c25a" stroke-width="1.5"/>
<rect x="430.2" y="849.4" width="6.2" height="6.2" fill="none" stroke="#86c25a" stroke-width="1.5"/>
<rect x="602.6" y="848.1" width="6.2" height="6.2" fill="none" stroke="#86c25a" stroke-width="1.5"/>
<rect x="432.1" y="850.2" width="6.2" height="6.2" fill="none" stroke="#86c25a" stroke-width="1.5"/>
<rect x="600.7" y="848.6" width="6.2" height="6.2" fill="none" stroke="#86c25a" stroke-width="1.5"/>
<rect x="434.1" y="849.4" width="6.2" height="6.2" fill="none" stroke="#86c25a" stroke-width="1.5"/>
<rect x="598.7" y="849.4" width="6.2" height="6.2" fill="none" stroke="#86c25a" stroke-width="1.5"/>
<rect x="436.1" y="850.2" width="6.2" height="6.2" fill="none" stroke="#86c25a" stroke-width="1.5"/>
<rect x="596.7" y="849.9" width="6.2" height="6.2" fill="none" stroke="#86c25a" stroke-width="1.5"/>
<rect x="438.1" y="850.8" width="6.2" height="6.2" fill="none" stroke="#86c25a" stroke-width="1.5"/>
<rect x="594.7" y="849.5" width="6.2" height="6.2" fill="none" stroke="#86c25a" stroke-width="1.5"/>
<rect x="440.1" y="850.2" width="6.2" height="6.2" fill="none" stroke="#86c25a" stroke-width="1.5"/>
<rect x="592.7" y="849.9" width="6.2" height="6.2" fill="none" stroke="#86c25a" stroke-width="1.5"/>
<rect x="442" y="851.2" width="6.2" height="6.2" fill="none" stroke="#86c25a" stroke-width="1.5"/>
<rect x="590.8" y="851.4" width="6.2" height="6.2" fill="none" stroke="#86c25a" stroke-width="1.5"/>
<rect x="444" y="851" width="6.2" height="6.2" fill="none" stroke="#86c25a" stroke-width="1.5"/>
<rect x="588.8" y="850.3" width="6.2" height="6.2" fill="none" stroke="#86c25a" stroke-width="1.5"/>
<rect x="446" y="852" width="6.2" height="6.2" fill="none" stroke="#86c25a" stroke-width="1.5"/>
<rect x="586.8" y="851.4" width="6.2" height="6.2" fill="none" stroke="#86c25a" stroke-width="1.5"/>
<rect x="448" y="850.9" width="6.2" height="6.2" fill="none" stroke="#86c25a" stroke-width="1.5"/>
<rect x="584.8" y="851.9" width="6.2" height="6.2" fill="none" stroke="#86c25a" stroke-width="1.5"/>
<rect x="450" y="851.6" width="6.2" height="6.2" fill="none" stroke="#86c25a" stroke-width="1.5"/>
<rect x="582.8" y="850.7" width="6.2" height="6.2" fill="none" stroke="#86c25a" stroke-width="1.5"/>
<rect x="451.9" y="850.3" width="6.2" height="6.2" fill="none" stroke="#86c25a" stroke-width="1.5"/>
<rect x="580.9" y="851.5" width="6.2" height="6.2" fill="none" stroke="#86c25a" stroke-width="1.5"/>
<rect x="409.4" y="711.9" width="220" height="163" fill="none" stroke="#2a2a2a" stroke-width="1.3"/>
<line x1="431.5" y1="874.9" x2="431.5" y2="870.4" stroke="#2a2a2a" stroke-width="1.2" />
<text x="431.5" y="894.7" font-size="16" text-anchor="middle" fill="#000" stroke="#000" stroke-width="0.2" >-4</text>
<line x1="453.5" y1="874.9" x2="453.5" y2="872.4" stroke="#2a2a2a" stroke-width="1.2" />
<line x1="475.5" y1="874.9" x2="475.5" y2="870.4" stroke="#2a2a2a" stroke-width="1.2" />
<text x="475.5" y="894.7" font-size="16" text-anchor="middle" fill="#000" stroke="#000" stroke-width="0.2" >-2</text>
<line x1="497.5" y1="874.9" x2="497.5" y2="872.4" stroke="#2a2a2a" stroke-width="1.2" />
<line x1="519.5" y1="874.9" x2="519.5" y2="870.4" stroke="#2a2a2a" stroke-width="1.2" />
<text x="519.5" y="894.7" font-size="16" text-anchor="middle" fill="#000" stroke="#000" stroke-width="0.2" >0</text>
<line x1="541.5" y1="874.9" x2="541.5" y2="872.4" stroke="#2a2a2a" stroke-width="1.2" />
<line x1="563.5" y1="874.9" x2="563.5" y2="870.4" stroke="#2a2a2a" stroke-width="1.2" />
<text x="563.5" y="894.7" font-size="16" text-anchor="middle" fill="#000" stroke="#000" stroke-width="0.2" >2</text>
<line x1="585.5" y1="874.9" x2="585.5" y2="872.4" stroke="#2a2a2a" stroke-width="1.2" />
<line x1="607.5" y1="874.9" x2="607.5" y2="870.4" stroke="#2a2a2a" stroke-width="1.2" />
<text x="607.5" y="894.7" font-size="16" text-anchor="middle" fill="#000" stroke="#000" stroke-width="0.2" >4</text>
<line x1="409.4" y1="735.2" x2="411.9" y2="735.2" stroke="#2a2a2a" stroke-width="1.2" />
<line x1="409.4" y1="758.6" x2="413.9" y2="758.6" stroke="#2a2a2a" stroke-width="1.2" />
<line x1="409.4" y1="782" x2="411.9" y2="782" stroke="#2a2a2a" stroke-width="1.2" />
<line x1="409.4" y1="805.3" x2="413.9" y2="805.3" stroke="#2a2a2a" stroke-width="1.2" />
<line x1="409.4" y1="828.4" x2="411.9" y2="828.4" stroke="#2a2a2a" stroke-width="1.2" />
<line x1="409.4" y1="851.7" x2="413.9" y2="851.7" stroke="#2a2a2a" stroke-width="1.2" />
<text x="520.4" y="913.7" font-size="16" text-anchor="middle" fill="#000" stroke="#000" stroke-width="0.2" >Time delay (ns)</text>
<text x="541" y="778.8" font-size="15.5" text-anchor="start" fill="#000" stroke="#000" stroke-width="0.2" >0.6 ns</text>
<line x1="479" y1="785.9" x2="508" y2="785.9" stroke="#302020" stroke-width="1.3" />
<polygon points="513.2,785.9 505.5,782.3 507.5,785.9 505.5,789.5" fill="#302020"/>
<line x1="531" y1="785.9" x2="559.9" y2="785.9" stroke="#302020" stroke-width="1.3" />
<polygon points="525.3,785.9 533,782.3 531,785.9 533,789.5" fill="#302020"/>
<rect x="755.5" y="657" width="461.5" height="460.5" fill="#fff" />
<rect x="756.9" y="657.8" width="55.3" height="55.3" fill="#229dc6" />
<rect x="814.5" y="657.8" width="55.3" height="55.3" fill="#1299d8" />
<rect x="872.2" y="657.8" width="55.3" height="55.3" fill="#23a0c3" />
<rect x="929.8" y="657.8" width="55.3" height="55.3" fill="#1199d8" />
<rect x="987.5" y="657.8" width="55.3" height="55.3" fill="#27a1bb" />
<rect x="1045.2" y="657.8" width="55.3" height="55.3" fill="#28a1b8" />
<rect x="1102.8" y="657.8" width="55.3" height="55.3" fill="#34a6ac" />
<rect x="1160.5" y="657.8" width="55.3" height="55.3" fill="#fe7f0c" />
<rect x="756.9" y="715.4" width="55.3" height="55.3" fill="#25a0bc" />
<rect x="814.5" y="715.4" width="55.3" height="55.3" fill="#179bd2" />
<rect x="872.2" y="715.4" width="55.3" height="55.3" fill="#2fa3b0" />
<rect x="929.8" y="715.4" width="55.3" height="55.3" fill="#1299d8" />
<rect x="987.5" y="715.4" width="55.3" height="55.3" fill="#26a0bd" />
<rect x="1045.2" y="715.4" width="55.3" height="55.3" fill="#2aa2b5" />
<rect x="1102.8" y="715.4" width="55.3" height="55.3" fill="#fe7f0c" />
<rect x="1160.5" y="715.4" width="55.3" height="55.3" fill="#34a6ac" />
<rect x="756.9" y="773.1" width="55.3" height="55.3" fill="#25a0bd" />
<rect x="814.5" y="773.1" width="55.3" height="55.3" fill="#0896e6" />
<rect x="872.2" y="773.1" width="55.3" height="55.3" fill="#25a0c0" />
<rect x="929.8" y="773.1" width="55.3" height="55.3" fill="#0896e6" />
<rect x="987.5" y="773.1" width="55.3" height="55.3" fill="#189bd0" />
<rect x="1045.2" y="773.1" width="55.3" height="55.3" fill="#fe7f0c" />
<rect x="1102.8" y="773.1" width="55.3" height="55.3" fill="#29a2b8" />
<rect x="1160.5" y="773.1" width="55.3" height="55.3" fill="#29a2b8" />
<rect x="756.9" y="830.8" width="55.3" height="55.3" fill="#199bd0" />
<rect x="814.5" y="830.8" width="55.3" height="55.3" fill="#219fc4" />
<rect x="872.2" y="830.8" width="55.3" height="55.3" fill="#1b9dcc" />
<rect x="929.8" y="830.8" width="55.3" height="55.3" fill="#1e9ec8" />
<rect x="987.5" y="830.8" width="55.3" height="55.3" fill="#fe7f0c" />
<rect x="1045.2" y="830.8" width="55.3" height="55.3" fill="#189dd0" />
<rect x="1102.8" y="830.8" width="55.3" height="55.3" fill="#27a1bb" />
<rect x="1160.5" y="830.8" width="55.3" height="55.3" fill="#27a2ba" />
<rect x="756.9" y="888.4" width="55.3" height="55.3" fill="#0a96e4" />
<rect x="814.5" y="888.4" width="55.3" height="55.3" fill="#229fc4" />
<rect x="872.2" y="888.4" width="55.3" height="55.3" fill="#0a96e4" />
<rect x="929.8" y="888.4" width="55.3" height="55.3" fill="#fe7f0c" />
<rect x="987.5" y="888.4" width="55.3" height="55.3" fill="#1d9dca" />
<rect x="1045.2" y="888.4" width="55.3" height="55.3" fill="#0896e6" />
<rect x="1102.8" y="888.4" width="55.3" height="55.3" fill="#0f98de" />
<rect x="1160.5" y="888.4" width="55.3" height="55.3" fill="#1199d8" />
<rect x="756.9" y="946" width="55.3" height="55.3" fill="#229fc4" />
<rect x="814.5" y="946" width="55.3" height="55.3" fill="#0a96e4" />
<rect x="872.2" y="946" width="55.3" height="55.3" fill="#fe7f0c" />
<rect x="929.8" y="946" width="55.3" height="55.3" fill="#0a96e4" />
<rect x="987.5" y="946" width="55.3" height="55.3" fill="#1a9cd0" />
<rect x="1045.2" y="946" width="55.3" height="55.3" fill="#25a0bc" />
<rect x="1102.8" y="946" width="55.3" height="55.3" fill="#2fa4b2" />
<rect x="1160.5" y="946" width="55.3" height="55.3" fill="#23a0c4" />
<rect x="756.9" y="1003.7" width="55.3" height="55.3" fill="#0896e6" />
<rect x="814.5" y="1003.7" width="55.3" height="55.3" fill="#fe7f0c" />
<rect x="872.2" y="1003.7" width="55.3" height="55.3" fill="#0a96e4" />
<rect x="929.8" y="1003.7" width="55.3" height="55.3" fill="#23a0c2" />
<rect x="987.5" y="1003.7" width="55.3" height="55.3" fill="#1f9ec8" />
<rect x="1045.2" y="1003.7" width="55.3" height="55.3" fill="#0896e6" />
<rect x="1102.8" y="1003.7" width="55.3" height="55.3" fill="#189bd2" />
<rect x="1160.5" y="1003.7" width="55.3" height="55.3" fill="#1199d8" />
<rect x="756.9" y="1061.3" width="55.3" height="55.3" fill="#fe7f0c" />
<rect x="814.5" y="1061.3" width="55.3" height="55.3" fill="#0896e6" />
<rect x="872.2" y="1061.3" width="55.3" height="55.3" fill="#199bd0" />
<rect x="929.8" y="1061.3" width="55.3" height="55.3" fill="#0896e6" />
<rect x="987.5" y="1061.3" width="55.3" height="55.3" fill="#159ad4" />
<rect x="1045.2" y="1061.3" width="55.3" height="55.3" fill="#24a0c0" />
<rect x="1102.8" y="1061.3" width="55.3" height="55.3" fill="#23a0c2" />
<rect x="1160.5" y="1061.3" width="55.3" height="55.3" fill="#1e9ec8" />
<line x1="754.7" y1="656.8" x2="754.7" y2="714.4" stroke="#6cc0ee" stroke-width="1" opacity="0.7"/>
<line x1="754.7" y1="714.4" x2="754.7" y2="772.1" stroke="#6cc0ee" stroke-width="1" opacity="0.7"/>
<line x1="754.7" y1="772.1" x2="754.7" y2="829.7" stroke="#6cc0ee" stroke-width="1" opacity="0.7"/>
<line x1="754.7" y1="829.8" x2="754.7" y2="887.4" stroke="#6cc0ee" stroke-width="1" opacity="0.7"/>
<line x1="754.7" y1="887.4" x2="754.7" y2="945" stroke="#6cc0ee" stroke-width="1" opacity="0.7"/>
<line x1="754.7" y1="945" x2="754.7" y2="1002.7" stroke="#6cc0ee" stroke-width="1" opacity="0.7"/>
<line x1="754.7" y1="1002.7" x2="754.7" y2="1060.3" stroke="#6cc0ee" stroke-width="1" opacity="0.7"/>
<line x1="754.7" y1="1060.3" x2="754.7" y2="1118" stroke="#fe7f0c" stroke-width="1" opacity="0.7"/>
<line x1="784.6" y1="1119.5" x2="784.6" y2="1128" stroke="#2a2a2a" stroke-width="1.7" />
<text transform="translate(784.6,1158.2) scale(0.9434,1)" font-size="30.2" text-anchor="middle" fill="#000" stroke="#000" stroke-width="0.3" >1</text>
<line x1="746.2" y1="1089" x2="754.5" y2="1089" stroke="#2a2a2a" stroke-width="1.7" />
<text transform="translate(740.5,1097) scale(0.9434,1)" font-size="30.2" text-anchor="end" fill="#000" stroke="#000" stroke-width="0.3" >1</text>
<line x1="842.2" y1="1119.5" x2="842.2" y2="1128" stroke="#2a2a2a" stroke-width="1.7" />
<text transform="translate(842.2,1158.2) scale(0.9434,1)" font-size="30.2" text-anchor="middle" fill="#000" stroke="#000" stroke-width="0.3" >2</text>
<line x1="746.2" y1="1031.4" x2="754.5" y2="1031.4" stroke="#2a2a2a" stroke-width="1.7" />
<text transform="translate(740.5,1039.4) scale(0.9434,1)" font-size="30.2" text-anchor="end" fill="#000" stroke="#000" stroke-width="0.3" >2</text>
<line x1="899.9" y1="1119.5" x2="899.9" y2="1128" stroke="#2a2a2a" stroke-width="1.7" />
<text transform="translate(899.9,1158.2) scale(0.9434,1)" font-size="30.2" text-anchor="middle" fill="#000" stroke="#000" stroke-width="0.3" >3</text>
<line x1="746.2" y1="973.7" x2="754.5" y2="973.7" stroke="#2a2a2a" stroke-width="1.7" />
<text transform="translate(740.5,981.7) scale(0.9434,1)" font-size="30.2" text-anchor="end" fill="#000" stroke="#000" stroke-width="0.3" >3</text>
<line x1="957.5" y1="1119.5" x2="957.5" y2="1128" stroke="#2a2a2a" stroke-width="1.7" />
<text transform="translate(957.5,1158.2) scale(0.9434,1)" font-size="30.2" text-anchor="middle" fill="#000" stroke="#000" stroke-width="0.3" >4</text>
<line x1="746.2" y1="916.1" x2="754.5" y2="916.1" stroke="#2a2a2a" stroke-width="1.7" />
<text transform="translate(740.5,924.1) scale(0.9434,1)" font-size="30.2" text-anchor="end" fill="#000" stroke="#000" stroke-width="0.3" >4</text>
<line x1="1015.2" y1="1119.5" x2="1015.2" y2="1128" stroke="#2a2a2a" stroke-width="1.7" />
<text transform="translate(1015.2,1158.2) scale(0.9434,1)" font-size="30.2" text-anchor="middle" fill="#000" stroke="#000" stroke-width="0.3" >5</text>
<line x1="746.2" y1="858.4" x2="754.5" y2="858.4" stroke="#2a2a2a" stroke-width="1.7" />
<text transform="translate(740.5,866.4) scale(0.9434,1)" font-size="30.2" text-anchor="end" fill="#000" stroke="#000" stroke-width="0.3" >5</text>
<line x1="1072.8" y1="1119.5" x2="1072.8" y2="1128" stroke="#2a2a2a" stroke-width="1.7" />
<text transform="translate(1072.8,1158.2) scale(0.9434,1)" font-size="30.2" text-anchor="middle" fill="#000" stroke="#000" stroke-width="0.3" >6</text>
<line x1="746.2" y1="800.8" x2="754.5" y2="800.8" stroke="#2a2a2a" stroke-width="1.7" />
<text transform="translate(740.5,808.8) scale(0.9434,1)" font-size="30.2" text-anchor="end" fill="#000" stroke="#000" stroke-width="0.3" >6</text>
<line x1="1130.5" y1="1119.5" x2="1130.5" y2="1128" stroke="#2a2a2a" stroke-width="1.7" />
<text transform="translate(1130.5,1158.2) scale(0.9434,1)" font-size="30.2" text-anchor="middle" fill="#000" stroke="#000" stroke-width="0.3" >7</text>
<line x1="746.2" y1="743.1" x2="754.5" y2="743.1" stroke="#2a2a2a" stroke-width="1.7" />
<text transform="translate(740.5,751.1) scale(0.9434,1)" font-size="30.2" text-anchor="end" fill="#000" stroke="#000" stroke-width="0.3" >7</text>
<line x1="1188.1" y1="1119.5" x2="1188.1" y2="1128" stroke="#2a2a2a" stroke-width="1.7" />
<text transform="translate(1188.1,1158.2) scale(0.9434,1)" font-size="30.2" text-anchor="middle" fill="#000" stroke="#000" stroke-width="0.3" >8</text>
<line x1="746.2" y1="685.5" x2="754.5" y2="685.5" stroke="#2a2a2a" stroke-width="1.7" />
<text transform="translate(740.5,693.5) scale(0.9434,1)" font-size="30.2" text-anchor="end" fill="#000" stroke="#000" stroke-width="0.3" >8</text>
<text transform="translate(1004.1,1191.2) scale(0.9434,1)" font-size="30.2" text-anchor="middle" fill="#000" stroke="#000" stroke-width="0.3" >Channel#</text>
<text transform="translate(715.5,883.9) rotate(-90) scale(0.9434,1)" font-size="30.2" text-anchor="middle" fill="#000" stroke="#000" stroke-width="0.3">Channel#</text>
<defs><linearGradient id="cb" x1="0" y1="1" x2="0" y2="0">
<stop offset="0" stop-color="#0896e8"/><stop offset="0.2" stop-color="#34a29c"/>
<stop offset="0.4" stop-color="#62b25e"/><stop offset="0.5" stop-color="#7cbc48"/>
<stop offset="0.6" stop-color="#a8a232"/><stop offset="0.8" stop-color="#cc9024"/>
<stop offset="1" stop-color="#fe7f0c"/></linearGradient></defs>
<rect x="1228.2" y="656.3" width="22.7" height="461.5" fill="url(#cb)" />
<line x1="1245.6" y1="1116.2" x2="1253" y2="1116.2" stroke="#2a2a2a" stroke-width="1.7" />
<text transform="translate(1259,1126.5) scale(0.9434,1)" font-size="30.2" text-anchor="start" fill="#000" stroke="#000" stroke-width="0.3" >0.0</text>
<line x1="1245.6" y1="1024.3" x2="1253" y2="1024.3" stroke="#2a2a2a" stroke-width="1.7" />
<text transform="translate(1259,1034.6) scale(0.9434,1)" font-size="30.2" text-anchor="start" fill="#000" stroke="#000" stroke-width="0.3" >0.2</text>
<line x1="1245.6" y1="932.4" x2="1253" y2="932.4" stroke="#2a2a2a" stroke-width="1.7" />
<text transform="translate(1259,942.7) scale(0.9434,1)" font-size="30.2" text-anchor="start" fill="#000" stroke="#000" stroke-width="0.3" >0.4</text>
<line x1="1245.6" y1="840.5" x2="1253" y2="840.5" stroke="#2a2a2a" stroke-width="1.7" />
<text transform="translate(1259,850.8) scale(0.9434,1)" font-size="30.2" text-anchor="start" fill="#000" stroke="#000" stroke-width="0.3" >0.6</text>
<line x1="1245.6" y1="748.6" x2="1253" y2="748.6" stroke="#2a2a2a" stroke-width="1.7" />
<text transform="translate(1259,758.9) scale(0.9434,1)" font-size="30.2" text-anchor="start" fill="#000" stroke="#000" stroke-width="0.3" >0.8</text>
<line x1="1245.6" y1="656.7" x2="1253" y2="656.7" stroke="#2a2a2a" stroke-width="1.7" />
<text transform="translate(1259,667) scale(0.9434,1)" font-size="30.2" text-anchor="start" fill="#000" stroke="#000" stroke-width="0.3" >1.0</text>
<text transform="translate(1328.2,887.8) rotate(-90) scale(0.9434,1)" font-size="30.7" text-anchor="middle" fill="#000" stroke="#000" stroke-width="0.3">Correlation (a.u.)</text>
<polyline points="1450.5,935.1 1451.1,934.4 1451.7,936.4 1452.3,934.1 1452.9,935.9 1453.5,935.3 1454.1,934 1454.7,935.8 1455.3,933.9 1455.9,935.5 1456.5,934.1 1457.1,933.8 1457.7,934.1 1458.3,936.1 1458.9,938.7 1459.5,943.5 1459.8,942 1460.1,895.7 1460.4,946.5 1461.3,931.6 1461.9,933.6 1462.5,937.2 1463.1,935.5 1463.7,934.1 1464.3,934 1464.9,934.6 1465.5,936.5 1466.1,935.5 1466.7,935.1 1467.3,936.1 1467.9,935.6 1468.5,935 1469.1,937 1469.7,936.6 1470.3,934.8 1470.9,936.1 1471.5,935.9 1472.1,937.3 1472.7,936.7 1473.3,937.2 1473.9,933.6 1474.5,933.1 1475.1,929.5 1475.7,940.9 1476,944.7 1476.4,890.1 1476.7,947 1477.5,937.3 1478.1,939.5 1478.7,937.4 1479.3,934.1 1479.9,936.6 1480.5,936.4 1481.1,937.8 1481.7,937.1 1482.3,934.9 1482.9,935.3 1483.5,936.5 1484.1,933.9 1484.7,935.6 1485.3,934.5 1485.9,934.3 1486.5,934 1487.1,936.9 1487.7,934.3 1488.3,934.8 1488.9,935.4 1489.5,935.5 1490.1,936 1490.7,940.6 1491.3,934.3 1491.9,933.2 1492.3,940.2 1492.6,891.3 1493,946.9 1493.7,930.8 1494.3,936.8 1494.9,930.5 1495.5,934.7 1496.1,936.1 1496.7,937.6 1497.3,936.6 1497.9,935.9 1498.5,936.3 1499.1,936.5 1499.7,934 1500.3,937.4 1500.9,936.9 1501.5,937.3 1502.1,937 1502.7,935.4 1503.3,935.4 1503.9,934.2 1504.5,936.3 1505.1,934 1505.7,934.1 1506.3,932.3 1506.9,930.7 1507.5,929.3 1508.1,932 1508.6,945.3 1508.9,892.1 1509.3,947.4 1509.9,932.5 1510.5,930.7 1511.1,941.7 1511.7,935.6 1512.3,934.1 1512.9,934.2 1513.5,935.2 1514.1,934.9 1514.7,937.1 1515.3,934.4 1515.9,933.9 1516.5,937.6 1517.1,935.9 1517.7,934.4 1518.3,936 1518.9,933.9 1519.5,935.9 1520.1,937.7 1520.7,937.3 1521.3,936.6 1521.9,934.8 1522.5,933.1 1523.1,937.2 1523.7,934.8 1524.3,939.6 1524.8,940.4 1525.2,897.3 1525.5,942.2 1526.1,932.6 1526.7,934.1 1527.3,929.5 1527.9,933.4 1528.5,936.6 1529.1,937.6 1529.7,935.6 1530.3,937.5 1530.9,937.8 1531.5,937.6 1532.1,935.3 1532.7,934.7 1533.3,934.7 1533.9,934.6 1534.5,934.6 1535.1,936.3 1535.7,937.4 1536.3,937.2 1536.9,935.7 1537.5,936.4 1538.1,937 1538.7,935.1 1539.3,940.1 1539.9,936.5 1540.5,938.9 1541.1,940.5 1541.4,889.5 1541.8,941 1542.3,942.4 1542.9,932.5 1543.5,930.9 1544.1,939.5 1544.7,934.4 1545.3,937.1 1545.9,937.7 1546.5,936.4 1547.1,935.2 1547.7,936 1548.3,934.3 1548.9,933.9 1549.5,937.7 1550.1,936.4 1550.7,935.9 1551.3,937.5 1551.9,935.5 1552.5,937.3 1553.1,937.1 1553.7,934.6 1554.3,934.8 1554.9,933.4 1555.5,934 1556.1,931.1 1556.7,935.3 1557.4,944.9 1557.7,888.5 1558.1,946.5 1558.5,937.5 1559.1,936.2 1559.7,933.3 1560.3,931 1560.9,935.7 1561.5,935.7 1562.1,936.7 1562.7,936 1563.3,935.1 1563.9,935.9 1564.5,936 1565.1,936.9 1565.7,934.2 1566.3,936 1566.9,934.8 1567.5,934.9 1568.1,936.9 1568.7,935.8 1569.3,936 1569.9,936.8 1570.5,937.4 1571.1,936.2 1571.7,935.9 1572.3,936 1572.9,935.6 1573.6,943.6 1574,897.1 1574.3,946.6 1574.7,935.8 1575.3,942.1 1575.9,930.4 1576.5,932.4 1577.1,932.9 1577.7,936.5 1578.3,936.9 1578.9,937.4 1579.5,934.4 1580.1,936.7 1580.7,936.4 1581.3,934.4 1581.9,937.3 1582.5,937.7 1583.1,934.7 1583.7,937.6 1584.3,935.4 1584.9,935.7 1585.5,937.8 1586.1,937.1 1586.7,934.4 1587.3,935.6 1587.9,932.7 1588.5,937.6 1589.1,934.6 1589.9,943.6 1590.3,887.1 1590.6,942.8 1590.9,928.5 1591.5,941.7 1592.1,933.4 1592.7,931.3 1593.3,935.8 1593.9,934.3 1594.5,935.5 1595.1,937.4 1595.7,937.1 1596.3,934.8 1596.9,934.4 1597.5,937.5 1598.1,936.1 1598.7,936.6 1599.3,934.2 1599.9,934 1600.5,936.6 1601.1,935.5 1601.7,934.1 1602.3,937.6 1602.9,936.3 1603.5,935 1604.1,933.8 1604.7,936.7 1605.3,935.9 1605.9,933.6 1606.2,940.4 1606.5,890.1 1606.9,941.5 1607.7,928.1 1608.3,932.5 1608.9,937.1 1609.5,935 1610.1,934.5 1610.7,935.2 1611.3,933.9 1611.9,934.8 1612.5,933.9 1613.1,936.7 1613.7,936 1614.3,934.6 1614.9,935.7 1615.5,937.5 1616.1,934.2 1616.7,937.1 1617.3,935.5 1617.9,935.8 1618.5,937.1 1619.1,935.4 1619.7,936.7 1620.3,936.6 1620.9,939.3 1621.5,935.1 1622.1,927.8 1622.5,944.3 1622.8,893.1 1623.1,942.2 1623.9,928.4 1624.5,941.4 1625.1,934.6 1625.7,933.6 1626.3,935.6 1626.9,934.4 1627.5,935.6 1628.1,934.9 1628.7,937.6 1629.3,937.7 1629.9,936 1630.5,934.8 1631.1,937.7 1631.7,935 1632.3,935.2 1632.9,933.8 1633.5,935.3 1634.1,935.7 1634.7,935.8 1635.3,934.6 1635.9,933.8 1636.5,931.9 1637.1,930.7 1637.7,931.3 1638.3,936.1 1638.7,941.7 1639.1,892.1 1639.4,943.8 1640.1,935.7 1640.7,940.8 1641.3,936.4 1641.9,933.7 1642.5,937.1 1643.1,937.4 1643.7,936.3 1644.3,936.7 1644.9,937 1645.5,934.4 1646.1,935.9 1646.7,935.8 1647.3,937.1 1647.9,937 1648.5,937.1 1649.1,936.1 1649.7,937.4 1650.3,936.5 1650.9,936.6 1651.5,934.7 1652.1,933.9 1652.7,933.4 1653.3,937.5 1653.9,937.7 1654.5,939.2 1655,939.9 1655.3,883.5 1655.7,942.6 1656.3,936.3 1656.9,931.1 1657.5,934.5 1658.1,932.6 1658.7,936.7 1659.3,934.6 1659.9,936.8 1660.5,937.7 1661.1,935.8 1661.7,935.3 1662.3,935.7 1662.9,936.5 1663.5,936.9 1664.1,936.3 1664.7,936.4 1665.3,934.1 1665.9,934.4 1666.5,934.8 1667.1,936.8 1667.7,935 1668.3,936.1 1668.9,931 1669.5,936.5 1670.1,938.8 1670.7,935.2 1671.3,941.5 1671.6,883.7 1672,945.8 1672.5,942 1673.1,931.5 1673.7,938.7 1674.3,937.3 1674.9,934.9 1675.5,934.6 1676.1,937.6 1676.7,934.6 1677.3,936.1 1677.9,934.4 1678.5,935.9 1679.1,937.6 1679.7,934.3 1680.3,937.1 1680.9,935.8 1681.5,937.3 1682.1,936.6 1682.7,934.7 1683.3,937.4 1683.9,935.7 1684.5,933.9 1685.1,933.8 1685.7,933.8 1686.3,932.5 1686.9,940.2 1687.5,942 1687.9,894.1 1688.2,943 1688.7,940.9 1689.3,934.7 1689.9,934.2 1690.5,938.4 1691.1,935.2 1691.7,935.5 1692.3,934.9 1692.9,934 1693.5,934.2 1694.1,937.1 1694.7,934.9 1695.3,937.5 1695.9,934.8 1696.5,934.9 1697.1,935.8 1697.7,934.6 1698.3,935.3 1698.9,937.6 1699.5,937.3 1700.1,937 1700.7,936.3 1701.3,940 1701.9,937.9 1702.5,936.7 1703.1,939.3 1703.8,945.6 1704.1,893 1704.5,944.3 1704.9,933.9 1705.5,932.5 1706.1,941.6 1706.7,936 1707.3,935.2 1707.9,935.4 1708.5,934.5 1709.1,934.4 1709.7,934.6 1710.3,937.4 1710.9,935.8 1711.5,934.7 1712.1,937.4 1712.7,937.8 1713.3,935.6 1713.9,934.4 1714.5,934.6 1715.1,934.2 1715.7,935.2 1716.3,934.2 1716.9,934.8 1717.5,935.2 1718.1,939.4 1718.7,934.5 1719.3,934.1 1720.1,944.9 1720.4,885.3 1720.8,945.1 1721.1,934.4 1721.7,941.3 1722.3,932.2 1722.9,934 1723.5,937.7 1724.1,937.2 1724.7,937.3 1725.3,933.9 1725.9,933.9 1726.5,936.6 1727.1,937.4 1727.7,935.7 1728.3,936.1 1728.9,933.8 1729.5,935.4 1730.1,937.5 1730.7,937.1 1731.3,937.2 1731.9,937.7 1732.5,934.8 1733.1,934.2 1733.7,934.5 1734.3,940.1 1734.9,938.3 1735.5,936.3 1736.3,940 1736.7,882.4 1737,943.7 1737.3,939.9 1737.9,929.8 1738.5,936.3 1739.1,933.5 1739.7,934.2 1740.3,936.1 1740.9,935.4 1741.5,934.7 1742.1,936.2 1742.7,933.8 1743.3,935 1743.9,935.6 1744.5,937.6 1745.1,936.4 1745.7,937.3 1746.3,935.7 1746.9,934.7 1747.5,934.8 1748.1,937.6 1748.7,936.6 1749.3,935 1749.9,933.9 1750.5,935.9 1751.1,936.6 1751.7,933.8 1752.3,931.2 1752.6,942.4 1753,883.9 1753.3,946.2 1754.1,936.8 1754.7,939.9 1755.3,937.7 1755.9,933.2 1756.5,936.8 1757.1,935 1757.7,937.6 1758.3,935.8 1758.9,934.5 1759.5,934.7 1760.1,935.5 1760.7,936.5 1761.3,937.6 1761.9,934.4 1762.5,935.4 1763.1,934.7 1763.7,937.7 1764.3,934.4 1764.9,934 1765.5,934 1766.1,937.1 1766.7,939 1767.3,942.3 1767.9,930.9 1768.5,941.6 1768.9,941.9 1769.2,889 1769.6,945.7 1770.3,930.3 1770.9,931.2 1771.5,939.1 1772.1,936.9 1772.7,934.6 1773.3,935.2 1773.9,937.1 1774.5,937.1 1775.1,935.5 1775.7,934 1776.3,935.7 1776.9,935.3 1777.5,937.5 1778.1,934.6 1778.7,935.3 1779.3,937.4 1779.9,933.9 1780.5,935.4 1781.1,937 1781.7,936.9 1782.3,934 1782.9,930.9 1783.5,935.1 1784.1,942 1784.7,931.5 1785.2,943 1785.5,886.4 1785.8,942.3 1786.5,931.7 1787.1,936.9 1787.7,938.7 1788.3,934.7 1788.9,934.7 1789.5,935.7 1790.1,937.6 1790.7,937.6 1791.3,935.3 1791.9,934.8 1792.5,935.5 1793.1,935.8 1793.7,937.5 1794.3,934.5 1794.9,937 1795.5,936.8 1796.1,937.1 1796.7,936.9 1797.3,936.2 1797.9,935.1 1798.5,935.1 1799.1,937.1 1799.7,931.2 1800.3,933.6 1800.9,926.8 1801.4,945 1801.8,884.4 1802.1,941.4 1802.7,934.1 1803.3,929.2 1803.9,937.8 1804.5,933.9 1805.1,935.5 1805.7,936.3 1806.3,936.5 1806.9,936.8 1807.5,937.2 1808.1,936.5 1808.7,934.3 1809.3,937.2 1809.9,935 1810.5,936.1 1811.1,935.3 1811.7,936.8 1812.3,934.6 1812.9,934.8 1813.5,934.8 1814.1,934.4 1814.7,937.3 1815.3,935 1815.9,940 1816.5,932.5 1817.1,939.4 1817.7,944.7 1818,892.1 1818.4,942 1818.9,943.7 1819.5,931.3 1820.1,931.3 1820.7,938.2 1821.3,937.5 1821.9,935.3 1822.5,937.3 1823.1,935.6 1823.7,934.8 1824.3,936.9 1824.9,937.6 1825.5,934.2 1826.1,936.2 1826.7,936.3 1827.3,934.7 1827.9,935.3 1828.5,934.4 1829.1,934.6 1829.7,934.8 1830.3,936.2 1830.9,936.4 1831.5,931.7 1832.1,936.7 1832.7,932.3 1833.3,939 1834,939.8 1834.3,878.8 1834.7,942.2 1835.1,938.2 1835.7,929.8 1836.3,935.7 1836.9,933.6 1837.5,936.9 1838.1,936.1 1838.7,935.2 1839.3,935.5 1839.9,937.3 1840.5,937.8 1841.1,935.3 1841.7,934.6 1842.3,936.7 1842.9,934.6 1843.5,933.8 1844.1,937.4 1844.7,935.5 1845.3,937.1 1845.9,935.4 1846.5,937.3 1847.1,935.6 1847.7,931.7 1848.3,937.2 1848.9,932.7 1849.5,934.4 1850.2,944.4 1850.6,888.1 1850.9,947.6 1851.3,931.1 1851.9,939.8 1852.5,934.5 1853.1,937.6 1853.7,937.6 1854.3,934 1854.9,937.5 1855.5,935.4 1856.1,937.4 1856.7,936.3 1857.3,937.1 1857.9,934.4 1858.5,936.9 1859.1,934.7 1859.7,935.4 1860.3,937.2 1860.9,937.1 1861.5,934.5 1862.1,934.7 1862.7,935.4 1863.3,935.9 1863.9,933.4 1864.5,936.6 1865.1,932.2 1865.7,939.7 1866.5,939.8 1866.8,895.8 1867.2,944.2 1867.5,938.1 1868.1,933.9 1868.7,935.3 1869.3,936 1869.9,933.3 1870.5,936.3 1871.1,935.8 1871.7,934.7 1872.3,936.9 1872.9,936.9 1873.5,935.6 1874.1,934.5 1874.7,935.7 1875.3,934.2 1875.9,934.3 1876.5,935.5 1877.1,934.2 1877.7,935.6 1878.3,935.8 1878.9,934 1879.5,936.3 1879.9,936 1880.6,930 1881.3,946 1881.9,925 1882.5,960 1882.9,679.9 1883.3,983.9 1883.7,955 1884.3,928 1884.9,945 1885.6,931 1886.3,937 1886.7,936.7 1887.3,937.1 1887.9,934.6 1888.5,937.7 1889.1,935.8 1889.7,937.6 1890.3,937.5 1890.9,934.5 1891.5,937 1892.1,937.5 1892.7,934.1 1893.3,935.2 1893.9,936.8 1894.5,934.4 1895.1,937.4 1895.7,934.9 1896.3,935.4 1896.9,939 1897.5,932.1 1898.1,933.4 1898.7,928.7 1899,942.7 1899.4,895.8 1899.7,946.4 1900.5,938.6 1901.1,934.6 1901.7,935.2 1902.3,937.6 1902.9,936.1 1903.5,937.3 1904.1,934.2 1904.7,937.8 1905.3,936.3 1905.9,935.4 1906.5,937 1907.1,934.9 1907.7,937.8 1908.3,936.1 1908.9,935.2 1909.5,936.9 1910.1,935.6 1910.7,934.5 1911.3,936.8 1911.9,934 1912.5,936 1913.1,939.8 1913.7,937.8 1914.3,928.5 1914.9,928.3 1915.3,940.9 1915.7,888.1 1916,944.3 1916.7,930.3 1917.3,930.8 1917.9,932.5 1918.5,933.4 1919.1,934.7 1919.7,936.1 1920.3,936.2 1920.9,934.6 1921.5,936.3 1922.1,935.7 1922.7,934.3 1923.3,937.5 1923.9,934.8 1924.5,934.4 1925.1,934.2 1925.7,936.4 1926.3,937.3 1926.9,936.9 1927.5,935.4 1928.1,934.9 1928.7,933.8 1929.3,936.8 1929.9,936.6 1930.5,941.2 1931.1,932.7 1931.6,941.9 1931.9,878.8 1932.3,946.6 1932.9,928.1 1933.5,931 1934.1,940 1934.7,932.5 1935.3,936.2 1935.9,935.8 1936.5,936.4 1937.1,937.1 1937.7,934.5 1938.3,935 1938.9,935 1939.5,934 1940.1,937.4 1940.7,936.9 1941.3,936.7 1941.9,933.8 1942.5,937.2 1943.1,936.8 1943.7,935.7 1944.3,936.8 1944.9,935.6 1945.5,932.1 1946.1,930.3 1946.7,938.3 1947.3,941.9 1947.8,941.4 1948.2,892.1 1948.5,947.4 1949.1,937.3 1949.7,936.6 1950.3,935 1950.9,934.2 1951.5,934.8 1952.1,934.7 1952.7,936.8 1953.3,937.6 1953.9,936.8 1954.5,935.1 1955.1,937.3 1955.7,935.1 1956.3,934.8 1956.9,937.4 1957.5,936.3 1958.1,936.6 1958.7,936.5 1959.3,937.7 1959.9,935.7 1960.5,937.2 1961.1,936.6 1961.7,936.8 1962.3,937.3 1962.9,931.5 1963.5,929.9 1964.1,941.5 1964.5,884.4 1964.8,942.3 1965.3,935.1 1965.9,928.3 1966.5,935.9 1967.1,937.7 1967.7,936.7 1968.3,934.1 1968.9,936.2" fill="none" stroke="#0d9ae6" stroke-width="1.6" stroke-linejoin="round"/>
<polyline points="1450.6,1044 1451.7,1063.6 1452.3,1065.3 1452.9,1064 1453.5,1064.7 1454.1,1063.1 1454.7,1064.6 1455.3,1062 1455.9,1062.8 1456.5,1064.3 1457.1,1064.5 1457.7,1063.3 1458.3,1062 1458.9,1062.7 1459.5,1062.4 1460.1,1062.7 1460.7,1064.8 1461.3,1062.4 1461.9,1065.1 1462.5,1065.1 1463.1,1061 1463.7,1058.8 1464.3,1068.6 1464.9,1063.6 1465.4,1069.9 1465.7,1016.4 1466,1074.9 1466.7,1055.4 1467.3,1058 1467.9,1061.9 1468.5,1064.8 1469.1,1063.2 1469.7,1064.2 1470.3,1062 1470.9,1063.9 1471.5,1062.3 1472.1,1064 1472.7,1065.4 1473.3,1061.8 1473.9,1063.8 1474.5,1064 1475.1,1062.2 1475.7,1062.7 1476.3,1065.6 1476.9,1065.6 1477.5,1062.1 1478.1,1064.4 1478.7,1065.4 1479.3,1063.3 1479.9,1060.5 1480.5,1065.4 1481.1,1058.2 1481.6,1067.9 1482,1011.4 1482.3,1074.7 1482.9,1070.7 1483.5,1057.9 1484.1,1063.2 1484.7,1061.5 1485.3,1063.4 1485.9,1062.9 1486.5,1062 1487.1,1064.1 1487.7,1062 1488.3,1064.7 1488.9,1061.7 1489.5,1064.7 1490.1,1064.8 1490.7,1063.6 1491.3,1064.4 1491.9,1062.6 1492.5,1064.6 1493.1,1063.3 1493.7,1062.5 1494.3,1065.5 1494.9,1063.2 1495.5,1065.4 1496.1,1064.6 1496.7,1066.5 1497.3,1055.8 1497.9,1069 1498.2,1014.4 1498.6,1070.7 1499.1,1056.4 1499.7,1058.1 1500.3,1064.2 1500.9,1064.5 1501.5,1062.2 1502.1,1063.8 1502.7,1062.1 1503.3,1061.9 1503.9,1063.8 1504.5,1064.4 1505.1,1061.9 1505.7,1063.4 1506.3,1064.4 1506.9,1064.7 1507.5,1063.1 1508.1,1065.1 1508.7,1062.3 1509.3,1064.5 1509.9,1064.7 1510.5,1065.1 1511.1,1063.6 1511.7,1059.3 1512.3,1060.8 1512.9,1059.2 1513.5,1060.6 1514.2,1070.4 1514.5,1017.4 1514.9,1071.7 1515.3,1057.9 1515.9,1069.4 1516.5,1068.2 1517.1,1065.2 1517.7,1065.3 1518.3,1063.7 1518.9,1063.7 1519.5,1065.2 1520.1,1061.9 1520.7,1064.2 1521.3,1063.8 1521.9,1062.8 1522.5,1064.5 1523.1,1064.5 1523.7,1062 1524.3,1064.4 1524.9,1063.4 1525.5,1063.6 1526.1,1064.1 1526.7,1061.8 1527.3,1064 1527.9,1065.2 1528.5,1065.3 1529.1,1066 1529.7,1058.3 1530.4,1071 1530.8,1019.4 1531.1,1068.8 1531.5,1056.8 1532.1,1059.8 1532.7,1060.3 1533.3,1063.7 1533.9,1062.9 1534.5,1062.9 1535.1,1064.7 1535.7,1061.6 1536.3,1065.4 1536.9,1064 1537.5,1065.5 1538.1,1065.5 1538.7,1064.9 1539.3,1062 1539.9,1063 1540.5,1062.5 1541.1,1064.7 1541.7,1062.4 1542.3,1062.5 1542.9,1062 1543.5,1062.1 1544.1,1067.9 1544.7,1065.1 1545.3,1063.7 1545.9,1065 1546.7,1071.2 1547,1018.4 1547.4,1068.9 1547.7,1070.8 1548.3,1056.2 1548.9,1060 1549.5,1065.3 1550.1,1062.7 1550.7,1061.8 1551.3,1062.7 1551.9,1062.8 1552.5,1064.8 1553.1,1065.5 1553.7,1064.7 1554.3,1065.2 1554.9,1065.3 1555.5,1065.1 1556.1,1065.3 1556.7,1065.5 1557.3,1062 1557.9,1062.9 1558.5,1062.6 1559.1,1064 1559.7,1063.6 1560.3,1064.6 1560.9,1060.9 1561.5,1062.3 1562.1,1065 1562.7,1058.1 1563,1068.6 1563.3,1005.8 1563.7,1070.6 1564.5,1065.3 1565.1,1060.2 1565.7,1062.8 1566.3,1063.9 1566.9,1064.6 1567.5,1065.1 1568.1,1064.5 1568.7,1062.4 1569.3,1063.8 1569.9,1062.9 1570.5,1061.7 1571.1,1063.8 1571.7,1063.5 1572.3,1065.1 1572.9,1062.9 1573.5,1064.9 1574.1,1063.7 1574.7,1062 1575.3,1064.5 1575.9,1062.7 1576.5,1061.8 1577.1,1064.8 1577.7,1058.1 1578.3,1056.8 1578.9,1073.1 1579.2,1070.7 1579.6,1013.4 1579.9,1073.7 1580.7,1064.9 1581.3,1060.4 1581.9,1061.9 1582.5,1062.9 1583.1,1065.1 1583.7,1063.9 1584.3,1061.6 1584.9,1064.3 1585.5,1061.7 1586.1,1063.5 1586.7,1065.1 1587.3,1064.3 1587.9,1065.2 1588.5,1064.6 1589.1,1062.7 1589.7,1062.2 1590.3,1063.4 1590.9,1064.3 1591.5,1062.5 1592.1,1062.9 1592.7,1064 1593.3,1064.3 1593.9,1060.5 1594.5,1066 1595.1,1057.7 1595.5,1067.8 1595.9,1018.4 1596.2,1068.8 1596.9,1058.1 1597.5,1063.4 1598.1,1069.4 1598.7,1066.6 1599.3,1063.6 1599.9,1061.8 1600.5,1064.8 1601.1,1063.2 1601.7,1063.5 1602.3,1064.1 1602.9,1065.5 1603.5,1063.8 1604.1,1065.3 1604.7,1065.5 1605.3,1061.9 1605.9,1063 1606.5,1065.2 1607.1,1064.7 1607.7,1065.5 1608.3,1062.3 1608.9,1063.7 1609.5,1065.6 1610.1,1069 1610.7,1056.6 1611.3,1066.3 1611.8,1070.1 1612.1,1013.4 1612.5,1070.2 1613.1,1055.8 1613.7,1066.6 1614.3,1067.7 1614.9,1059.8 1615.5,1062.2 1616.1,1063.9 1616.7,1062.4 1617.3,1064.3 1617.9,1063.7 1618.5,1063.9 1619.1,1065 1619.7,1064.8 1620.3,1065.3 1620.9,1062.2 1621.5,1063.1 1622.1,1065.4 1622.7,1063.2 1623.3,1062.7 1623.9,1063.5 1624.5,1062.3 1625.1,1065 1625.7,1061.5 1626.3,1065.7 1626.9,1064 1627.5,1063 1628.1,1071.9 1628.4,1017.8 1628.8,1074.3 1629.3,1068.3 1629.9,1056.4 1630.5,1059.9 1631.1,1061.1 1631.7,1062.3 1632.3,1064.1 1632.9,1065.3 1633.5,1063.1 1634.1,1064.2 1634.7,1062.9 1635.3,1065.3 1635.9,1063.8 1636.5,1061.7 1637.1,1064.6 1637.7,1062.4 1638.3,1061.8 1638.9,1061.7 1639.5,1065 1640.1,1064.4 1640.7,1063 1641.3,1063.8 1641.9,1061.8 1642.5,1066.3 1643.1,1060 1643.7,1064 1644.3,1073 1644.7,1013.4 1645,1075.5 1645.5,1063.2 1646.1,1059.2 1646.7,1063.7 1647.3,1062 1647.9,1064.8 1648.5,1063.7 1649.1,1064.6 1649.7,1062 1650.3,1065.1 1650.9,1064.9 1651.5,1064.3 1652.1,1062.5 1652.7,1062.6 1653.3,1063.4 1653.9,1061.9 1654.5,1065.4 1655.1,1063.2 1655.7,1065.4 1656.3,1062.3 1656.9,1064.2 1657.5,1064.8 1658.1,1063.7 1658.7,1061.1 1659.3,1068.4 1659.9,1072.3 1660.6,1073.4 1660.9,1017 1661.3,1070.3 1661.7,1055.5 1662.3,1060 1662.9,1062.8 1663.5,1066.1 1664.1,1064 1664.7,1063.7 1665.3,1064.3 1665.9,1062.2 1666.5,1064.6 1667.1,1065.2 1667.7,1062.4 1668.3,1063.5 1668.9,1064.2 1669.5,1063.5 1670.1,1064.6 1670.7,1064.2 1671.3,1062.9 1671.9,1064.3 1672.5,1064.7 1673.1,1063.5 1673.7,1064 1674.3,1064 1674.9,1061.2 1675.5,1067.3 1676.1,1061.6 1676.9,1071 1677.2,1017.8 1677.6,1069.5 1677.9,1065 1678.5,1066.4 1679.1,1059.4 1679.7,1061.2 1680.3,1066.4 1680.9,1064.7 1681.5,1062.3 1682.1,1061.6 1682.7,1065.1 1683.3,1063.6 1683.9,1063.4 1684.5,1063.7 1685.1,1064.7 1685.7,1063.1 1686.3,1064.7 1686.9,1062.2 1687.5,1065.5 1688.1,1064.4 1688.7,1062.9 1689.3,1063.5 1689.9,1065.1 1690.5,1063.9 1691.1,1069 1691.7,1065.9 1692.3,1068.4 1693.1,1070.9 1693.5,1010.4 1693.8,1073.5 1694.1,1055.7 1694.7,1067 1695.3,1065.9 1695.9,1064.1 1696.5,1064 1697.1,1063.5 1697.7,1062.8 1698.3,1061.8 1698.9,1064.5 1699.5,1062.2 1700.1,1061.9 1700.7,1065.2 1701.3,1062 1701.9,1064.6 1702.5,1064.9 1703.1,1062.6 1703.7,1063.1 1704.3,1062.5 1704.9,1064.4 1705.5,1065.5 1706.1,1064.6 1706.7,1063.7 1707.3,1064.9 1707.9,1059.9 1708.5,1061 1709.1,1069.4 1709.4,1071.4 1709.8,1020.4 1710.1,1075.5 1710.9,1065 1711.5,1063.6 1712.1,1066.4 1712.7,1061.3 1713.3,1064.8 1713.9,1063 1714.5,1065.3 1715.1,1061.9 1715.7,1061.9 1716.3,1063.1 1716.9,1063.5 1717.5,1063.1 1718.1,1062.5 1718.7,1063.4 1719.3,1065.2 1719.9,1065.4 1720.5,1064.1 1721.1,1062.6 1721.7,1063.9 1722.3,1062.2 1722.9,1063.1 1723.5,1060.2 1724.1,1061 1724.7,1057.9 1725.3,1068.1 1725.7,1069.9 1726,1013.6 1726.4,1071.6 1727.1,1067.2 1727.7,1063.7 1728.3,1061.4 1728.9,1062.2 1729.5,1063.5 1730.1,1062.6 1730.7,1063.1 1731.3,1065.2 1731.9,1063.9 1732.5,1064.2 1733.1,1064.2 1733.7,1061.6 1734.3,1064.7 1734.9,1065.1 1735.5,1064.6 1736.1,1063.7 1736.7,1065 1737.3,1065.4 1737.9,1062.7 1738.5,1062.3 1739.1,1061 1739.7,1059.6 1740.3,1060.6 1740.9,1061.4 1741.5,1068.4 1741.9,1073 1742.3,1012.5 1742.6,1074.2 1743.3,1064.8 1743.9,1069.1 1744.5,1066 1745.1,1060 1745.7,1062.5 1746.3,1061.7 1746.9,1064.9 1747.5,1062.3 1748.1,1063.9 1748.7,1062.7 1749.3,1063 1749.9,1064.7 1750.5,1063.8 1751.1,1062.7 1751.7,1064.6 1752.3,1062.2 1752.9,1061.8 1753.5,1064.4 1754.1,1065 1754.7,1064.7 1755.3,1064.4 1755.9,1068.2 1756.5,1060.7 1757.1,1063 1757.7,1062.1 1758.2,1068.7 1758.6,1009.7 1758.9,1071.4 1759.5,1064.9 1760.1,1065.7 1760.7,1063.3 1761.3,1065.5 1761.9,1063.4 1762.5,1063.5 1763.1,1062.4 1763.7,1063.4 1764.3,1063.5 1764.9,1063.3 1765.5,1064.6 1766.1,1062.9 1766.7,1064.1 1767.3,1064.3 1767.9,1062.1 1768.5,1064.9 1769.1,1061.9 1769.7,1062.6 1770.3,1064.9 1770.9,1062.1 1771.5,1062.7 1772.1,1066.1 1772.7,1062.8 1773.3,1068.2 1773.9,1060.8 1774.5,1072.2 1774.8,1018.4 1775.2,1069 1775.7,1065.9 1776.3,1067.4 1776.9,1064.7 1777.5,1065.5 1778.1,1064.3 1778.7,1064.6 1779.3,1062.3 1779.9,1064.5 1780.5,1063.4 1781.1,1061.8 1781.7,1061.8 1782.3,1062.7 1782.9,1062.5 1783.5,1062.7 1784.1,1065.2 1784.7,1063.2 1785.3,1062.4 1785.9,1062 1786.5,1061.8 1787.1,1063.2 1787.7,1063.3 1788.3,1062 1788.9,1058.6 1789.5,1059.4 1790.1,1066.1 1790.8,1072.5 1791.1,1008.1 1791.4,1074.9 1791.9,1071.3 1792.5,1062.4 1793.1,1060.6 1793.7,1059.7 1794.3,1062.5 1794.9,1063.2 1795.5,1064.1 1796.1,1063 1796.7,1063.5 1797.3,1064.3 1797.9,1065.3 1798.5,1065.4 1799.1,1063.1 1799.7,1063.1 1800.3,1065.6 1800.9,1065 1801.5,1065.1 1802.1,1062.1 1802.7,1062.8 1803.3,1063.3 1803.9,1062.8 1804.5,1066 1805.1,1063.2 1805.7,1063.9 1806.3,1059.1 1807,1071.5 1807.4,1014 1807.7,1069.4 1808.1,1055.9 1808.7,1065.1 1809.3,1067.2 1809.9,1064.6 1810.5,1067.1 1811.1,1062.3 1811.7,1062.1 1812.3,1062.1 1812.9,1061.7 1813.5,1065 1814.1,1065.5 1814.7,1063.6 1815.3,1064.6 1815.9,1064.2 1816.5,1064.2 1817.1,1063.2 1817.7,1065.4 1818.3,1062.8 1818.9,1062 1819.5,1061.8 1820.1,1064.8 1820.7,1066.6 1821.3,1062.5 1821.9,1060.6 1822.5,1057.9 1823.3,1070.9 1823.6,1018.8 1824,1069.7 1824.3,1056.5 1824.9,1062.6 1825.5,1065.2 1826.1,1064.6 1826.7,1064.7 1827.3,1062 1827.9,1065.1 1828.5,1062.6 1829.1,1063.7 1829.7,1063.9 1830.3,1064.3 1830.9,1063.8 1831.5,1064.5 1832.1,1061.8 1832.7,1063.7 1833.3,1063.6 1833.9,1064.1 1834.5,1062 1835.1,1064.4 1835.7,1061.9 1836.3,1061.8 1836.9,1064.2 1837.5,1063.7 1838.1,1063 1838.7,1063.9 1839.3,1067.5 1839.6,1072.9 1839.9,1009 1840.3,1070.3 1841.1,1061.9 1841.7,1059.4 1842.3,1062.6 1842.9,1060.8 1843.5,1062.7 1844.1,1061.7 1844.7,1061.7 1845.3,1065 1845.9,1062.9 1846.5,1064.5 1847.1,1062.6 1847.7,1064.6 1848.3,1065.1 1848.9,1061.7 1849.5,1064 1850.1,1065.2 1850.7,1064.7 1851.3,1062.1 1851.9,1064.5 1852.5,1064.6 1853.1,1063 1853.7,1061.8 1854.3,1068.7 1854.9,1061.5 1855.5,1055.8 1855.8,1067.9 1856.2,1014.7 1856.5,1071.8 1857.3,1070.7 1857.9,1060.7 1858.5,1064.2 1859.1,1061.3 1859.7,1064.8 1860.3,1064 1860.9,1063.4 1861.5,1063.6 1862.1,1063.7 1862.7,1063.9 1863.3,1062.2 1863.9,1064.5 1864.5,1062.6 1865.1,1061.7 1865.7,1065.4 1866.3,1062 1866.9,1064.8 1867.5,1064.7 1868.1,1063.3 1868.7,1064 1869.3,1061.4 1869.9,1066.9 1870.5,1064.2 1871.1,1065.4 1871.7,1062.5 1872.1,1069 1872.5,1015.4 1872.8,1074.6 1873.5,1064.8 1874.1,1063.6 1874.7,1067.7 1875.3,1064.2 1875.9,1065.5 1876.5,1064.2 1877.1,1064.7 1877.7,1063.8 1878.3,1064.6 1878.9,1064.7 1879.5,1063.6 1880.1,1063.5 1880.7,1062.4 1881.3,1064.2 1881.9,1064.5 1882.5,1063.2 1883.1,1061.9 1883.7,1064.4 1884.3,1064.2 1884.9,1064.2 1885.5,1062.2 1886.1,1066.7 1886.7,1061.3 1887.3,1063.1 1887.9,1069.1 1888.4,1068.7 1888.7,1008.5 1889.1,1069.4 1889.7,1066.2 1890.3,1057 1890.9,1067.8 1891.5,1062.4 1892.1,1062.9 1892.7,1063.4 1893.3,1061.7 1893.9,1065.1 1894.5,1064.9 1895.1,1065.5 1895.7,1065.3 1896.3,1064.9 1896.9,1062.8 1897.5,1064.2 1898.1,1065.1 1898.7,1061.6 1899.3,1061.9 1899.9,1065.5 1900.5,1062 1901.1,1065.2 1901.7,1063.1 1902.3,1061.8 1902.9,1066.5 1903.5,1066.1 1904.1,1068 1904.6,1069.8 1905,1012.5 1905.3,1071.7 1905.9,1073 1906.5,1064.1 1907.1,1065.7 1907.7,1065.5 1908.3,1063.3 1908.9,1065.6 1909.5,1063.9 1910.1,1065.3 1910.7,1065.3 1911.3,1062.7 1911.9,1061.7 1912.5,1063.9 1913.1,1063.9 1913.7,1062.9 1914.3,1063 1914.9,1062.7 1915.5,1062 1916.1,1063.4 1916.7,1063.7 1917.3,1063.3 1917.9,1065 1918.5,1064.9 1919.1,1064.7 1919.7,1060.2 1920.3,1069.9 1920.9,1070.8 1921.3,1016.4 1921.6,1075.3 1922.1,1071 1922.7,1058.8 1923.3,1065.9 1923.9,1064.4 1924.5,1064.1 1925.1,1064 1925.7,1064.1 1926.3,1065.1 1926.9,1063.2 1927.5,1064.3 1928.1,1065.4 1928.7,1062 1929.3,1065 1929.9,1064.4 1930.5,1063.4 1931.1,1061.8 1931.7,1063.6 1932.3,1062.3 1932.9,1062.4 1933.5,1063.6 1934.1,1064.1 1934.7,1066.1 1935.3,1065.1 1935.9,1059.7 1936.5,1063.6 1937.2,1070 1937.5,1013.4 1937.9,1074.7 1938.3,1069.5 1938.9,1065.5 1939.5,1063.4 1940.1,1067.2 1940.7,1065.3 1941.3,1063 1941.9,1062.7 1942.5,1061.6 1943.1,1063.7 1943.7,1061.9 1944.3,1062.7 1944.9,1063.4 1945.5,1063.1 1946.1,1062.4 1946.7,1063.3 1947.3,1065.3 1947.9,1063.8 1948.5,1064.2 1949.1,1065.6 1949.7,1064.2 1950.3,1065.4 1950.9,1066.1 1951.5,1068.3 1952.1,1061.9 1952.7,1058.3 1953.5,1068.4 1953.8,1016.7 1954.1,1072 1954.5,1064.8 1955.1,1062.6 1955.7,1058.9 1956.3,1062 1956.9,1065.9 1957.5,1065.1 1958.1,1063.6 1958.7,1062.6 1959.3,1064.9 1959.9,1065 1960.5,1064.8 1961.1,1064.3 1961.7,1064.1 1962.3,1063.2 1962.9,1063.9 1963.5,1063.1 1964.1,1064.4 1964.7,1065.1 1965.3,1062.8 1965.9,1064.5 1966.5,1062 1967.1,1062 1967.7,1062.4 1968.3,1062.8 1968.8,1060 1969.2,1032" fill="none" stroke="#7cb845" stroke-width="1.6" stroke-linejoin="round"/>
<line x1="1709.9" y1="656.4" x2="1709.9" y2="1118" stroke="#2b1d1d" stroke-width="1.9" stroke-dasharray="8,5.2" stroke-dashoffset="4"/>
<line x1="1714" y1="762.8" x2="1725.7" y2="762.8" stroke="#2b1d1d" stroke-width="1.9" />
<line x1="1716" y1="762.8" x2="1877" y2="762.8" stroke="#2b1d1d" stroke-width="1.9" stroke-dasharray="8,5.1" stroke-dashoffset="11.5"/>
<polygon points="1710.7,762.8 1721,758.4 1718,762.8 1721,767.2" fill="#2b1d1d"/>
<polygon points="1882.6,762.8 1872.3,758.4 1875.3,762.8 1872.3,767.2" fill="#2b1d1d"/>
<text transform="translate(1725.5,749.5) scale(0.9434,1)" font-size="25.4" text-anchor="start" fill="#000" stroke="#000" stroke-width="0.3" >Δt = 133.3 ns</text>
<line x1="1471.6" y1="706.4" x2="1532.5" y2="706.4" stroke="#0d9ae6" stroke-width="2.8" />
<line x1="1471.6" y1="746.3" x2="1532.5" y2="746.3" stroke="#7cb845" stroke-width="2.8" />
<text transform="translate(1547.3,716.4) scale(0.9434,1)" font-size="25.4" text-anchor="start" fill="#000" stroke="#000" stroke-width="0.3" >532/532 nm</text>
<text transform="translate(1547.3,756.4) scale(0.9434,1)" font-size="25.4" text-anchor="start" fill="#000" stroke="#000" stroke-width="0.3" >532/542 nm</text>
<rect x="1450" y="656.4" width="519.8" height="461.6" fill="none" stroke="#2a2a2a" stroke-width="1.7"/>
<text transform="translate(1450,1150.5) scale(0.9434,1)" font-size="30.2" text-anchor="middle" fill="#000" stroke="#000" stroke-width="0.3" >−200</text>
<line x1="1514.9" y1="1118" x2="1514.9" y2="1113.6" stroke="#2a2a2a" stroke-width="1.7" />
<line x1="1579.8" y1="1118" x2="1579.8" y2="1110" stroke="#2a2a2a" stroke-width="1.7" />
<text transform="translate(1579.8,1150.5) scale(0.9434,1)" font-size="30.2" text-anchor="middle" fill="#000" stroke="#000" stroke-width="0.3" >−100</text>
<line x1="1644.6" y1="1118" x2="1644.6" y2="1113.6" stroke="#2a2a2a" stroke-width="1.7" />
<line x1="1709.5" y1="1118" x2="1709.5" y2="1110" stroke="#2a2a2a" stroke-width="1.7" />
<text transform="translate(1709.5,1150.5) scale(0.9434,1)" font-size="30.2" text-anchor="middle" fill="#000" stroke="#000" stroke-width="0.3" >0</text>
<line x1="1774.4" y1="1118" x2="1774.4" y2="1113.6" stroke="#2a2a2a" stroke-width="1.7" />
<line x1="1839.2" y1="1118" x2="1839.2" y2="1110" stroke="#2a2a2a" stroke-width="1.7" />
<text transform="translate(1839.2,1150.5) scale(0.9434,1)" font-size="30.2" text-anchor="middle" fill="#000" stroke="#000" stroke-width="0.3" >100</text>
<line x1="1904.1" y1="1118" x2="1904.1" y2="1113.6" stroke="#2a2a2a" stroke-width="1.7" />
<text transform="translate(1969,1150.5) scale(0.9434,1)" font-size="30.2" text-anchor="middle" fill="#000" stroke="#000" stroke-width="0.3" >200</text>
<line x1="1450" y1="1062.7" x2="1458" y2="1062.7" stroke="#2a2a2a" stroke-width="1.7" />
<text transform="translate(1440.5,1071) scale(0.9434,1)" font-size="30.2" text-anchor="end" fill="#000" stroke="#000" stroke-width="0.3" >0.0</text>
<line x1="1450" y1="999.2" x2="1454.5" y2="999.2" stroke="#2a2a2a" stroke-width="1.7" />
<line x1="1450" y1="935.6" x2="1458" y2="935.6" stroke="#2a2a2a" stroke-width="1.7" />
<text transform="translate(1440.5,943.9) scale(0.9434,1)" font-size="30.2" text-anchor="end" fill="#000" stroke="#000" stroke-width="0.3" >0.5</text>
<line x1="1450" y1="872.1" x2="1454.5" y2="872.1" stroke="#2a2a2a" stroke-width="1.7" />
<line x1="1450" y1="808.5" x2="1458" y2="808.5" stroke="#2a2a2a" stroke-width="1.7" />
<text transform="translate(1440.5,816.8) scale(0.9434,1)" font-size="30.2" text-anchor="end" fill="#000" stroke="#000" stroke-width="0.3" >1.0</text>
<line x1="1450" y1="745" x2="1454.5" y2="745" stroke="#2a2a2a" stroke-width="1.7" />
<line x1="1450" y1="681.4" x2="1458" y2="681.4" stroke="#2a2a2a" stroke-width="1.7" />
<text transform="translate(1440.5,689.7) scale(0.9434,1)" font-size="30.2" text-anchor="end" fill="#000" stroke="#000" stroke-width="0.3" >1.5</text>
<text transform="translate(1710,1188.9) scale(0.9434,1)" font-size="30.2" text-anchor="middle" fill="#000" stroke="#000" stroke-width="0.3" >Time Delay (ns)</text>
<text transform="translate(1392.5,887.7) rotate(-90) scale(0.9434,1)" font-size="30.2" text-anchor="middle" fill="#000" stroke="#000" stroke-width="0.3">Correlation (a.u.)</text>
<text transform="translate(5.5,30) scale(0.9434,1)" font-size="45.6" text-anchor="start" fill="#000" font-weight="bold" >a</text><text transform="translate(1344,29.5) scale(0.9434,1)" font-size="45.6" text-anchor="start" fill="#000" font-weight="bold" >b</text><text transform="translate(5.5,665) scale(0.9434,1)" font-size="45.6" text-anchor="start" fill="#000" font-weight="bold" >c</text><text transform="translate(684,664.5) scale(0.9434,1)" font-size="45.6" text-anchor="start" fill="#000" font-weight="bold" >d</text><text transform="translate(1343,665) scale(0.9434,1)" font-size="45.6" text-anchor="start" fill="#000" font-weight="bold" >e</text>
</svg>
</body></html>
